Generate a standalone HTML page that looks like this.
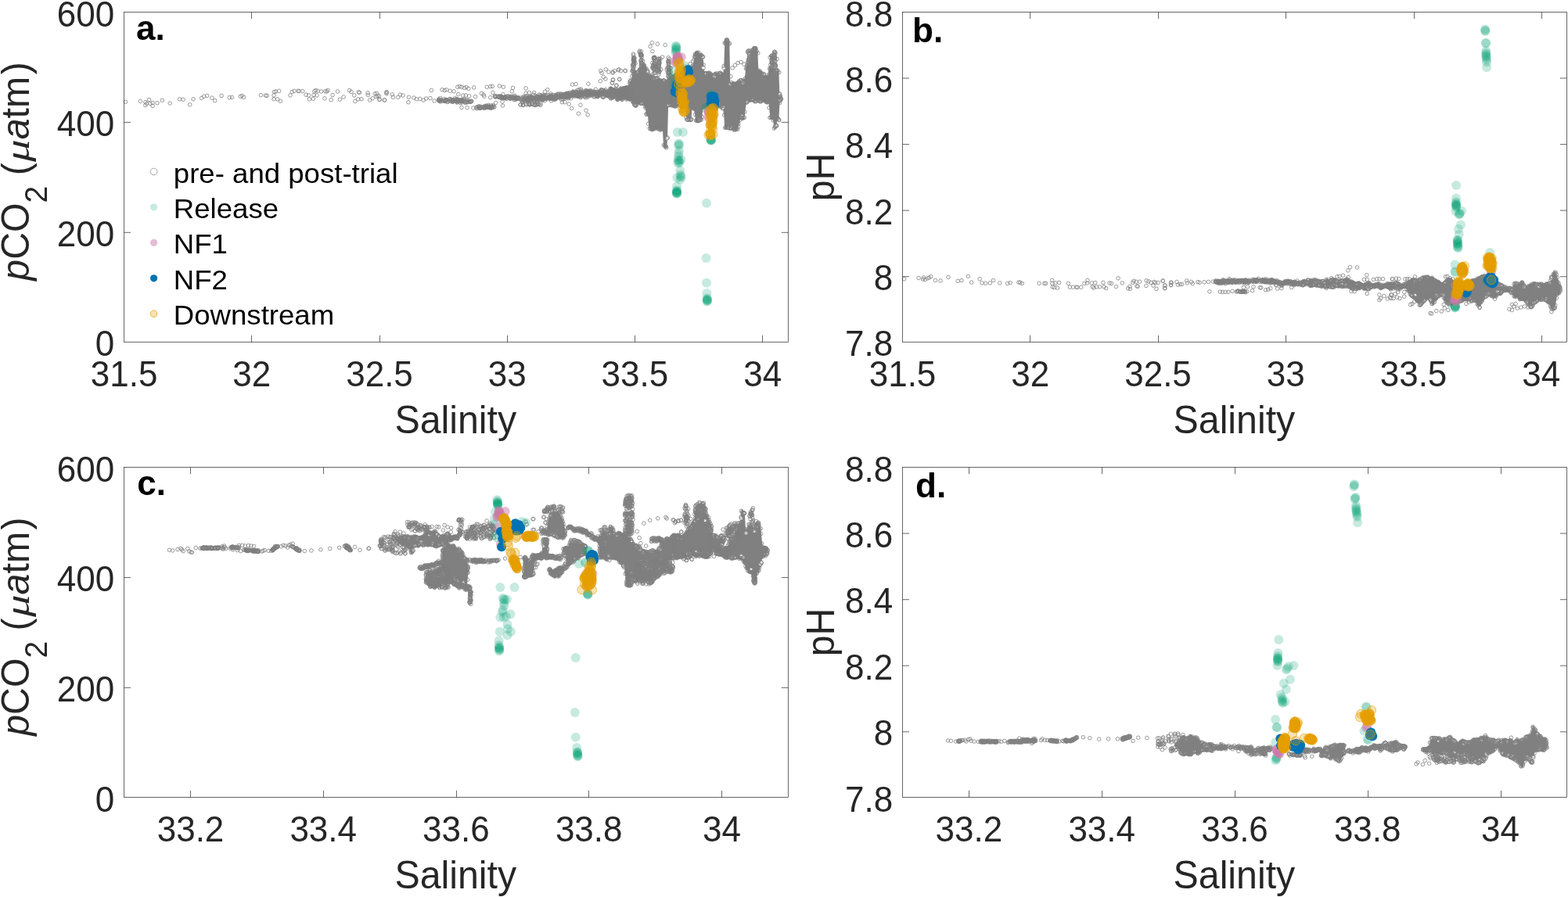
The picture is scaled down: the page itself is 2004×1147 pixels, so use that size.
<!DOCTYPE html>
<html lang="en"><head><meta charset="utf-8"><title>Salinity vs pCO2 and pH</title>
<style>
html,body{margin:0;padding:0;background:#fff}
body{width:2004px;height:1147px;overflow:hidden}
svg{display:block}
text{font-family:"Liberation Sans",Arial,Helvetica,sans-serif;fill:#262626}
.tk{font-size:44px}
.lb{font-size:48.3px}
.lg{font-size:36.6px;fill:#000}
.pn{font-size:44px;font-weight:bold;fill:#000}
.mu{font-family:"Liberation Serif","DejaVu Serif",serif;font-style:italic}
.ax{fill:none;stroke:#262626;stroke-width:.7}
</style></head><body>
<svg width="2004" height="1147" viewBox="0 0 2004 1147">
<rect width="2004" height="1147" fill="#fff"/>
<defs>
<marker id="g" markerUnits="userSpaceOnUse" markerWidth="8" markerHeight="8" refX="4" refY="4" orient="0"><circle cx="4" cy="4" r="2.3" fill="none" stroke="#808080" stroke-width="0.8"/></marker>
<marker id="h" markerUnits="userSpaceOnUse" markerWidth="8" markerHeight="8" refX="4" refY="4" orient="0"><circle cx="4" cy="4" r="2.3" fill="#fff" stroke="#808080" stroke-width="0.8"/></marker>
<marker id="r" markerUnits="userSpaceOnUse" markerWidth="14" markerHeight="14" refX="7" refY="7" orient="0"><circle cx="7" cy="7" r="6" fill="#009E73" fill-opacity="0.22"/></marker>
<marker id="p" markerUnits="userSpaceOnUse" markerWidth="14" markerHeight="14" refX="7" refY="7" orient="0"><circle cx="7" cy="7" r="6" fill="#CC79A7" fill-opacity="0.5"/></marker>
<marker id="b" markerUnits="userSpaceOnUse" markerWidth="14" markerHeight="14" refX="7" refY="7" orient="0"><circle cx="7" cy="7" r="6" fill="#0072B2"/></marker>
<marker id="o" markerUnits="userSpaceOnUse" markerWidth="14" markerHeight="14" refX="7" refY="7" orient="0"><circle cx="7" cy="7" r="5.7" fill="#E69F00" fill-opacity="0.3" stroke="#E69F00" stroke-width="0.6"/></marker>
</defs>
<style>.m{fill:none;stroke:none}</style>
<g id="panel-a">
<clipPath id="clip-a"><rect x="155.1" y="12.0" width="855.7" height="428.8"/></clipPath>
<g clip-path="url(#clip-a)">
<polygon points="780,112.1 781,112 782,111.9 783,111.8 784,112.2 785,112.7 786,113.1 787,113.2 788,113.3 789,113.4 790,113.7 791,114.1 792,114.4 793,113.6 794,112.9 795,112.2 796,111.8 797,111.4 798,111 799,110.7 800,110.4 801,110.1 802,110 803,109.8 804,107.2 805,105.1 806,103.1 807,101 808,96.1 809,92.2 810,90.6 811,90.6 812,90.6 813,91.2 814,90.9 815,89.9 816,88.3 817,87 818,85.7 819,84.4 820,83.4 821,82.3 822,81.2 823,81.2 824,82.1 825,83.1 826,86.1 827,88.4 828,90.7 829,93.8 830,95.5 831,96.1 832,96.5 833,96.5 834,96.5 835,97.6 836,98.6 837,99.7 838,99.1 839,98.4 840,97.8 841,99 842,100.2 843,101.5 844,101.6 845,101.8 846,102 847,101.8 848,101.9 849,101.3 850,101.8 851,102.3 852,102.8 853,100.8 854,95.2 855,94.6 856,94.9 857,95.1 858,95.4 859,96.1 860,96.8 860,136.9 859,136.3 858,135.7 857,135.8 856,136 855,136.1 854,137.1 853,178.9 852,190.2 851,189.5 850,188.8 849,188.1 848,187.1 847,167.4 846,166.5 845,167 844,167.4 843,167.8 842,167 841,166.2 840,165.4 839,165.6 838,165.7 837,165.8 836,166.6 835,167.4 834,168.1 833,167.6 832,167 831,166.5 830,165.8 829,160.3 828,148.3 827,147.9 826,147.5 825,140.1 824,137.5 823,134.9 822,133 821,133.5 820,134.1 819,134.7 818,133.9 817,133.2 816,132.5 815,133.8 814,135.5 813,137.7 812,137.2 811,135.6 810,134 809,133.8 808,132 807,129.4 806,128.9 805,128.5 804,128 803,127.8 802,128.1 801,128.4 800,127.5 799,126.7 798,125.8 797,126.9 796,127.9 795,128.9 794,128.5 793,128.1 792,127.6 791,128.2 790,128.7 789,129.3 788,128.1 787,126.9 786,125.7 785,126.5 784,127.2 783,128 782,127.6 781,127.3 780,126.9" fill="#808080"/>
<polygon points="860.3,97.6 861.3,96.7 862.3,95.7 863.3,94.8 864.3,95.8 865.3,96.8 866.3,97.8 867.3,97.1 868.3,96.3 869.3,95.5 870.3,95.5 871.3,95.4 872.3,95.3 873.3,94.8 874.3,94.2 875.3,93.6 876.3,95.1 877.3,95.9 878.3,95.7 879.3,93.8 880.3,91.9 881.3,90 882.3,87.9 883.3,85.8 884.3,83.9 885.3,83.7 886.3,79.9 887.3,74.9 888.3,70.5 889.3,68.7 890.3,68.1 891.3,68.7 892.3,69.2 893.3,69.7 894.3,68.9 895.3,68.2 896.3,67.5 897.3,68.4 898.3,71.4 899.3,81.5 900.3,90.8 901.3,92.4 902.3,92.5 903.3,92.1 904.3,91.8 905.3,91.5 906.3,91.8 907.3,92.5 908.3,93.2 909.3,93.9 910.3,94.7 911.3,95.5 912.3,95 913.3,93.5 914.3,92.1 915.3,92.7 916.3,93.2 917.3,93.8 918.3,92.4 919.3,91.5 920.3,91.1 921.3,91.9 922.3,92.8 923.3,93.6 924.3,93.7 925.3,82.8 926.3,53.2 927.3,52.9 928.3,52.6 929.3,52.2 930.3,52.8 931.3,53.4 932.3,54 933.3,106.3 934.3,105.6 935.3,105 936.3,105.3 937.3,105.6 938.3,105.8 939.3,105.5 940.3,105.1 941.3,104.7 942.3,104 943.3,103 944.3,101.7 945.3,101.3 946.3,100.9 947.3,100.9 948.3,101.2 949.3,101.5 950.3,101.8 951.3,101 952.3,95.8 953.3,85.7 954.3,85.3 955.3,84.9 956.3,84.6 957.3,83.8 958.3,83.1 959.3,71.7 960.3,62.9 961.3,64 962.3,65.1 963.3,64.3 964.3,63.5 965.3,62.8 966.3,63 967.3,63.3 968.3,66.2 969.3,88.5 970.3,89.4 971.3,89.5 972.3,90.4 973.3,91.3 974.3,92.2 975.3,93.2 976.3,93.8 977.3,94.5 978.3,95.4 979.3,96.3 980.3,97.2 981.3,96.6 982.3,90.3 983.3,85.2 984.3,85.1 985.3,85.6 986.3,86.2 987.3,86.5 988.3,86.8 989.3,87.3 990.3,87.5 991.3,87.7 992.3,87.9 993.3,87.3 994.3,88.1 995.3,89 996.3,118.3 997.3,120.5 998.3,122.6 998.3,128.8 997.3,131 996.3,133.2 995.3,154.8 994.3,154.1 993.3,153.3 992.3,163.5 991.3,164.2 990.3,165 989.3,165.7 988.3,155.3 987.3,153.5 986.3,152.7 985.3,152.4 984.3,152.1 983.3,139.9 982.3,131.2 981.3,132.2 980.3,133 979.3,132.4 978.3,131.8 977.3,131.1 976.3,130.9 975.3,130.6 974.3,130.6 973.3,131.1 972.3,131.5 971.3,131.9 970.3,131.2 969.3,130.5 968.3,129.6 967.3,130.2 966.3,130.7 965.3,131.2 964.3,130.9 963.3,130.6 962.3,130.2 961.3,130.4 960.3,130.5 959.3,130.6 958.3,130.8 957.3,131.1 956.3,131.5 955.3,132.2 954.3,132.9 953.3,133.7 952.3,145.3 951.3,151.7 950.3,153.2 949.3,152.7 948.3,152.3 947.3,151.8 946.3,152.9 945.3,156.5 944.3,160.1 943.3,164.4 942.3,166.4 941.3,167.1 940.3,167.3 939.3,167.5 938.3,167.7 937.3,167 936.3,166.3 935.3,165.5 934.3,165.6 933.3,165.8 932.3,165.8 931.3,165.4 930.3,165 929.3,164.6 928.3,165 927.3,165.3 926.3,165.7 925.3,148.4 924.3,141.1 923.3,139.9 922.3,139.2 921.3,138.5 920.3,137.9 919.3,137.6 918.3,137.6 917.3,138.1 916.3,138 915.3,138 914.3,138 913.3,138.1 912.3,138.2 911.3,138.3 910.3,138.6 909.3,138.8 908.3,139 907.3,139.4 906.3,139.8 905.3,140.2 904.3,139.4 903.3,138.7 902.3,137.9 901.3,137.5 900.3,137.3 899.3,138.3 898.3,140.2 897.3,151 896.3,154.5 895.3,155 894.3,155.5 893.3,156 892.3,156.3 891.3,156.7 890.3,157.1 889.3,156.5 888.3,148.6 887.3,142.1 886.3,140.8 885.3,140 884.3,140.7 883.3,155.7 882.3,156.3 881.3,155.5 880.3,155.2 879.3,154.9 878.3,154.6 877.3,153.9 876.3,136.1 875.3,135.5 874.3,136.7 873.3,137.8 872.3,139 871.3,138.1 870.3,137.2 869.3,136.3 868.3,136.1 867.3,136 866.3,135.9 865.3,136.5 864.3,137.1 863.3,137.7 862.3,137.3 861.3,137 860.3,136.7" fill="#808080"/>
<polyline class="m" points="786.6,116.8 786.7,123.6 788.4,115.7 810.8,134 812.4,92.7 812.7,92.9 814,92.4 820.2,132.1 827.8,91.9 835.6,99.8 838.3,100.3 848.6,103.1 852.5,177.1 854.1,97 854.4,134.3 856.8,96.3 857,133.8 859.6,98.1 861.1,133.2 863.5,98 867.4,132.5 870.4,96.9 870.3,132 872.3,97.4 875.2,133.5 876.2,96.3 877.8,152.8 878.3,98.5 883.6,152.8 888.2,71.8 893.3,153.3 897.5,71.7 898.2,72.8 899,86.7 902.5,94.4 905.2,136.9 910.6,137.1 913,97.5 915.7,135.7 918.4,133.7 919.8,94.3 923.2,136.8 924.3,137.6 925.1,87 931.5,163.2 933.1,107.7 934.4,163.3 946.8,102.8 948.2,148.9 949.4,105.7 954.8,130 961.7,127.7 966.5,129.3 971.1,129.5 972.7,129.7 976.2,95.1 990.8,161.5 992.3,90.5 992.5,161 995.8,153.7 996.6,121.1 997,128" marker-start="url(#h)" marker-mid="url(#h)" marker-end="url(#h)"/>
<polyline class="m" points="160.5,130.3 179.3,129.4 185.8,130.6 187.5,132.4 190.5,127.5 191.9,132.4 195.1,131.5 195.1,135.5 185.8,134.5 201,131.7 207.3,128.2 217.2,132 229.5,126.8 234,127.2 242.7,133.8 247.1,126.8 257.6,125.4 260.7,123.1 264.7,122.4 270.9,125.1 274.7,128.6 283.1,122.4 293.2,124.7 296.4,124.4 307.2,123.3 309.3,122.4 311.6,124.4 333.4,121.7 339.5,122.1 341.2,122.3 350,121.9 350.5,117.5 352.6,117 356.6,116.3 350,126.8 354.7,126.8 358.4,129.3 370.9,121.9 373.2,117.5 376.2,116.3 380.9,116.3 382.3,116.5 386.8,116.5 391,121.2 394.5,121.9 395.4,126.8 400.3,126.3 401,121.4 401.8,116.7 403.6,115.5 405,121.9 406.2,116.3 410.6,117 414.9,125.8 415.8,116.7 417.7,117 419,115.5 423.2,127.7 425.1,121.6 431.5,117 434.3,127.2 439,124 446.6,115.5 449,117.5 452.7,121.9 453.9,129.4 457.7,126.8 458.3,117.7 459.5,118.4 461.9,126.6 470.1,118.8 470.3,121.4 472.6,128 476.2,125.8 479.2,119.8 481,123.7 482.7,122.4 485,127.2 491.4,127.9 494.1,117.5 494.1,119.8 481.4,119.4 484.4,122.9 485.2,127.2 491.4,128.1 494,118.5 501.3,120.8 502.4,124.3 508.8,124.3 511.4,121.1 514.9,122 522.4,124.3 521.9,130.7 528.9,125 532.4,126.7 536.8,126.4 541.1,128.1 544.6,126 549.9,125.5 551.3,115.4 555.1,129 565.1,114.7 568.2,115.5 570.8,114.8 575.2,116.2 580.1,116.8 584.8,111.2 587.4,110.6 590,111.2 593.5,112.4 596.1,111.5 598.8,113.3 605.7,111.9 585.7,120.6 591.8,122 595.3,122 599.6,122.9 607.5,123.7 590,137.4 597,137.7 604.9,138.1 615.4,119.4 618,121.1 618.8,123.2 622.3,111.2 626.7,110.6 629.3,110.3 638.4,110 643.3,111.2 629.9,118.5 626.7,124.6 633.7,131.6 642.1,129.9 642.4,135.1 655.5,112.4 654.3,116.8 672.1,112.9 672.1,119.4 676.5,118.5 682.6,118.5 699.7,114.7 696.6,117.3 731.5,108 735.9,107.5 751.9,107.2 727.1,133 730.6,138.6 742,134.2 739.4,145.2 749,141.2 751.2,146.8 718.4,130.7 721.9,130.7 767.8,90.6 769,93.2 774.3,88.8 771.3,98.4 773.9,101 767.3,103.7 777.8,92 783,93.2 785.6,90.6 790.9,88.8 793.5,90.6 799.3,90.7 783.5,101.9 782.5,106.3 791.8,101.6 787.7,109.4 805.4,103.7 583.7,127.7 569.8,127.4 571.6,130.2 585.5,127.9 582.6,128.9 597.2,130.4 580.5,128.5 595.7,130.7 593.4,127.9 587.8,129.4 589.7,128.8 593.2,126.7 576.2,129.6 589.4,129.4 568.6,129.5 589.3,128.5 596.9,131 583,129.4 593.9,129.8 570.4,128.6 594.3,131.1 581.4,125.8 592.3,128.6 590.1,127.5 582.7,128.9 569.3,129 567.6,126.6 580.7,128.2 598.1,128.4 572.3,130.3 573.2,128.9 578.8,130.2 584.8,127.2 563.8,128.2 601.4,130.1 578.3,130.1 574.9,126.7 576.5,127.5 596.3,127.7 580.6,128.1 583.9,131 587.1,129 600.4,130.5 590.3,127.5 585.8,129.6 585,127.6 570.2,128.1 571.2,127.9 587.3,127.9 602.2,129.4 562.6,125.5 584.3,129.5 562.4,128.5 564.4,128.6 588.2,131.5 599.2,129.3 583.3,126.4 599.8,129.7 562,129.2 560.7,128.7 563,130 569.5,129.3 588.5,129.7 584.1,128.1 566.2,128.8 561.4,128.8 584.3,130.5 577.4,129.1 584.7,127.2 602.1,129.9 575,126.4 594.1,130.9 560.6,127 591,129.1 566.7,128.6 590,128.9 578.3,129.7 578.5,128.6 561.1,127.4 602.7,129.3 576.3,127.8 577.9,127.5 561.1,128.2 588.1,128.4 570,127.6 563.1,127.9 566.3,128.8 578.7,128.8 578,127.7 590.1,131 626.2,136.9 614.1,136.1 617.4,137.5 621.9,137.4 623.4,136.8 629.6,135.8 623.2,137.2 630.4,134.5 620,137.9 611.3,138 623.5,136.6 627.4,135 626.9,136.9 628,138.2 617.4,137 625.9,137.2 618.9,138.4 621.1,135.8 629.1,136.2 615.7,137.5 631.8,136.6 623.4,136.4 620.7,137.2 624.4,137.4 631.1,137 609.3,137.1 624.5,137.3 614.7,137.4 621.6,135.1 611.7,136 619.4,135.6 628.1,137.4 624.4,136.5 623.8,136.9 608.6,137.5 612.2,136.4 624,136.3 629.5,136.9 622.1,136.4 613.2,136.8 629.2,137.2 613.4,138.5 611.3,136.9 609.3,138.9 614,138.4 625.7,136.1 618.7,136.5 626.6,138.2 624.3,134.4 619.5,136.9 641.4,124.2 659.3,124.3 660,126.8 652,123.4 662.6,124.7 656.4,125.8 657.2,127.7 658.7,124.9 640,123.1 656.9,124.4 657.8,124.9 658.7,127.2 636.9,124 652.1,126.1 654.7,125.3 662,125 639.7,125.1 640.9,124.2 637.9,124 645.5,123.7 644.3,124.5 661.9,125.8 643.1,120.7 632.7,123.8 644.5,124.6 638.2,122.8 653.3,125.2 657.1,125.2 645.2,124.7 659.7,125.8 635.2,123 651.3,125.3 650.9,125.3 633.8,123.8 647.8,124.7 633.2,123.9 649.4,122.8 655,125.1 640.7,123.4 643.9,124.8 641.4,124.1 659.1,125.3 654,124.7 653.8,123.2 662.6,125.4 657.9,122.3 642.2,124.2 645.9,125.4 641.5,124.1 659.3,125.8 644,125.2 647.6,126.2 656.5,123.1 637.1,124.1 637.5,123.7 632.5,122.4 651.9,126.1 654.1,124.8 662.9,126.4 641.8,125 660.3,125.4 640.9,125.6 642.4,125.7 654.3,125.6 644.3,125.4 650.6,123.7 648,123.3 646.1,125.8 652.2,125.7 662.7,125.3 672.2,133.6 679.8,132.9 684.2,134.6 668.4,134.5 668.2,133.8 686.8,131.6 677,133.7 690.7,134.5 686.3,133.6 675.6,132.7 683.7,134.2 668.5,134.2 665.3,134 688.4,133.4 676.9,133.7 679.6,133.1 677.7,133.4 685.6,133.5 665.2,133.9 674,133.7 681.9,134.1 690.9,132.7 688.4,133.1 683.8,133.8 676.2,133.5 721.4,120.8 687,123.6 677.4,128.6 721.9,123.7 724.8,122.9 709.2,123.2 723.5,120.7 684.2,122.3 675.6,124.9 707.8,124.7 728.4,121 669.5,128.2 707.4,124 673.5,127.5 677.5,128.3 670.9,125.9 710.6,121.4 692.1,124.1 704.5,128.8 729.2,122.5 668.3,126.3 723.5,122.1 689.3,121 704.7,122.4 709.3,126.7 719.3,126.4 700.9,124.6 676.6,126.2 690.3,124.3 725.4,124.8 690.6,127.5 692.1,126.9 721.4,125.9 720.3,120.4 710.2,124 714.3,120.3 724,122.8 717.6,124.7 670.9,128.8 689.5,125.9 669.6,123.5 729.1,118.6 673.7,124.9 723.6,123.4 686.8,124.5 685.9,123.4 717,120.1 716.7,123.6 675,126.3 695.1,126.6 672.9,122.6 727.7,123 704.7,123.6 722.3,123.4 719.4,121.8 692.4,127.2 672.1,126.9 672.6,127.5 673.8,128.3 695.3,123.1 709.8,124.5 723.7,122.6 723.5,123.4 674.7,127.5 726.6,120.2 725.5,124.1 722.1,122 710.5,122.5 681.5,126.8 707,121.4 697.9,125.5 673.6,126.1 691.3,122.3 695.4,122 717.1,123.3 702,123.4 681.4,125.7 716.2,120.2 710,123.3 681.3,125.7 729.2,122.2 688.7,125.3 697,121.7 719.6,122 722.2,124.6 702.4,124.4 706.9,125.5 728.7,123.3 682.7,128.1 675.4,126 711.3,125.1 713.7,122.4 711.4,122.9 724.9,119.2 685.6,126.5 704.2,123.5 723.7,123.9 722.5,120.3 702.1,125.8 703.8,119.9 682.5,127.7 679.6,124.5 674.5,128.7 686.4,125.3 666.5,128.7 708.2,126.3 714,124 682.4,128.2 727.5,121.4 685,126.2 703.8,122.9 668.5,124.5 677.5,127.1 695.1,125.6 677.1,127.4 682.4,128.5 710.8,125.8 673.7,126.3 684.3,125.4 726.5,119.3 696,124.6 686.5,125.9 711,123 679.7,124.4 704.7,122.3 708.4,127.7 688.4,126.1 718.6,122.5 707.4,121.8 676.6,126.5 720.2,124.4 725.3,124 694.2,126.1 680.2,124.7 683.1,128.6 693.7,121.3 674.6,128.7 687.3,125.1 727.1,122.6 718.7,121.9 692.3,126.5 679.4,126.2 678.5,126.7 722.3,120.7 723.8,122.8 717.5,127.4 685.6,126.9 716.1,121.9 711.1,126 727.3,124.4 667.6,130.3 715.2,125.2 681.7,125.7 728.6,121.2 674,127.2 697.1,125.7 698.2,125.5 686.4,125.6 673.8,129 693.5,128.1 670.8,126.4 695.9,128.8 713.3,123.7 690.1,124.5 726.6,120.3 722.8,122 708,124.5 675.8,124.4 704,126.4 725,120.7 690.4,125.6 730.6,122.1 695.2,124.6 698.3,124.6 702,124.2 704.1,125.3 690.4,122.1 706.2,125.7 730.2,122.7 688.8,124.4 678.7,123.6 670.3,125.3 708,124.4 726.6,121.2 679.2,126.4 686.6,123.4 700.2,121.4 709.7,126.6 710.4,122.9 671.9,127.4 691.6,124.6 725.6,121.9 693.7,125.1 677.2,125.2 724.2,119.3 719.5,123 692.5,125 698.3,122.2 687.1,126.1 729.5,125.8 705.4,126.2 694.1,127.5 681,126.5 721.3,120.7 720.1,122.6 714,124.3 698.1,125.8 677.2,123.2 689.1,126.7 687.9,126.1 712.7,120 686.5,128.6 718.2,123.4 713.1,121 715.2,123.3 699,125.5 665,126.8 727.3,122.7 713.1,124.2 684.6,124.7 693.9,125.7 718.3,120.9 718.6,123.3 722.3,121.3 699.3,124.5 675.5,126.3 703.5,121.9 668.2,131 671.8,124 707.4,123.5 686.3,127.5 697.5,124.8 726.6,120.2 674.3,126.3 699.1,126.9 697.8,125.4 730.4,120.8 716.4,122 698.3,125 690.2,126.2 693.5,123.4 701,124.9 670,128 709.2,125.5 703.5,126 693.2,123.4 689.5,124.3 679,123.8 703.6,124.2 667.5,127.5 710.8,121.9 728.2,118.6 681.7,121.1 697.5,126.2 680.8,125.8 731,120.4 724.3,120.1 666.3,125 711.3,122.6 726,125.8 780.2,118.3 795,116.8 800.6,121.1 770.4,117.6 794.6,120.8 787.5,120.1 750.7,118.3 787.3,116.4 806,120.4 783.1,118.4 799,118.3 764,123.6 754.3,120.8 772.8,118.1 805.1,116.4 784.1,115.1 742.4,122.7 750.7,122.3 737.1,120.4 753.8,117.7 782.9,119.1 735,118.8 768.4,118.1 787.5,121.5 765.6,119.5 784.3,119 742,117.4 743.2,120.1 780.1,121.3 762.8,121.7 755.7,118 734.8,121.8 751.6,118.7 743.2,121 776.1,117.2 785.2,117.4 738,118 802.7,119.6 789.2,120 753.5,120.4 768.5,118.6 752.8,120.4 770.2,123.1 767.3,118.4 742.2,119.9 779.5,121.7 737.7,122 791.6,118.7 789.4,119.6 747.4,121.8 742.6,113.9 789.9,117 734.6,121 752.8,116.1 748.8,116.7 781.8,119.5 758.4,119.8 770.4,121 805.5,119.6 751.6,117.4 781.3,120.8 804.2,114.4 800.3,120.3 799.9,117.4 773.5,120.2 792.9,119.6 741.9,123.6 749.3,117.2 769,115 767.9,119.4 784.1,121.7 791.1,121.6 793,113.1 739,121.6 779.1,117.5 732.4,116.9 740,122.9 748.4,119.9 733.9,119.1 737,119.3 752.9,122.9 739.8,119.2 756.4,121.9 795.7,118.7 768.6,115.1 759,119.6 746.5,118.4 797.2,115.6 781,120.4 762,119.4 735.5,120.9 738.8,122.6 754.7,119.8 749.9,120.8 796.7,119.5 737.7,118.6 777.7,123.2 737.7,123.1 737.8,121.3 799.5,120.7 792.7,122 771,123.3 806.8,117 792.9,117.6 793.4,119.9 779.5,122.2 781,118.4 755.6,121.2 791.4,120.4 765.9,119.6 770,118.5 789.3,121.8 745.6,119.9 741.8,124.9 766.2,122 763.9,119.6 791.2,119 775.5,121.6 771.5,124.5 733.9,118.6 780.8,117.7 773.8,120.5 747,119.5 790,118.6 791.6,115.3 755.3,119.1 774.2,120.9 764.3,121.5 786.9,113.6 762,121 731.9,120.3 806.5,118.7 782.3,120.1 767.1,120.4 780.9,119.8 734.1,122.1 800.3,123.2 793.5,122.7 799,119.7 782,122.4 732.6,120.2 792.1,118.8 797.2,118.1 791.4,120.6 802,119.9 805.2,118.2 780.8,119.2 806.5,118.8 778.8,120.2 774.3,121.8 753.4,116.9 776.1,122.3 765.2,117.2 791.4,121.9 743.8,119.1 732,120.7 761.1,120.8 769.3,119.7 786.9,122.4 765.5,118.5 736.1,120.1 752.2,118.2 757.7,119.5 802.4,119.1 731.4,119.6 747.6,120.6 759.8,118.7 772.6,117.3 800.1,119.5 802.3,116.3 794.3,117.5 773.7,119.5 751.1,121.4 759.2,123.8 784.5,118.6 738.3,122.8 740.3,121.7 764.4,122.4 787.4,117.8 764.5,120.7 783.4,120.3 753.9,118.7 763.5,121.3 738.8,119.2 780.5,117.8 784.5,121.2 794.4,115.1 800.8,119.7 732.1,117.7 751.2,116.8 744,118.8 761.3,114.2 735.2,120.3 776.2,116.9 767.5,120.4 758.3,120.9 799.9,121.7 739.3,117.2 773.1,116.8 766.3,118.7 769.2,119.7 769.3,115.7 749.5,120 780.7,115.3 765.2,119.2 802.4,120.4 779.9,119.7 778.4,120.6 784.8,116.7 779.3,121 758.2,119.4 738.9,121 751.1,120 758.8,117.1 740.4,121 786.3,117.3 779.2,117.2 790.7,119.4 753,118.8 797.8,120.4 759.6,118.2 797.6,121.1 800,120.3 759.5,121 803,116.9 765.3,120.8 733.1,121.9 793.7,121.2 800.2,120.1 782.3,118.9 785.2,121.2 736.8,122 804.3,117.5 780.5,119.1 804.4,117.3 788.4,119.9 798.6,118.8 786.9,119 738.2,118.7 763.5,119.1 761.3,120.6 733.1,120.3 738.1,115.2 803.5,116.9 784.4,117.9 779.5,120.5 795.5,118.8 767.4,119.5 787.4,116.7 749.2,116 752.9,119.3 789.2,116.7 777.7,118.6 800.3,118.3 783.2,123.5 792.3,119.3 800.6,115.5 801.5,117 787.3,116.8 763.6,120.9 781.1,113.9 770.1,124 768.6,118.6 738.9,122 747.7,123 762,118.1 738,122.6 739.5,121.9 786.7,118.7 742.9,115.8 793.9,113.4 797.6,120 799.5,119 742.8,122.2 804.5,115.6 773.8,114.6 792.8,122 751,124.1 778.6,118.8 738.7,120.3 801.6,115.4 776.8,120.9 736.1,117 790.9,119.2 794.1,119.6 798.4,112.6 740.4,123 801.6,116.7 752.8,117.8 731.9,122.6 739.1,119.1 785.9,116.8 784.1,119 797.8,117.3 787.8,117.7 777.4,119.1 746.1,117.1 740.6,120.6 748.8,115.6 739.5,122.3 744.5,119.9 761.1,120.2 752.4,120.2 803.2,121.3 735,120.7 771.7,118.8 758.9,119.7 747,118.2 787.8,118.4 742.2,117.2 806.4,116.1 738.7,122.2 752.5,121.2 755.7,116.7 791.9,119.2 773.4,117.5 799.9,120.1 773.6,120.4 731.7,118.8 742.4,118.8 775,118.5 766.4,116.8 754.3,120.5 786.9,122.6 798.4,116.2 776.3,118.2 734.5,123.3 752.9,118 792.2,120.9 735.3,117.5 804,119.8 780.8,116.7 732,120.9 751.8,120 792.8,119.1 792.2,121.5 747.7,120.2 788.9,119.5 753.4,118.4 748.6,119.5 744.6,123 796.4,117.7 748,119.7 799.3,112.8 768.8,114.7 763.6,120 755.3,117 734.1,120.5 746.7,119.3 767.6,116.2 799.2,120.9 771.9,115.6 803.6,120 802.3,115 748.6,124.9 772.8,119.3 737.7,120.2 785.5,116.8 759.4,118.9 739.5,119.3 776.8,121.4 801.9,117.8 747.2,119.8 790.6,117.2 760.8,118.9 749.7,120 750.4,116.4 778.1,116.8 732.3,118.3 764.2,119.3 801.9,121.7 751.1,119.1 776.9,122.1 762.3,123.4 791.5,117.6 750.7,121.6 755,121.8 797.4,119.2 786.8,119.2 788.3,114.9 742,119.1 776.8,118.9 788.8,117.7 746.8,119.8 803.8,116.6 779.2,121 732.6,119 776.8,122 751.3,117.9 806.8,121.4 772.9,116.3 782.7,119.7 760.1,123.5 740.4,120 765.2,121.1 772.9,120.7 779.1,120.4 794.3,120.7 751.3,119.3 805.2,118 784,118.7 799.5,116.4 781.9,118.1 759.2,119.9 755,115.8 761.4,117.7 763.8,123.2 788.8,118.2 759.9,117.2 804.7,116.4 738.3,119.4 754.4,120.3 791.6,120.1 740.5,114.5 795.6,120.4 805.9,118.6 780.1,117.7 743.6,119.8 747.1,123.7 793.1,116.1 809.7,70.9 809.3,76.6 809.6,88 810,74.3 810.5,85.1 810.4,81.9 809.8,90.8 809.7,76.9 810.4,77.9 809.5,81.3 810,76.8 809.7,73.6 809.9,76.1 810,91.4 809.8,79.6 809.4,69 810.2,76.6 809.9,83.8 808.6,83.1 810.5,77.3 810.5,73.7 809.6,74.7 809.7,82 811,74.6 809,83.1 809.1,88.6 808.4,90.2 810.3,77.9 812,81 808.6,85.5 807.8,91 810.2,75.1 811,78.9 819.3,78.2 819.4,70 819.4,83.6 819.7,80.1 819.9,70.3 819.8,81.3 818.9,71.6 819.3,77.3 819.4,71.6 819.5,80.2 819.5,70.3 819.4,65.8 819.8,76.9 819.7,80.2 819,69.4 819.3,83.8 819.2,70.5 820.2,73.1 819.6,77 819.2,77.6 820,70 821.6,77.8 817.5,65.1 821.5,81.5 818.8,70.5 819.7,80.3 818.3,68.2 817.3,66.7 818.9,70.5 818.7,68.6 836.5,75 835.6,73.6 836.1,76.1 836.3,80.5 835.9,81.1 835.9,74.4 835.8,93.8 836.8,73.2 836.4,73.7 836.8,74.3 836.8,78.8 835.5,84.7 836.9,85.8 836.2,90.1 835.8,88.2 836.6,74 835.8,87.3 836.8,88 835.9,88.8 835.4,74.9 836.7,92 836.3,81.1 835.5,73.6 836.5,84.9 837.5,81.7 833.5,95.6 837.5,83 834.5,83.5 834.1,85.7 835.8,83.3 833.9,80.4 837.1,84.9 838.2,85.9 833.7,86.9 834.6,86 837.1,93.4 841.6,92.8 842.4,76.1 841.4,89.5 842.4,85.5 842.2,81.6 842.3,79.4 842.5,80.8 842,74.9 842.6,92.1 841.9,87.1 842.6,89.4 841.9,78.8 842.2,83.1 842.8,91.1 841.8,95 841.8,83.1 842.7,77.7 842.2,90.6 842.3,79.6 841.5,75.5 840.2,90.3 840.8,88.5 839.9,76 843.1,80.6 843.9,75.2 842.3,84.5 844.9,88.9 842.6,79.7 839.9,83.8 841.4,84.2 853.8,78.1 854.9,92.9 854.7,80.9 854.4,89.4 855.1,89.4 854.1,86.9 854.8,78.4 854.9,79.7 854.9,87.5 854,80.1 855.2,75.6 854.8,82 854.5,78 854.7,92.1 854.6,94.2 854.9,86 854.9,89.4 854.1,85.5 854.5,82.9 854.6,93.2 853.2,92.8 854.2,73.7 855.3,91.2 852.8,87.4 857.1,87.1 852.1,89.2 854.2,93.8 855.8,92.2 857.2,92 856.7,86.6 890.6,67.3 890.1,71.2 890.8,78.2 890.5,77.3 890.1,68.4 890.9,67.6 891.6,69.4 890.1,75.4 891.3,68.6 891.3,69.1 890.6,69.3 891.7,68.2 888.3,69.2 893,67.3 890,71.7 956.8,76.7 957.4,69.7 957.4,83.6 957.2,67.4 957.6,73.5 957,78.8 957.1,80.1 956.9,64.9 957,83.7 957.3,72 957.4,83.2 956.6,80.9 957.5,81.6 957.4,74.6 956.9,75.7 957.1,77.6 957.5,83.8 957,68 958.2,65.1 955.5,66.5 959.5,72.3 959.3,83 955.7,83.9 956.1,65.1 958.6,84.6 956.8,75.7 955.5,79.4 964.2,61.9 964.5,61.6 964.2,63.5 964.4,61.9 965,61.9 963.9,61.9 964.6,64.7 964,63 965.9,61.6 963.8,61.7 961.8,64.3 965.7,62.8 986.7,75 986.5,73.2 986.1,71.8 987.2,80.1 986.5,74.7 986.2,71.9 986,80.3 986.9,78.7 987.1,82.6 986,77.6 986.7,80.9 986.6,85.4 987,79 986.5,80.7 986.7,74.3 986.7,78.5 987.5,73.7 988,73.5 986.1,71.3 987.1,82.7 984.8,82.6 984.1,73.4 986.3,71.4 989,69.1 989.7,73.2 990.5,74.2 989.8,67.1 990.4,69.6 991.1,67.5 990.9,78.7 990.5,73.1 989.8,66.4 989.8,78.3 989.3,76 989.7,83.1 990,74.3 990,66.3 989.9,81.9 989.6,71.1 990.3,73.7 991.4,84.2 990.4,85.3 991.3,83 988.4,70 993,75.4 990.9,83.1 991.1,85 990.6,76.7 928.5,50.8 929.3,51.5 929.3,53.9 928.6,52.7 929.7,53 929.5,51.1 927.3,54.7 929.6,53 928.2,51.8 783.4,92 790.3,89.7 798.9,90.3 783.4,102.3 791.5,101.2 782.3,105.7 788,109.2 805.2,104 831.1,59.3 833.4,54.7 840.3,56.2 850.2,57.5 833.9,65.6 846.6,73 933.8,97.7 934.9,105.7 936.1,86.8 939.5,83.4 943,80.5 947,79.4 951,82.2 954.5,83.9 882.1,81.6 885.6,78.2 887.9,72.5 779.8,113.5 779.7,124 781,113.2 780.6,126 781.6,114.1 782.4,124.5 783.3,114.8 783.2,122.6 783.6,114.9 784.4,123.1 784.5,116.4 784.9,123.2 786.1,114.9 785.9,121.7 786.5,116.4 786.7,124.1 788.2,118.4 788.5,126.9 788.7,116.9 789.3,127.4 790.1,117 789.6,127.1 791,117.9 790.6,123.2 792.1,116 792.2,124 793,115.3 793.4,124.8 793.6,114.6 794.5,127.2 795.1,113.7 795.1,127.4 795.7,113.3 795.7,123.2 796.8,112.8 796.5,124.4 798.3,112.6 797.7,124 799.2,116.5 798.7,124.9 800,112.2 799.6,124.7 800.7,111.9 800.9,127.1 801.7,111.9 802.2,126.2 803,111.3 802.6,124.1 803.7,111.7 804.2,126.7 804.9,106.4 804.6,126.8 805.9,106.7 805.5,126.8 806.6,102.5 807.4,124.8 807.7,97.2 808.4,129.8 809.5,95 809.4,130.4 810.3,91.9 809.8,131.5 811.3,93.7 811.3,134.4 811.5,92.3 812,134.6 813.2,94.9 812.6,135.2 813.6,93.8 813.6,134.3 815,93 814.6,129.9 815.7,91.8 815.9,130.7 817.2,89.6 817.5,128.4 818,88 817.7,131.1 819,87.3 818.5,132.4 820.5,86 820.2,132.3 820.8,83.8 820.9,131.5 821.6,86 822.2,129.9 822.6,83 823.2,132.7 823.5,83.6 824.3,136 824.7,87.5 825.2,138.2 825.9,87.7 825.9,145.7 827.3,90 826.5,146.6 828,91.9 827.7,145.1 828.8,95.3 828.7,158.2 830,96.8 830.4,164 830.8,99 830.7,164.6 832,97.8 832.4,164 833.4,98.2 833,165.8 834.4,98.4 834.1,165.4 834.8,100.2 835.2,165.1 836.2,100.3 836.3,163.5 836.7,101.4 837.4,163.1 837.9,100.2 837.7,164.4 839.1,100.1 839.1,162.5 839.8,99.8 840.4,164.1 840.8,100.5 840.6,162.3 842.2,103.3 841.6,165.1 842.6,102.9 843.3,162.9 844.3,103.1 844,166.2 844.8,103.1 845.4,165.6 845.8,104.2 846.2,163.1 847.2,103.4 847.4,164.7 848.4,103 848.2,185.5 849.1,103.3 849.4,186.1 849.6,105.6 850.3,187.7 850.6,105 851.4,187.2 851.9,106 851.7,188.9 852.7,103.8 853.3,176.1 854.1,97.6 854,134.8 854.9,99.3 855.3,134.3 855.9,96.9 856.2,133 856.9,96.4 856.9,134.4 857.7,97.9 857.9,132.9 858.6,99.6 858.9,133 859.8,99.6 860.5,133.3 780.7,113.2 782,114.7 781.7,116.2 780.9,117.7 781.6,119.2 781.6,120.7 780.7,122.2 781.2,123.7 780.8,125.2 858.1,97.9 859.6,99.4 858.6,100.9 858.9,102.4 859.5,103.9 858,105.4 858.5,106.9 858.3,108.4 859,109.9 859.4,111.4 858.7,112.9 858.3,114.4 859.5,115.9 859.9,117.4 858.1,118.9 859.4,120.4 859.3,121.9 858.6,123.4 858.7,124.9 859.6,126.4 859.3,127.9 858.7,129.4 858.4,130.9 859.5,132.4 859.2,133.9 859.3,135.4 860.3,100 860.7,134.5 861.1,100 861,135.3 862.8,97.2 862.3,135.6 863,96.4 862.9,136.4 864.7,98 864.7,135.2 865.3,98.3 864.9,131.9 866.3,100 866.6,132 866.9,98.9 867.8,133.4 868.7,98.9 868.3,134.8 869.4,96.9 869.4,132.8 870.1,98.5 869.9,134.8 871.7,96.6 871.5,136.8 872.1,96.7 872.4,137.8 873.6,98.2 873.1,134.9 874.6,95.3 874.7,134.9 875.6,95 875,133.6 876.5,98.4 876.7,134.9 877.7,101.3 877.2,150.4 878.2,99.3 878.8,153.1 879.2,95.2 879,153.3 880.6,94.2 880.5,152.4 881.1,91.7 880.9,152.8 882.5,91.5 882.8,153.5 883.4,87.6 883.4,152.1 884.1,87.1 884.4,137.6 884.9,84.9 885.3,136.7 886.4,83.1 886.6,138.2 887.1,76.1 887.6,139.6 888.4,72.4 888.4,146.5 889.1,69.9 889.5,154.1 890.3,70.3 890.1,153.4 891.1,69.9 890.9,154.5 892.1,71.5 892.5,154.8 893.4,70.9 893.3,154.3 894.7,71.2 894.3,152.7 895.8,71.3 895.7,153.4 896.2,70.3 896.1,152.8 897,73 897.1,149.4 898.5,72.7 898.6,136.7 899.1,82.8 899.3,137 900.7,94.1 900.1,135.4 901.1,94.4 901.1,136.1 901.8,93.9 902,134.6 902.9,93.5 902.9,136.2 904.2,94.8 904.2,138 905,93.3 904.9,137.7 906.3,93.1 906.4,138.1 907.5,93.9 907.6,137.6 908.4,95 908.8,136.5 909.1,95.6 909.1,135.5 910.3,97.7 910.5,137.2 911.6,101.8 911.3,136.5 912,96.2 912.5,135.4 913.6,94.9 913.4,134.3 914.1,94.5 914.3,134.5 915.7,93.8 915,136.4 916.5,95.5 916.4,135.7 917.6,96.1 917.3,134.4 917.9,95.6 918.1,135.1 919.1,93.6 918.9,135.8 920.7,93.1 920.4,134.8 921.4,95 921.3,136.7 922,94.3 922,135.6 923.8,95.3 923.4,138.8 924.2,96.7 924.8,135.4 925.2,84.4 925.6,147 926.2,54.9 926.7,163.5 927.4,55.7 927.5,162.6 928.4,54.7 928.7,161.1 929.5,53.5 929.5,163.1 930,55.3 930.2,163.6 931.3,56.3 931.1,162.7 932.5,55.5 932.3,164 933.5,107.9 933.8,164.4 934.7,109.2 934.1,163.2 935.8,107.8 935.5,162 936.3,106.9 936.8,163.6 937.5,106.9 937.4,165 938.3,107.1 938.6,166.3 939.4,108.1 939.3,164.5 940,107.9 940.6,165.7 941.3,107 941.3,164.6 942.1,106.4 942.8,165.1 943.4,105.7 943.7,161.9 944.2,103.9 943.9,158.3 945.5,105.7 945.8,153.6 946.7,102.6 945.9,150.5 947.7,102.6 947.2,149.9 948.8,103.7 948,150.8 949.6,103.3 948.9,151.4 950.7,104.7 950.1,150.5 951.4,104.4 951.3,150.4 952.5,100.1 951.9,142.9 953.4,87.7 953.4,131.8 954.4,86.7 954.4,130.6 955.2,89 955.3,130 956.2,85.8 956.1,128 957.1,87.5 957,126.9 958.5,84.6 958.3,127.7 959.7,73.3 959.1,127.7 960.8,64.2 959.9,127.3 961,66.1 961.1,126.8 962.5,68.3 962.2,125.8 963.6,68.3 963.5,128.1 964,67.5 964.5,129.6 965.5,64.4 965.6,129.8 966.4,67.1 965.9,126.5 967.1,65.2 966.9,128 968.7,67.9 968.2,125.8 968.9,89.7 969.2,128.3 970.4,92.4 970.5,129.5 971.3,90.9 971.8,129.8 972,92.5 971.9,129 973.3,95.1 973.3,128.3 974.3,93.9 973.9,127.8 975.1,95.8 975.6,128.3 976.8,95.1 976.7,125.9 977.8,98.8 977.5,128.2 977.9,99.1 978.8,130 979.7,99.4 979.8,130.7 980.8,99.9 980.3,130.8 981.3,98.3 981.7,130.5 982.6,95.2 982.4,128.7 983.7,88.3 983,137.8 984,86.7 983.9,150.4 985.7,87.2 985.2,150 986.4,88 986.1,149.3 987.4,90.2 987.7,150.1 988.6,89.5 988.1,153.9 989.3,91.8 989.4,164.1 990.1,91 990.6,162.6 991.7,90.8 991.3,160.6 992,89.5 992.6,160.5 993.8,92.2 993.7,151.9 993.9,90 994.2,151.3 995.8,92.6 995.4,152.9 996.4,119.8 996.5,131.6 997.4,123 997.1,128.8 998.3,126.7 998.4,126.5 861,98.7 861.6,100.2 861.8,101.7 861.3,103.2 861.3,104.7 860.7,106.2 860.4,107.7 860.8,109.2 861.6,110.7 861.3,112.2 861,113.7 861,115.2 861.9,116.7 861.2,118.2 861.2,119.7 861.1,121.2 862.2,122.7 861.2,124.2 860.4,125.7 861.6,127.2 860.9,128.7 861.4,130.2 861,131.7 862.1,133.2 861.8,134.7 996.8,123.7 997.7,125.2 998.2,126.7" marker-start="url(#g)" marker-mid="url(#g)" marker-end="url(#g)"/>
<polyline class="m" points="863.9,58.6 864.1,59.8 864.6,61.2 864,62.6 864.2,64 863.7,65.5 863.7,67.5 860.3,89.7 860.9,98.9 861.5,108 875.3,83.9 877.6,87.4 879.9,89.7 865.8,168.9 873,169.1 867.5,183.5 867.9,184.8 867.3,186.1 867.9,192.4 867.5,196.7 867.1,200 870.5,203.9 866.7,204.3 867.5,205.1 868.4,206.4 866.2,208.1 867.9,208.5 869.2,217.9 869.6,223.4 870.5,226.8 865.4,227.2 869.2,229.7 870,225.5 865,238.2 865,243.3 865,244.2 865.1,245 865,245.7 865,246.3 864.9,246.7 865.1,247.2 865,247.7 908.6,179.7 908.6,178.8 908.9,179.3 909.1,178.4 908.2,178 908.7,179 903,259.8 902.6,330 903,361.8 903.4,375 903.7,381.6 903.7,382.6 903.8,383.4 904,384.1 903.7,384.8 903.8,385.5 908.5,120.7 909.1,121.8 908.3,123 901.7,137.9 904,136.7" marker-start="url(#r)" marker-mid="url(#r)" marker-end="url(#r)"/>
<polyline class="m" points="865.5,71.9 866.1,73.6 866.7,75.3 865.8,72.7 866.3,74.5 870.7,73 862.6,78.2 864.9,77.1 864.4,80.5 867.2,75.9 905.6,142.5 905,142.7 909.7,140.6 905.1,149.4 908.9,145.1 909.4,141.3 910.7,149.7 909.5,143.1" marker-start="url(#p)" marker-mid="url(#p)" marker-end="url(#p)"/>
<polyline class="m" points="878.2,93.8 879,90.3 879.1,89.2 877.9,90.6 877.1,93.3 876.6,93 876.7,94 879.4,91.1 879.9,92.2 877.4,93.1 878.2,90.5 877.9,91.4 875.8,93.7 876.8,93.7 864.5,108.9 864.7,110.3 864,115.4 864.8,114.6 865.3,114.4 865.2,118.4 866,112.6 862.6,117.1 863.6,116.2 865.3,109.3 862.8,117.2 864.7,117.1 912,131.9 912,124.9 911.1,127.6 910,130.7 910.5,123.8 908.9,123.4 911.4,136.2 912.9,134 913.4,128.5 912.9,129.9 910.5,137.3 908.9,130.9 912.1,129.3 908.7,132.3 912.5,131.7 911.5,128.4 910.6,124 910.3,126.3 910.8,124.5 912.2,135.1 909.4,125.8 911.8,136 911.5,136.5 909.5,133.7 910.9,135.9 912,132.1 912.9,132.4 911.2,133.2 911,130.9 910.2,124.3 911.7,135.8 912.3,123.4 911.3,136.4 912.3,136.3 911.4,127.8 912.3,131.1 912.8,131.7 911.9,132.5 909.5,127.3 912.6,130.8" marker-start="url(#b)" marker-mid="url(#b)" marker-end="url(#b)"/>
<polyline class="m" points="869.2,94.9 874.9,130.1 869.4,100.2 870.2,100.3 870.7,89.8 872.3,125.6 868.7,97.1 872.9,133 876,140.8 874.4,141.4 872.3,124.5 868.1,92.7 869.2,103.7 873.9,142.3 867.3,81.2 873.8,130.9 870.8,125.9 873.6,131.5 873.6,138.3 871.8,138.3 870.3,109.8 874.4,143.4 872.2,130 872.2,120.4 870.9,105.7 869.8,115 874.1,134.1 867.1,107.8 871.9,118.6 872,130.5 873.5,143.2 868,99.2 869.7,119.7 869.6,119.9 870,92.3 868.2,79.3 872.9,119.8 869.7,86.7 869.3,94.5 868.1,82.6 872.2,123.3 868.4,90.8 880,104.2 876.9,105.5 880.3,101.3 881,105.1 883,102.8 879,105.4 876.6,104.4 876.1,104.7 877.1,103.1 882.2,101.7 882.1,103.1 877.9,102.3 877.1,104.7 876.7,104.1 911.1,151.4 910.1,157.9 907.7,159.4 908.8,158.2 909.3,151.1 912.2,146.8 910.9,141.7 907.4,171.2 911.7,146.1 909,140.5 911.3,155.7 909.9,160.1 908.2,147 907.7,171.4 910.3,161.5 908.5,142.4 908.4,170.9 911.7,138.7 908.3,165.3 910.9,165.1 908.5,172.2 909,138.8 910.6,146.9 911.7,138.1 908.8,149.3 908,159.6 907,151.7 911.9,141.2 910,156.1 909.9,146.5 905.7,172.5 911.2,172.1 908.2,172.9" marker-start="url(#o)" marker-mid="url(#o)" marker-end="url(#o)"/>
</g>
<rect x="158.6" y="15.5" width="848.7" height="421.8" class="ax"/>
<path d="M321.5 437.3v-8.5M321.5 15.5v8.5M485.5 437.3v-8.5M485.5 15.5v8.5M648.5 437.3v-8.5M648.5 15.5v8.5M811.5 437.3v-8.5M811.5 15.5v8.5M974.5 437.3v-8.5M974.5 15.5v8.5M158.6 297.3h8.5M1007.3 297.3h-8.5M158.6 156.4h8.5M1007.3 156.4h-8.5" class="ax"/>
<text transform="translate(158.6,493.6) scale(1,1.052)" class="tk" text-anchor="middle">31.5</text>
<text transform="translate(321.8,493.6) scale(1,1.052)" class="tk" text-anchor="middle">32</text>
<text transform="translate(485.0,493.6) scale(1,1.052)" class="tk" text-anchor="middle">32.5</text>
<text transform="translate(648.2,493.6) scale(1,1.052)" class="tk" text-anchor="middle">33</text>
<text transform="translate(811.4,493.6) scale(1,1.052)" class="tk" text-anchor="middle">33.5</text>
<text transform="translate(974.7,493.6) scale(1,1.052)" class="tk" text-anchor="middle">34</text>
<text transform="translate(146.2,455.4) scale(1,1.052)" class="tk" text-anchor="end">0</text>
<text transform="translate(146.2,314.8) scale(1,1.052)" class="tk" text-anchor="end">200</text>
<text transform="translate(146.2,174.2) scale(1,1.052)" class="tk" text-anchor="end">400</text>
<text transform="translate(146.2,33.5) scale(1,1.052)" class="tk" text-anchor="end">600</text>
<text transform="translate(582.3,554.1) scale(1,1.020)" class="lb" text-anchor="middle">Salinity</text>
<text transform="translate(37.2,358.7) rotate(-90) scale(1,1.03)" class="lb"><tspan font-style="italic">p</tspan>CO<tspan dy="22.4" font-size="39">2</tspan><tspan dy="-22.4"> (</tspan></text>
<text transform="translate(36.6,206.9) rotate(-90) scale(1.3,1.0)" class="lb mu" style="font-size:44px">μ</text>
<text transform="translate(37.2,178.3) rotate(-90) scale(1,1.03)" class="lb"><tspan font-style="italic">a</tspan>tm<tspan dx="2.5">)</tspan></text>
</g>
<g id="panel-b">
<clipPath id="clip-b"><rect x="1150.0" y="12.0" width="855.9" height="428.8"/></clipPath>
<g clip-path="url(#clip-b)">
<polygon points="1629.7,359.8 1630.7,359.7 1631.7,359.7 1632.7,359.6 1633.7,359.5 1634.7,359.3 1635.7,359.2 1636.7,360 1637.7,360.8 1638.7,361.6 1639.7,360.5 1640.7,359.5 1641.7,358.4 1642.7,358.2 1643.7,358 1644.7,357.8 1645.7,357.9 1646.7,358.1 1647.7,358.2 1648.7,358.9 1649.7,359.5 1650.7,360.1 1651.7,359.4 1652.7,358.8 1653.7,358.1 1654.7,358.9 1655.7,359.7 1656.7,360.5 1657.7,360.5 1658.7,360.5 1659.7,360.6 1660.7,360.4 1661.7,360.3 1662.7,360.2 1663.7,359.3 1664.7,358.5 1665.7,357.7 1666.7,357.8 1667.7,357.9 1668.7,358.1 1669.7,357.7 1670.7,357.2 1671.7,356.8 1672.7,356.6 1673.7,356.5 1674.7,356.3 1675.7,356.5 1676.7,356.6 1677.7,356.8 1678.7,356.6 1679.7,356.3 1680.7,356.1 1681.7,356.4 1682.7,356.8 1683.7,357.1 1684.7,357.2 1685.7,357.4 1686.7,357.5 1687.7,357.4 1688.7,357.2 1689.7,357 1690.7,358 1691.7,359 1692.7,360 1693.7,358.6 1694.7,357.1 1695.7,355.7 1696.7,356.7 1697.7,357.8 1698.7,358.8 1699.7,357.9 1700.7,357 1701.7,356.1 1702.7,356 1703.7,355.9 1704.7,355.8 1705.7,355.7 1706.7,355.7 1707.7,355.6 1708.7,356.6 1709.7,357.6 1710.7,358.6 1711.7,357.8 1712.7,356.9 1713.7,356.1 1714.7,356.8 1715.7,357.5 1716.7,358.2 1717.7,357.2 1718.7,356.2 1719.7,355.3 1720.7,355.7 1721.7,356 1722.7,356.4 1723.7,357.1 1724.7,357.9 1725.7,358.6 1726.7,358.7 1727.7,358.7 1728.7,358.7 1729.7,359.3 1730.7,359.9 1731.7,360.4 1732.7,360.3 1733.7,360.2 1734.7,360 1735.7,359.7 1736.7,359.5 1737.7,359.2 1738.7,360.3 1739.7,361.5 1740.7,362.6 1741.7,362.8 1742.7,363 1743.7,363.2 1744.7,362.5 1745.7,361.9 1746.7,361.2 1747.7,360.7 1748.7,360.2 1749.7,359.8 1750.7,360.9 1751.7,362.1 1752.7,363.3 1753.7,363 1754.7,362.7 1755.7,362.5 1756.7,362.4 1757.7,362.3 1758.7,362.1 1759.7,361.6 1760.7,361.1 1761.7,360.6 1762.7,361.5 1763.7,362.5 1764.7,363.5 1765.7,363.3 1766.7,363 1767.7,362.8 1768.7,363 1769.7,363.1 1770.7,363.3 1771.7,362.4 1772.7,361.5 1773.7,360.6 1774.7,361.4 1775.7,362.2 1776.7,363 1777.7,362.6 1778.7,362.2 1779.7,361.9 1779.7,369.7 1778.7,370.1 1777.7,370.5 1776.7,370.9 1775.7,370 1774.7,369.1 1773.7,368.2 1772.7,367.9 1771.7,367.5 1770.7,367.1 1769.7,367.7 1768.7,368.3 1767.7,368.9 1766.7,369.7 1765.7,370.5 1764.7,371.3 1763.7,370.3 1762.7,369.2 1761.7,368.1 1760.7,368.1 1759.7,368 1758.7,367.9 1757.7,368 1756.7,368.1 1755.7,368.2 1754.7,368.4 1753.7,368.6 1752.7,368.8 1751.7,369.7 1750.7,370.5 1749.7,371.3 1748.7,371.1 1747.7,371 1746.7,370.8 1745.7,370.9 1744.7,371 1743.7,371.2 1742.7,370.2 1741.7,369.2 1740.7,368.3 1739.7,369 1738.7,369.7 1737.7,370.4 1736.7,370.8 1735.7,371.2 1734.7,371.6 1733.7,371.3 1732.7,371 1731.7,370.8 1730.7,370.8 1729.7,370.8 1728.7,370.8 1727.7,370.1 1726.7,369.3 1725.7,368.4 1724.7,368.4 1723.7,368.3 1722.7,368.2 1721.7,367.9 1720.7,367.6 1719.7,367.3 1718.7,367.9 1717.7,368.6 1716.7,369.3 1715.7,368.5 1714.7,367.8 1713.7,367 1712.7,367.3 1711.7,367.6 1710.7,367.9 1709.7,367.7 1708.7,367.5 1707.7,367.3 1706.7,367.7 1705.7,368.2 1704.7,368.7 1703.7,368.6 1702.7,368.5 1701.7,368.4 1700.7,368.3 1699.7,368.1 1698.7,367.9 1697.7,368.5 1696.7,369 1695.7,369.5 1694.7,368.8 1693.7,368.1 1692.7,367.5 1691.7,367.6 1690.7,367.8 1689.7,367.9 1688.7,367.8 1687.7,367.8 1686.7,367.7 1685.7,367.5 1684.7,367.3 1683.7,367 1682.7,366.7 1681.7,366.4 1680.7,366.1 1679.7,366.4 1678.7,366.7 1677.7,367 1676.7,367.2 1675.7,367.5 1674.7,367.8 1673.7,366.7 1672.7,365.6 1671.7,364.5 1670.7,364.7 1669.7,364.9 1668.7,365 1667.7,365.8 1666.7,366.6 1665.7,367.4 1664.7,366.6 1663.7,365.8 1662.7,364.9 1661.7,364.7 1660.7,364.6 1659.7,364.4 1658.7,364.3 1657.7,364.1 1656.7,364 1655.7,364.7 1654.7,365.5 1653.7,366.2 1652.7,365 1651.7,363.7 1650.7,362.5 1649.7,362.6 1648.7,362.8 1647.7,362.9 1646.7,363 1645.7,363.1 1644.7,363.2 1643.7,363.5 1642.7,363.8 1641.7,364 1640.7,364.4 1639.7,364.7 1638.7,365 1637.7,365.2 1636.7,365.4 1635.7,365.7 1634.7,364.2 1633.7,362.8 1632.7,361.4 1631.7,362.1 1630.7,362.8 1629.7,363.4" fill="#808080"/>
<polygon points="1774,362.1 1775,362.2 1776,362.3 1777,362.4 1778,362.9 1779,363.4 1780,363.9 1781,362.7 1782,361.5 1783,360.3 1784,360.3 1785,360.3 1786,360.4 1787,361.2 1788,362 1789,362.8 1790,362.9 1791,363 1792,363.1 1793,362.8 1794,362.5 1795,362.2 1796,361.8 1797,361.4 1798,360.5 1799,359.8 1800,359.2 1801,358.5 1802,357.7 1803,357 1804,356.4 1805,356.3 1806,356.1 1807,355.9 1808,356.2 1809,356.8 1810,357.8 1811,357.4 1812,357 1813,356.5 1814,356.7 1815,356 1816,355.1 1817,354.5 1818,353.9 1819,353.3 1820,352.9 1821,352.9 1822,352.9 1823,352.5 1824,352.1 1825,351.7 1826,352.5 1827,353.8 1828,355 1829,354.6 1830,354.1 1831,353.6 1832,355 1833,356.4 1834,357.8 1835,358 1836,358.2 1837,358.4 1838,358.8 1839,359.1 1840,359.5 1841,360.5 1842,361.4 1843,362.1 1844,361.6 1845,361 1846,360.4 1847,359.2 1848,358 1849,357.4 1850,356.7 1851,356 1852,355.3 1853,355.7 1854,356 1855,356.6 1856,357.7 1857,358.9 1858,360.1 1859,360.9 1860,361.8 1861,362.7 1862,364 1863,365.2 1864,366.5 1865,366.8 1866,366.8 1867,365.8 1868,364.6 1869,363.3 1870,362 1871,361.7 1872,361.4 1873,361.1 1874,361.3 1875,361.5 1876,361.7 1877,360.7 1878,359.8 1879,359.1 1880,358.2 1881,357.4 1882,356.6 1883,356.7 1884,356.7 1885,356.8 1886,356.1 1887,355.4 1888,354.7 1889,354.3 1890,353.7 1891,353.1 1892,352.8 1893,352.6 1894,352.3 1895,351.9 1896,351.6 1897,351.3 1898,351.7 1899,352.2 1900,352.7 1901,353.7 1902,354.9 1903,356 1904,355.9 1905,355.7 1906,355.6 1907,356.6 1908,357.6 1909,358.6 1910,358.4 1911,358.1 1912,358 1913,359.2 1914,360.4 1915,361.6 1916,362 1917,362.5 1918,362.8 1919,363.3 1920,363.7 1921,364.1 1922,365.2 1923,366.3 1924,367.4 1925,367.7 1926,367.9 1927,368.1 1928,368.9 1929,369.7 1930,369.9 1931,370.2 1932,370.6 1933,368.6 1934,364.6 1935,361.8 1936,361.2 1937,360.6 1938,360.1 1939,360.7 1940,361.6 1941,362.5 1942,363 1943,361.5 1944,360 1945,358.6 1946,359.6 1947,361.5 1948,363.6 1949,364.4 1950,365.2 1951,366 1952,365.9 1953,364.8 1954,363.7 1955,363.5 1956,363.2 1957,363 1958,361.9 1959,360.9 1960,359.8 1961,360.4 1962,361 1963,361.5 1964,361.6 1965,361.8 1966,362.1 1967,361.9 1968,361.7 1969,361.5 1970,361.9 1971,362.2 1972,362.6 1973,362.6 1974,362.6 1975,362.5 1976,361.9 1977,361.2 1978,360.5 1979,361.1 1980,361.7 1981,360.8 1982,356.8 1983,352.7 1984,350.6 1985,349.1 1986,347.7 1987,346.2 1988,347.4 1989,349.7 1990,352.4 1991,355.9 1992,359.5 1993,363 1994,364 1994,374.8 1993,376.5 1992,376.9 1991,377.3 1990,377.6 1989,383.9 1988,391.7 1987,396.5 1986,396.2 1985,395.9 1984,395.7 1983,395.2 1982,392.7 1981,390.2 1980,388.6 1979,388.2 1978,387.9 1977,386.8 1976,385.8 1975,384.8 1974,384.8 1973,384.7 1972,384.7 1971,384.5 1970,384.3 1969,384.2 1968,384.4 1967,384.6 1966,384.8 1965,385.4 1964,386.1 1963,386.8 1962,387.8 1961,388.7 1960,389.6 1959,391.8 1958,394.1 1957,395.1 1956,394 1955,392.9 1954,391.9 1953,390.3 1952,388.8 1951,387.8 1950,386.9 1949,386.1 1948,385.2 1947,384.7 1946,384.2 1945,383.6 1944,383.7 1943,383.9 1942,384.1 1941,382.9 1940,381.7 1939,380.5 1938,380.5 1937,380.5 1936,380.5 1935,380.1 1934,378.4 1933,376.2 1932,373.8 1931,372.7 1930,371.5 1929,371.5 1928,372.2 1927,372.9 1926,373 1925,373.1 1924,373.2 1923,373.4 1922,373.7 1921,374.1 1920,375.1 1919,376.2 1918,377.2 1917,377.1 1916,376.9 1915,376.6 1914,378.1 1913,379.6 1912,381.2 1911,381.1 1910,380.8 1909,380.6 1908,380.3 1907,380 1906,379.6 1905,379.1 1904,378.6 1903,378.1 1902,378.6 1901,379 1900,379.7 1899,380.6 1898,381.5 1897,382.5 1896,383.7 1895,384.8 1894,386.5 1893,389.4 1892,392.2 1891,394.8 1890,393.2 1889,391.5 1888,390.7 1887,388.8 1886,387 1885,385.1 1884,385.5 1883,386 1882,386.7 1881,386.2 1880,385.7 1879,385.3 1878,384.8 1877,384.5 1876,384.5 1875,384.6 1874,384.6 1873,384.7 1872,384.8 1871,384.9 1870,384.9 1869,385.5 1868,386.1 1867,386.6 1866,386.7 1865,387.1 1864,387.5 1863,387.3 1862,387.1 1861,386.8 1860,387.5 1859,388.1 1858,388.7 1857,388.7 1856,388.7 1855,388.7 1854,389.6 1853,390.4 1852,391.2 1851,390.3 1850,389.4 1849,388.6 1848,387.6 1847,385.8 1846,384 1845,381.9 1844,379.8 1843,377.7 1842,377.9 1841,378.5 1840,379.1 1839,380.1 1838,381.2 1837,382.2 1836,383.4 1835,384.6 1834,385.7 1833,387.7 1832,389.6 1831,390.6 1830,389.1 1829,387.6 1828,386.1 1827,384.2 1826,382.3 1825,381.8 1824,382.6 1823,383.5 1822,384.3 1821,385.7 1820,387 1819,388.7 1818,389.9 1817,391.1 1816,392.2 1815,392.1 1814,391.5 1813,388.6 1812,387.5 1811,386.4 1810,385.4 1809,383.9 1808,382.8 1807,382.2 1806,381.7 1805,381.3 1804,380.8 1803,379.3 1802,377.1 1801,374.8 1800,373.4 1799,371.9 1798,370.5 1797,368.9 1796,368.8 1795,368.8 1794,368.8 1793,368.7 1792,368.7 1791,369.5 1790,370.2 1789,371 1788,370.6 1787,370.2 1786,369.8 1785,369.7 1784,369.6 1783,369.4 1782,368.6 1781,367.7 1780,366.9 1779,366.8 1778,366.8 1777,366.7 1776,367.1 1775,367.4 1774,367.8" fill="#808080"/>
<polyline class="m" points="1630.9,364.3 1631.1,360.3 1635.1,362.5 1645.1,359.4 1645.5,359.6 1646.7,361.4 1650.4,362.6 1653.7,362.7 1655.7,362 1657.9,363.4 1659.4,363.2 1661.7,363.1 1662.9,362.6 1663.7,364.4 1665.7,364.7 1669.8,361 1671.6,358.4 1678.7,364.6 1681.7,361.1 1685.2,361.7 1686.5,364.4 1690.9,360 1692.5,361.2 1694.6,366.6 1700.5,366.9 1701.9,358.2 1702.8,366.4 1706.3,364.6 1708.7,359.8 1708.4,365.4 1714.7,359 1714.7,363.3 1719.8,364 1729.7,369.2 1731.5,369.5 1735.2,363.5 1740.7,365.6 1741.4,366.7 1746.5,367.8 1747.6,369.6 1751.3,366.4 1753.4,366.6 1758.4,364 1765.7,365.3 1772.7,365.8 1775.1,367 1776.1,366.9 1776.8,364.2 1773.7,366.1 1775.6,365.3 1781.7,362.8 1781.8,366.7 1784,362.4 1784.2,368.5 1784.6,361.5 1785.7,362.3 1788.5,368.7 1793.7,365.4 1794.7,363.4 1803.7,377.6 1808.4,359.7 1808.4,377.7 1812.8,357.7 1814.2,358.4 1815.2,357.7 1816.4,356.3 1815.8,388.6 1819.8,384.4 1823.8,355.1 1828.2,383.6 1836.2,378.7 1836.8,377.9 1842.1,376.6 1843.8,376.6 1844.6,377.7 1846.8,361 1852.6,387.6 1856.7,385.3 1860,385 1862.2,384.8 1865.4,368.6 1866.7,385.2 1870.6,363.5 1878.5,382.6 1880.3,384.3 1883.3,384.6 1891.2,392.7 1897.7,355.2 1899.4,378.9 1900.7,376.8 1902.7,375.3 1903.7,357.3 1905.2,358.9 1914.4,362.9 1914.1,373.2 1914.9,364.2 1916.6,364.5 1919.3,373.6 1919.8,365.6 1924.3,368.9 1925.2,369 1926.6,371 1929.6,368.4 1931.9,371.2 1937.5,362.3 1939.2,362.4 1948,367 1951.4,386.5 1955.9,391.4 1956.9,392.9 1960.2,387.3 1962.3,386.5 1963.7,364.2 1964.4,384.9 1966.7,365.9 1971.5,382.7 1974.4,383.3 1975.7,382.2 1980.5,362.1 1982.6,355.9 1986.8,393.2" marker-start="url(#h)" marker-mid="url(#h)" marker-end="url(#h)"/>
<polyline class="m" points="1155.6,356.7 1174.1,355.5 1180.6,354.9 1179.7,357 1182.3,357.5 1185.8,355.8 1187.5,354.9 1189.8,353.5 1195.4,358.4 1202,358.9 1212,354.4 1224.2,359.3 1228.9,358.6 1237.3,353.2 1241.7,361 1252.2,356.7 1255.1,361.9 1259.7,362.1 1265.3,361.9 1269.6,358.4 1277.8,361.9 1287.6,362.4 1291.1,361.6 1301.9,361 1303.7,361.2 1306.3,362.4 1328.1,362.3 1334.8,362.4 1336.5,362.4 1344.7,358.4 1344.7,362.3 1349.1,361.9 1353.5,361.4 1345.3,366.8 1347.4,367.5 1351.4,368 1365.3,362.4 1367.4,367.2 1371.5,367.2 1375.8,367.3 1377,367.3 1381.8,367.2 1385.8,362.4 1389.6,361.9 1390.1,358.4 1395.4,361.9 1399.8,361.6 1396.3,366.8 1398,368 1401.5,366.8 1405.5,366.8 1409.9,361.4 1411.1,366.8 1413.7,368.6 1418.1,361.9 1420.4,362.4 1426.3,366.5 1429.1,355.8 1434.3,361.9 1441.7,368.9 1443.9,366.3 1444.3,369.3 1447.8,361.4 1449,359.3 1452.1,360.2 1456.5,360.2 1453,365.8 1454.2,366.3 1464.9,365.4 1465.2,358.9 1467.9,359.8 1471,361.4 1474.9,360.5 1476.6,361.6 1480.1,361.4 1474,365.1 1478,369.4 1486.2,359.1 1488.8,365.1 1488.8,368.4 1496.7,364.5 1497.2,361.4 1486.3,359.2 1489,364.9 1488.7,368.7 1496.5,361.2 1496.5,364.5 1504,360.4 1505.4,364.2 1508.4,363.4 1510.7,363.4 1516.7,358.9 1517.4,361.9 1522.7,360.4 1524.2,362.7 1530.9,360.7 1533.1,361.2 1539.1,360.7 1544.4,360.4 1550.4,360.1 1545.9,372.8 1559.3,373.1 1562.3,373.3 1566.1,373.4 1569.8,373.3 1575.1,372.4 1580.3,373.1 1584.8,372.7 1587.8,372.4 1590.8,372.4 1593.8,372.8 1589.3,367.6 1594.5,366.7 1600.5,371.6 1602,366.7 1610.2,367.6 1611.7,367.9 1617.7,370.6 1620.7,370.1 1623.7,368.7 1632.7,369.1 1637.9,368.7 1650.7,367.6 1725.5,341.7 1722.8,345.9 1734.5,342 1746.8,351.7 1701.6,355.6 1709,353.7 1712,353.2 1716.5,352.2 1723.3,354.4 1743.5,357.4 1747.2,357.4 1755.4,357.4 1759.9,356.7 1762.9,356.7 1767.4,356.7 1779.4,356.7 1727,372.4 1731.2,372.7 1747.2,375.4 1762.9,376.9 1764.4,381.4 1762.9,383.6 1768.9,378.4 1773.4,382.1 1777.9,376.9 1777.9,381.4 1556.3,360.3 1563.1,357.7 1568.4,360.8 1591,359.5 1583.7,358.7 1564.8,360.5 1558.5,360.9 1560.4,362.5 1590.7,362 1580,360.4 1556.3,359.9 1560.1,361.4 1563.5,358.8 1579,357.9 1557.2,360.7 1555.2,361.2 1575,361.4 1587.1,358.4 1557.9,362.1 1588.3,359.1 1591.7,358 1560.1,360.6 1568.1,360.3 1570.2,361 1562.7,360.3 1583.3,361.3 1590,360.1 1581.5,360 1570.8,361.6 1556.3,360.9 1574.1,360.9 1559.1,361.1 1571.7,359.4 1579.2,359.4 1570,359.1 1593.9,360.7 1592.4,358.4 1577.3,358.4 1586.7,358.5 1575.9,359.6 1556.3,361.4 1586.1,359.2 1577.6,360.6 1556.8,359.1 1575.1,359.1 1583.8,360.8 1575.5,359.8 1562.5,361.8 1562.5,360.5 1580.1,360.9 1562.2,360.1 1573.7,360 1585.4,360.4 1581.6,359.2 1566.4,359.5 1574.3,361.1 1566.4,359.6 1566.8,361.6 1564.7,361.3 1564.8,360.3 1579,361.3 1595.8,361.1 1579,359.7 1591.4,361.1 1596.5,359.1 1562.2,358.9 1584.1,358.6 1596.5,360 1577.8,359.6 1593.2,359.2 1562.6,360.4 1575,361 1571.8,358.2 1585.5,360.3 1591.5,359.8 1596.2,358.3 1570,360.5 1559.3,359.5 1573,358.4 1557.3,360.1 1588.9,358.3 1595.2,359.6 1575.8,358 1562.7,359.9 1560.1,360.2 1574.4,360.8 1586.3,359.4 1558.9,359.7 1571.1,356.6 1590.4,359.1 1565.2,358.7 1596.4,360 1568.9,359 1591.4,359.8 1557.5,359.7 1581.5,359.3 1570.7,360.4 1581.1,360.6 1553.8,359.2 1562.9,361.4 1582.9,358.8 1595.9,361.4 1590.4,360.6 1561.5,360.9 1596,359.7 1559.4,360.5 1588,361.1 1570,359.3 1585.3,358.7 1576.7,359.2 1554.5,360.6 1586.8,359.8 1566.2,362.9 1553.6,360.6 1581.7,360.2 1571.1,360.1 1554.1,360.3 1568.1,359.9 1592.6,359.9 1556.9,361.7 1553.8,360.2 1592.7,358.6 1553.8,359.2 1588.4,359.3 1594.1,360.4 1567.9,359.1 1564,359.9 1591.4,358.4 1592.2,360.6 1592.8,359.3 1612.3,358.6 1627.5,359 1626.1,360.8 1618,358.7 1625.6,360.5 1613.4,357.8 1625.3,359.6 1614.1,359.4 1624.5,359.6 1629.2,359.1 1611.9,358.2 1619.1,361 1617,358.9 1625.8,360.4 1627.1,360.1 1612.8,359.3 1607.7,358.4 1616.3,359.3 1628,361.2 1626.5,358.2 1603.3,357.5 1616.1,360.6 1601.2,359 1628.9,360.4 1610.9,358.7 1615.2,359.1 1624.8,357.6 1629.3,360.3 1614.8,357.7 1606.2,360.5 1617.8,356.8 1618.4,358.8 1608.3,356.3 1615.6,360.3 1626.9,360.6 1603.9,360 1621.2,359.9 1617.5,358.7 1600.4,360 1616.7,358.6 1629.7,360.2 1623.1,360.2 1602.1,360 1600.8,357.3 1602.4,358.4 1625.3,360.1 1626,360.7 1624.9,359 1606.7,359.2 1622.7,358.3 1626.9,359.7 1606.3,358 1607.1,358.7 1605.7,358.9 1610.3,360.2 1614.9,358.9 1613.1,360.7 1607,357.8 1606.1,359.3 1622,360.2 1605.1,360.3 1620.3,360.9 1622.6,359.6 1620.9,360.5 1623.7,361.8 1616.6,360.7 1601,359.1 1625,358.9 1620.6,359.7 1623.7,361.8 1621.5,359 1613.6,359.3 1616.4,359.7 1626.5,358.7 1624,360.6 1601.5,359.1 1614.1,358.5 1626.2,360.1 1627.2,359.2 1616.9,359.2 1625.6,357.8 1615.9,359.9 1605.7,358.1 1619.2,359.8 1617.1,358.1 1620.7,358.3 1600.2,359.6 1604,358.4 1617.3,360 1616.2,359 1584.8,373.2 1588.6,373.1 1582.1,372.6 1582.6,371.9 1586.7,373.4 1591.3,372.8 1589.9,372.5 1584.5,372.7 1581.4,372.2 1591.7,373.7 1587.8,372.3 1588.1,372.7 1589.4,372.6 1588,373.4 1589.6,373.1 1779.7,356.8 1784.3,356.2 1787.8,356.5 1795.8,356.8 1798.7,356.8 1801.5,356.8 1808.4,353.9 1777.4,370 1780.9,368.9 1786.6,370 1778.6,376.9 1783.2,375.7 1786.6,373.5 1776.3,380.3 1780.9,381.5 1785.5,380.3 1788.9,381.5 1794.7,379.2 1794.7,373.5 1802.7,389.5 1805,388.4 1807.3,386.1 1827.9,400.4 1829.7,401 1835.6,397.6 1842.3,398.1 1846.3,394.1 1850.9,396.4 1845.2,389.5 1847.5,353.9 1849.7,353.4 1853.2,355.7 1856.6,356.8 1873.9,388.4 1877.3,386.1 1880.7,384.9 1910.6,382.1 1923.2,366.6 1925.5,367.7 1928.9,395.3 1932.4,396.4 1934.7,391.8 1939.3,394.1 1943.9,393 1948.5,391.8 1953,393 1932.4,389.5 1937,388.4 1981.7,391.8 1984,395.3 1982.9,398.7 1629.4,361.6 1629.5,361.2 1630.8,364.2 1630.8,361.5 1631.7,361 1631.8,358.8 1633.2,361.4 1632.6,359.4 1633.9,361.6 1633.8,361.2 1634.8,360.8 1635,363 1635.6,360.6 1635.9,363.6 1637,361.6 1636.6,361.1 1638.1,365.6 1638.2,362.1 1638.3,364.6 1639.1,363.2 1639.2,362.6 1639.5,362.9 1641.1,361.1 1640.8,363 1641.8,360.1 1641.4,361.7 1642.6,359.9 1643.2,362.5 1643.8,359.7 1643.2,360.8 1645.1,360.6 1644.4,362 1645.9,363 1645.5,361.4 1646.3,359.3 1647.1,361.8 1647.3,360.2 1648,361.8 1648.5,360.1 1648.4,360.1 1649.6,362.9 1649.4,359.6 1650.4,363.6 1650.7,360.9 1651.6,362.3 1652.2,362.6 1652.4,361.1 1653.1,363.3 1654.1,360.2 1654,364.7 1654.2,360.7 1654.4,363.6 1655.4,361.3 1655.3,363.1 1656.5,361.7 1656.9,361 1657.3,362.5 1657.8,359 1658.9,363.8 1658.4,361.8 1659.6,362.9 1659.3,362.6 1661.1,362.1 1660.9,361.1 1662.1,364 1661.9,361.9 1662.9,362.7 1663.2,362.2 1663.6,361 1664,364.2 1665,360.2 1665.1,364.6 1666.1,359.6 1665.8,363.8 1666.9,361.4 1666.6,363.6 1667.2,359.5 1667.4,361.9 1668.3,359.5 1669.1,363.7 1670.1,361 1669.5,362 1671.2,360.8 1670.8,360.5 1671.5,358 1671.5,362.2 1672.8,358.2 1672.6,363.9 1673.2,360.3 1674.2,365.3 1675.2,359.7 1675.2,364.4 1675.5,359.5 1675.6,365 1676.4,358.9 1676.2,365.5 1677.6,360.9 1677.8,363.4 1678.8,357.9 1678.8,364.2 1680.1,359.8 1679.9,364.3 1680.8,359 1680.2,363.9 1681.3,357.6 1681.7,364.2 1682.4,360.4 1682.6,365.2 1683.8,359.2 1684.1,365 1684.3,359.6 1684.9,364.4 1685.5,359.3 1685.6,365 1686.3,360.5 1686.7,365.5 1687.8,361.6 1688,363.6 1688.3,360.3 1689.1,366.6 1689.9,359.7 1690,364.8 1691.1,359.2 1690.3,365.6 1692,362.2 1692,365.2 1692.3,362.6 1693,364.8 1694,360.6 1693.4,367 1695.2,358.4 1694.6,365.7 1695.7,357.2 1695.3,368.3 1696.9,360 1696.5,366.4 1697.9,361 1697.7,364.9 1698.8,362.1 1698.2,366.2 1699.8,359.4 1699.5,366.6 1700.3,359 1700.8,363.8 1701.5,358.3 1701.5,365.4 1702.3,357.5 1702.6,367.4 1703.2,357.3 1703.8,367.1 1704.3,357.6 1705,367 1705.3,359.8 1705.5,365 1706.4,358.3 1707.1,364.8 1707.8,359.4 1707.3,365.8 1708.7,359.5 1708.3,365.1 1709.3,360 1710,365.6 1710.7,360.1 1711.2,366.2 1711.3,359 1712,365.4 1712.9,359.5 1712.4,364.4 1714.1,358.9 1713.3,365.2 1715.1,358.7 1715.1,366.3 1716.1,358.6 1715.2,366.5 1716.7,359.6 1717.1,363.3 1718,360.2 1718,366 1718.5,359.2 1719.1,366.2 1719.5,358.2 1719.6,364.6 1721,356.9 1720.2,364.3 1722.1,357.4 1721.9,366.2 1722.5,361.6 1723.2,364.6 1723.6,358.5 1724,366.7 1725.2,360.7 1724.6,366.5 1725.4,359.7 1726,367.2 1727.2,361.7 1727,367.6 1727.6,360.2 1727.2,368.2 1728.3,361 1728.7,369.4 1729.6,361.6 1729.8,367.6 1730.2,362 1730.5,366.7 1731.6,363.3 1731.5,367.3 1732.9,363.6 1732.4,369 1733.9,363.8 1734.1,369.2 1734.9,363.8 1734.6,367.8 1735.4,362.1 1736,368.6 1737.2,362.8 1736.6,367.5 1737.9,363.1 1737.9,368.5 1738.5,363.4 1738.9,367.2 1739.5,363.6 1739.2,366.3 1740.6,364.3 1740.7,365.3 1742,365.3 1741.3,367.2 1742.3,364.8 1743,368.2 1743.9,365.3 1743.2,369 1744.8,364.5 1744.3,368.9 1745.2,363.4 1745.8,369.1 1746.6,363 1746.3,367.3 1747.5,363.1 1747.7,368.9 1749,362 1748.8,369.8 1749.9,361.9 1749.7,369.5 1750.5,362.4 1751.1,367.6 1751.6,364.9 1752.1,367.5 1753.1,364.4 1752.9,366.1 1753.3,364.7 1753.3,366.8 1754.6,365.5 1754.9,365.1 1756,365 1756,366.7 1756.7,364.7 1756.2,366.8 1757.7,364 1757.3,366.5 1759,365.8 1758.8,364.7 1759.9,364 1759.9,364.8 1760.8,365.4 1760.6,364.2 1761.5,362.7 1761.5,366.8 1762.5,363.4 1762.8,365.7 1764,364.1 1763.9,367.4 1764.8,367.6 1764.5,368.4 1765.6,366.2 1766,367.8 1766.3,365.6 1766.7,367.5 1767.8,364.3 1768.1,365.7 1769.2,366.8 1768.9,365.6 1769.9,365.5 1769.4,365.5 1770.9,364.6 1771,364.4 1771.8,365.5 1771.2,366 1772.5,362.9 1772.4,366.5 1773.3,364.4 1773.8,366.9 1774.7,365.2 1774.9,367.6 1775.7,363.7 1776,367.8 1776.7,366.6 1776.7,368.9 1777.4,364.7 1778.1,368.3 1778.4,364.6 1779,365.2 1779.9,363.2 1779.8,366.7 1631.2,360.9 1778.1,363 1779.6,364.5 1778,366 1779.5,367.5 1773.8,363.3 1774,365.9 1775.5,363.5 1774.6,363.2 1776.3,366.4 1776.5,364 1776.8,363.6 1777.2,363.9 1778.1,365.5 1777.9,362.9 1779.4,364.6 1779,365.6 1780.3,365.2 1780.4,363.9 1781.2,366.8 1780.9,365.8 1781.8,364 1782.2,366.8 1783.1,361.6 1782.7,366.5 1784.3,362.2 1783.9,367.1 1785.3,363.2 1784.6,365.6 1786.1,362.2 1786.1,367.6 1787.1,363 1786.8,367.5 1788.1,363.4 1788.4,368.3 1788.8,364.3 1789.1,369.7 1790,366.5 1789.7,367.4 1791.3,367.4 1791.4,367.5 1791.6,365.2 1791.7,365.7 1793.5,364.1 1792.6,366.6 1794,366.1 1793.8,366.5 1795.2,364.9 1794.7,366.3 1796.5,363 1795.8,365.7 1796.9,363.9 1797.1,366.2 1797.6,361.9 1797.9,369.2 1799.3,362.3 1799.3,370.6 1799.9,361.8 1800.4,371.7 1801.4,361.4 1801.2,373.1 1802,360.6 1802.1,375.6 1803,360 1803.2,377 1804.4,359.2 1804.2,377.9 1804.7,358.3 1804.5,378.4 1806.4,357.6 1805.7,378.4 1807,358.8 1806.7,380.3 1808.2,357.8 1807.6,380.3 1809.4,358.7 1809.3,381.4 1810.4,362 1810.3,382.8 1810.6,360.4 1811,384.6 1811.6,358.9 1812,385 1813.5,359.1 1812.8,385.3 1814.5,358.1 1814.2,390.1 1815,357.3 1815,390.1 1815.8,358.8 1816.1,389.1 1817.1,358.5 1817.1,387.7 1817.9,355.3 1817.6,386.5 1818.9,355.1 1818.7,385.8 1820.4,354.4 1820.2,384.7 1821.3,356.2 1821.1,383.1 1822.5,354.1 1821.7,382.9 1822.7,355.3 1822.5,379.4 1824.4,354.9 1823.5,381.4 1825,354.1 1824.6,377.7 1825.6,355.4 1825.8,380.1 1826.6,356 1827.2,382.1 1828,357.2 1828.2,383.1 1828.8,356 1828.8,385.1 1830.2,355.3 1829.9,388 1830.8,356.4 1830.5,388.5 1832,357.8 1831.8,387 1833.4,357.9 1833.4,386.3 1834.3,359 1833.9,382.9 1835,359.4 1835.1,382 1835.9,359.7 1835.9,380.6 1837.4,363.5 1837,379.6 1837.6,360.7 1838,378.3 1838.5,360.4 1838.8,378.7 1839.6,362.7 1840.3,377.8 1841.1,363.1 1841,376.5 1841.8,363.1 1842.3,375.2 1843.2,363.5 1842.8,376.4 1844.4,363.6 1844,376.6 1845.3,364.4 1845.1,380.5 1845.9,362 1846.5,381.7 1847.1,361.6 1847.5,384.6 1848.5,360 1848.3,383.6 1849,358.6 1849.3,386.8 1849.6,359.3 1849.8,387 1851.3,358.4 1851.2,388.5 1852.1,357.5 1852.4,390.1 1852.6,357.7 1853.5,388.5 1854.3,358.6 1854.5,387.3 1854.8,359 1855.1,385.8 1856,361.1 1855.6,386.4 1857.5,362 1856.6,387.2 1858.4,362.1 1858.2,385.6 1858.6,363 1858.7,386.8 1860.5,363.9 1859.8,385.7 1861.1,365.8 1861.2,383.6 1862.4,366.5 1862.4,384.4 1863.2,366.3 1863.1,385.9 1863.7,369.4 1864,385 1865.3,369.1 1864.6,385.8 1866,367.9 1866.1,384 1867,368.3 1866.6,383.1 1868.2,367.6 1868.1,384.7 1869,364.7 1869.1,384 1869.5,363.8 1869.7,383.3 1871.4,363 1870.5,382.7 1871.8,363.7 1872.3,381.9 1873.3,362.6 1872.5,382.4 1873.7,364.6 1874.2,382 1874.7,363.4 1875.4,382.9 1875.7,364.1 1875.6,380.5 1876.7,362.7 1877.3,383.3 1878.3,362.4 1878,381.3 1879,360.8 1879.1,381.9 1879.8,360.2 1880.1,381.5 1881.1,359.3 1880.7,384.8 1881.7,358.7 1881.7,384.3 1883,359.8 1883.4,383.8 1884.2,358.9 1883.7,382 1885.1,358 1885.2,382.9 1885.9,360.4 1886,384.4 1886.6,358.6 1887.2,385 1888.4,356.1 1888,388.8 1888.9,357.4 1889.1,390.1 1890.2,356.4 1890.3,389.1 1890.7,355.6 1891.1,393.7 1892.3,355.7 1891.6,386.8 1893.2,354.3 1892.7,386.5 1894.2,353.5 1893.7,385.3 1894.6,354 1894.5,383.4 1896,353.9 1895.6,381.3 1897.4,352.5 1897,380.4 1898,353.1 1897.8,375.5 1898.8,354.4 1899.3,379.2 1899.8,354.3 1900.3,375.5 1900.9,355.3 1901.1,377.9 1902.2,356.6 1902.5,375.4 1902.5,357.3 1902.9,376.6 1903.7,357 1904.2,376 1904.8,357.2 1905.3,377.3 1905.8,360.3 1906.4,378.4 1907.3,361 1906.7,378.6 1908,359.8 1908.2,376.3 1908.7,361.8 1909,379.4 1910.1,360.3 1909.9,378.3 1911,359.6 1910.8,376.6 1911.8,361.2 1912.1,378.9 1912.7,361.6 1913,377.1 1914,362.4 1913.8,375.8 1915.3,363.7 1915.2,373.7 1916,363.2 1916.4,375.5 1917.4,364 1917.4,375.6 1918.2,365.1 1918.4,374.6 1919,364.9 1918.6,373.7 1920.1,365.2 1919.8,372.2 1921.4,368.3 1920.7,371.9 1921.8,367.4 1922.3,371.4 1923.4,370.6 1923.2,371.1 1923.5,370.6 1924,371.5 1925,370 1925.1,370.4 1926.2,371 1926.4,369.6 1927.3,370 1927.3,370.8 1927.9,371.3 1928.2,368.5 1928.5,371 1928.5,369.4 1930.1,373 1929.7,368.4 1931.4,374.2 1931,369.4 1931.6,374.5 1931.7,370.1 1932.9,369.9 1933,374 1934.1,368.2 1933.9,374.5 1935,363.5 1935,378.5 1936.2,362.3 1936,379.4 1937,365.6 1936.9,378.4 1937.9,362.7 1938.4,378.8 1938.6,363.8 1939.4,378.7 1940,365 1939.7,378.1 1941.1,364 1941.4,379 1942.2,364.6 1942.4,382.8 1942.8,363.6 1942.7,381.5 1944.3,361.6 1944.1,382.4 1945.5,360.9 1945.1,379.9 1945.9,361.9 1945.9,382.4 1947.2,364.2 1947.4,381.3 1948.4,365.4 1947.9,382.1 1948.9,367.6 1948.9,382.9 1949.8,367.7 1949.7,384.6 1950.7,369.4 1951.3,385.7 1952.4,370.3 1952.4,387 1952.8,366.9 1952.7,388.2 1953.8,365.6 1953.7,389.7 1955,367.3 1954.8,388.1 1955.6,365.6 1956,392.4 1956.7,364.5 1957.3,392.2 1957.7,363.2 1958.2,391.8 1959.1,364.1 1959,390.4 1959.9,363.2 1959.8,388.1 1961.5,362.7 1961.2,386.7 1961.7,363.2 1962.3,386.4 1962.9,364 1963.1,385.6 1964.1,363.5 1964.3,383.9 1965,363.2 1964.8,384 1965.8,364.9 1966,381.4 1967.4,363.6 1967.5,383.5 1968.1,363.3 1968.4,381.8 1968.5,364.5 1969.3,383 1970.3,363.1 1970.2,383.2 1970.6,363.5 1971.5,382.2 1972.2,364.7 1972.4,381.3 1973,364.8 1972.6,380.6 1973.9,365.7 1973.8,382.9 1975.4,364 1975,383.5 1976.1,363.7 1976.5,384.1 1976.6,362.9 1976.9,384.3 1978.2,363.1 1978.2,385.8 1978.7,364.2 1979.4,386.5 1979.5,363 1979.9,386.8 1981.4,364.5 1980.8,385.9 1981.8,358.3 1982,389.1 1982.5,353.9 1982.5,393.8 1983.7,354.6 1983.9,392.4 1985.4,350.3 1984.7,393.5 1986.5,350.8 1985.7,394.9 1987.2,348.1 1987,394.1 1988.3,348.8 1987.8,390.5 1989.2,350.9 1989.3,381 1990.2,354.8 1990.4,376.2 1991,360.5 1990.7,375.1 1992.3,362.5 1991.5,373.6 1993,366.5 1992.8,374.6 1994.1,368.1 1994.2,371.6 1775.5,363.2 1775.5,364.7 1774.1,366.2 1992.5,365.1 1993.3,366.6 1993.2,368.1 1993.4,369.6 1994,371.1 1992.8,372.6" marker-start="url(#g)" marker-mid="url(#g)" marker-end="url(#g)"/>
<polyline class="m" points="1898.1,37.4 1898.2,39.1 1898.4,39.9 1899,54.8 1899.1,55.6 1899.3,65 1899.3,67.5 1899.4,69.2 1899.4,70.9 1899.5,72.6 1899.7,74.3 1899.8,76.8 1900.1,79.4 1900.1,86.2 1861.2,236.9 1861,253.6 1861,258.3 1861,260 1861,261.2 1861,262.1 1861,262.9 1861.2,263.8 1861.1,265 1860.6,270.1 1868.2,269.7 1865.7,272.7 1864.8,274.4 1865.3,273.5 1867,287.5 1864,293 1864.8,299.8 1862.7,307 1862.7,308.3 1863,310 1863.1,311.3 1862.9,306.9 1862.9,311.5 1862.9,313.2 1863.3,314.9 1863.1,316.1 1863.5,317.2 1859.5,338.4 1859.5,347.3 1859.8,348 1859.5,390.7 1860.1,391.8 1859.5,393.5 1859.8,392.4 1859.6,391.2 1860,393 1904.3,323 1900.2,359.7" marker-start="url(#r)" marker-mid="url(#r)" marker-end="url(#r)"/>
<polyline class="m" points="1905.4,348.2 1906,347.1 1860.1,380.3 1861.2,384.9 1859.5,382.6 1860.7,379.2 1861.8,381.5 1858.9,384.4" marker-start="url(#p)" marker-mid="url(#p)" marker-end="url(#p)"/>
<polyline class="m" points="1904.7,361.3 1905.8,355.1 1906.9,357.5 1907.4,362.4 1909,358.9 1905.8,356.4 1904.1,355.1 1901.7,358.1 1907.5,360.8 1908.8,361.2 1907.2,357.5 1907,361 1909.2,358 1905.4,357.2 1908.3,359.7 1907.6,361.7 1904.6,356 1904.7,356.4 1907.6,357.3 1906.5,357.4 1906.7,361 1906.3,355.7 1904,359.4 1903.9,354.8 1906.2,354.7 1871.1,371.2 1873.2,373 1874.5,373.6 1873.3,373.5 1874.6,373.4 1874.3,372.3 1872.6,372.2 1873.8,374.6 1871.2,371.6 1872.8,373.8 1870.5,372.5 1872.9,372.1" marker-start="url(#b)" marker-mid="url(#b)" marker-end="url(#b)"/>
<polyline class="m" points="1868.5,345.1 1868.5,347.4 1869.3,345.8 1867.7,345 1869,350.3 1868.7,347.9 1870.3,345.2 1869,341.5 1868.9,342.4 1870.8,347.4 1869.3,342.2 1869.6,349.2 1868.6,344.2 1868.6,342.3 1868.3,349.1 1866.9,345.6 1870.6,345.4 1870.3,347.9 1868.1,341.6 1868.7,342.5 1869.5,344.9 1871.8,340.3 1868.6,343.7 1868.9,341 1868.8,345.9 1864.8,361.5 1863,371.2 1863.2,363.2 1864.1,364.7 1862.5,373.8 1862,376.9 1864.1,374.2 1862.1,374.1 1863.9,373.3 1864,367.3 1864,367.4 1867.7,367.2 1860.8,364.8 1864.5,365.4 1862.5,370 1863,369 1865.3,366.5 1863.5,376.3 1863.7,361.5 1861.5,375.6 1863.3,366.4 1862.8,362.7 1866.7,362.1 1862.8,368.7 1863.9,361.1 1864,359.3 1864.5,368.9 1863.9,363.8 1864.1,369.8 1863.2,368.2 1865.8,364.6 1866.8,368.1 1863.1,367.4 1864.6,365.1 1864.4,360.8 1864.5,364.8 1860.1,375.7 1862.8,371.1 1865.7,368.9 1865.3,365.9 1877,366.5 1877.3,363.5 1875.7,366.2 1875.6,364.8 1876.4,365.5 1876.1,362.4 1875,364.3 1875.3,365.4 1875.9,362.3 1878.2,364.4 1875.9,362.9 1876.1,364.2 1875.3,364.1 1878.3,366 1907.4,336.7 1905.3,342.7 1905.6,331.8 1902,334.3 1902.8,339.7 1901.3,329.1 1905.6,335.5 1904,342.4 1904.1,329 1900.6,339.8 1907.3,342.6 1905.8,334.4 1905.1,340.8 1901.8,333.1 1902.4,331.1 1904.4,338 1904,339.3 1905.7,340.2 1905.3,332.5 1905.3,335.4 1906.5,330.1 1905.3,343.1 1903.3,328.9 1903,332.1 1903.5,329.9 1901.7,337.4 1901.5,331 1903.8,329 1905.7,333.6 1905.6,333.2 1903.5,333.7 1905.4,340.8 1905.2,337.3 1902.2,339.7 1904.6,339.9 1903.9,340.1 1905.4,343.1 1904.2,341.7 1902.6,339.9 1906.9,336.7 1906,358" marker-start="url(#o)" marker-mid="url(#o)" marker-end="url(#o)"/>
</g>
<rect x="1153.5" y="15.5" width="848.9" height="421.8" class="ax"/>
<path d="M1316.5 437.3v-8.5M1316.5 15.5v8.5M1480.5 437.3v-8.5M1480.5 15.5v8.5M1643.5 437.3v-8.5M1643.5 15.5v8.5M1807.5 437.3v-8.5M1807.5 15.5v8.5M1970.5 437.3v-8.5M1970.5 15.5v8.5M1153.5 353.7h8.5M2002.4 353.7h-8.5M1153.5 269.1h8.5M2002.4 269.1h-8.5M1153.5 184.6h8.5M2002.4 184.6h-8.5M1153.5 100.0h8.5M2002.4 100.0h-8.5" class="ax"/>
<text transform="translate(1153.5,493.6) scale(1,1.052)" class="tk" text-anchor="middle">31.5</text>
<text transform="translate(1316.8,493.6) scale(1,1.052)" class="tk" text-anchor="middle">32</text>
<text transform="translate(1480.0,493.6) scale(1,1.052)" class="tk" text-anchor="middle">32.5</text>
<text transform="translate(1643.2,493.6) scale(1,1.052)" class="tk" text-anchor="middle">33</text>
<text transform="translate(1806.5,493.6) scale(1,1.052)" class="tk" text-anchor="middle">33.5</text>
<text transform="translate(1969.7,493.6) scale(1,1.052)" class="tk" text-anchor="middle">34</text>
<text transform="translate(1141.1,455.4) scale(1,1.052)" class="tk" text-anchor="end">7.8</text>
<text transform="translate(1141.1,371.0) scale(1,1.052)" class="tk" text-anchor="end">8</text>
<text transform="translate(1141.1,286.6) scale(1,1.052)" class="tk" text-anchor="end">8.2</text>
<text transform="translate(1141.1,202.3) scale(1,1.052)" class="tk" text-anchor="end">8.4</text>
<text transform="translate(1141.1,117.9) scale(1,1.052)" class="tk" text-anchor="end">8.6</text>
<text transform="translate(1141.1,33.5) scale(1,1.052)" class="tk" text-anchor="end">8.8</text>
<text transform="translate(1577.4,554.1) scale(1,1.020)" class="lb" text-anchor="middle">Salinity</text>
<text transform="translate(1066.0,226.4) rotate(-90) scale(1,1.030)" class="lb" text-anchor="middle">pH</text>
</g>
<g id="panel-c">
<clipPath id="clip-c"><rect x="155.1" y="594.1" width="855.7" height="428.8"/></clipPath>
<g clip-path="url(#clip-c)">
<polygon points="507.9,689.9 508.9,689.7 509.9,689.5 510.9,689.3 511.9,687.7 512.9,686.1 513.9,684.5 514.9,684.6 515.9,684.6 516.9,684.7 517.9,684.5 518.9,684.4 519.9,684.2 520.9,684.2 521.9,684.3 522.9,684.7 523.9,685 524.9,685.3 525.9,685.7 526.9,685.4 527.9,685.1 528.9,684.9 529.9,684.5 530.9,684.2 531.9,683.8 532.9,684.6 533.9,685.4 534.9,685.7 535.9,685.5 536.9,685.4 537.9,685.2 538.9,685.1 539.9,684.8 540.9,684.6 541.9,683.7 542.9,682.8 543.9,681.8 544.9,680.6 545.9,679.2 546.9,677.9 547.9,678.5 548.9,679.1 549.9,679.7 550.9,679.6 551.9,679.8 552.9,680.1 553.9,679.2 554.9,678.3 555.9,677.4 556.9,678.7 557.9,680.1 558.9,681.5 559.9,682.8 560.9,684.1 561.9,685.4 562.9,684.6 563.9,683.8 564.9,683.1 565.9,683.4 566.9,683.7 567.9,683.8 568.9,683.1 569.9,682.3 570.9,681.6 571.9,681.5 572.9,681.4 573.9,681.7 574.9,682.9 575.9,684 576.9,685.2 577.9,684.7 578.9,684.1 579.9,683.9 580.9,684.5 581.9,685.1 582.9,685.8 583.9,686.3 583.9,687.4 582.9,688 581.9,689.2 580.9,690.4 579.9,691.6 578.9,691.6 577.9,691.9 576.9,692.1 575.9,692 574.9,691.9 573.9,691.7 572.9,693 571.9,694.7 570.9,696.4 569.9,696.2 568.9,696.1 567.9,695.9 566.9,697 565.9,697.9 564.9,698.8 563.9,698.5 562.9,698.2 561.9,697.9 560.9,698.6 559.9,699.2 558.9,699.8 557.9,699.9 556.9,700 555.9,700 554.9,699.7 553.9,699.4 552.9,699.1 551.9,698.7 550.9,698.2 549.9,697.8 548.9,698.4 547.9,699 546.9,699.5 545.9,698.5 544.9,697.4 543.9,696.5 542.9,697.3 541.9,698.2 540.9,699.1 539.9,698.4 538.9,697.7 537.9,697.2 536.9,698.2 535.9,699.2 534.9,700.3 533.9,699.6 532.9,699 531.9,698.5 530.9,699.1 529.9,699.8 528.9,702.1 527.9,705.6 526.9,707.8 525.9,708.8 524.9,707.6 523.9,705.1 522.9,702.5 521.9,701.1 520.9,700.4 519.9,700 518.9,698.8 517.9,697.7 516.9,696.6 515.9,697 514.9,697.3 513.9,697.6 512.9,696.4 511.9,695.3 510.9,694.1 509.9,692.8 508.9,691.6 507.9,690.4" fill="#808080"/>
<polygon points="565.3,702.6 566.3,700.7 567.3,698.7 568.3,698.7 569.3,697.7 570.3,696.7 571.3,695.6 572.3,695.6 573.3,695.5 574.3,695.7 575.3,696.2 576.3,696.8 577.3,697.3 578.3,696.4 579.3,695.7 580.3,695.6 581.3,697.3 582.3,699 583.3,700.7 584.3,700.6 585.3,700.5 586.3,700.1 587.3,701.2 588.3,702.4 589.3,703.5 590.3,704.4 591.3,705.3 592.3,707.5 593.3,710.1 594.3,712.7 595.3,715.3 596.3,717.6 597.3,720.7 598.3,723.7 598.3,733.9 597.3,744.6 596.3,755.4 595.3,756.5 594.3,755.3 593.3,754.1 592.3,752.9 591.3,752.8 590.3,752.6 589.3,752.5 588.3,751.9 587.3,751.2 586.3,750.6 585.3,750.5 584.3,750.3 583.3,750.1 582.3,749.5 581.3,748.8 580.3,748.2 579.3,747.9 578.3,746.5 577.3,744.8 576.3,743.7 575.3,742.7 574.3,741.6 573.3,739.2 572.3,737.5 571.3,735.9 570.3,734.7 569.3,733.5 568.3,732.4 567.3,730.8 566.3,725.7 565.3,720.6" fill="#808080"/>
<polygon points="536.6,723.9 537.6,724.4 538.6,724.9 539.6,725.4 540.6,724.9 541.6,724.5 542.6,724.1 543.6,723 544.6,722 545.6,721.3 546.6,721.4 547.6,721.6 548.6,721.8 549.6,721.2 550.6,720.7 551.6,720.4 552.6,720.4 553.6,720.4 554.6,720.4 555.6,719.7 556.6,718.9 557.6,718.1 558.6,718.1 559.6,718.1 560.6,718.1 561.6,718.8 562.6,719.4 563.6,720 564.6,719.2 564.6,722.4 563.6,723.2 562.6,722.6 561.6,721.9 560.6,721.3 559.6,722.2 558.6,723.1 557.6,724 556.6,724.5 555.6,725 554.6,725.6 553.6,724.9 552.6,724.2 551.6,723.4 550.6,724.5 549.6,725.6 548.6,726.8 547.6,726.7 546.6,726.6 545.6,726.4 544.6,726.4 543.6,726.2 542.6,725.9 541.6,727.1 540.6,728.3 539.6,729.4 538.6,728.7 537.6,728 536.6,727.3" fill="#808080"/>
<polygon points="669.7,711.6 670.7,711.7 671.7,711.8 672.7,711.9 673.7,712.8 674.7,713.8 675.7,714.8 676.7,714.8 677.7,714.6 678.7,714.4 679.7,713.7 680.7,713.1 681.7,712.4 682.7,711.1 683.7,710.2 684.7,709.5 685.7,709.2 686.7,708.9 687.7,708.5 688.7,708 689.7,707.6 690.7,707.1 691.7,706.9 692.7,705.2 693.7,688.2 694.7,688.1 695.7,688 696.7,687.8 697.7,688.1 698.7,688.3 699.7,688.5 699.7,710.8 698.7,710.9 697.7,710.9 696.7,711 695.7,710.8 694.7,710.5 693.7,710.3 692.7,712.2 691.7,713.2 690.7,714 689.7,714.6 688.7,715.2 687.7,715.8 686.7,715.7 685.7,715.6 684.7,715.5 683.7,715.9 682.7,722.6 681.7,735.4 680.7,736.3 679.7,737.1 678.7,738 677.7,738.1 676.7,738.2 675.7,737.6 674.7,738.3 673.7,738.9 672.7,739.6 671.7,739.5 670.7,739.4 669.7,739.4" fill="#808080"/>
<polygon points="692.6,678.9 693.6,678 694.6,677.2 695.6,676.3 696.6,676.9 697.6,677.5 698.6,677 699.6,671.4 700.6,665.9 701.6,660.3 702.6,657 703.6,656.7 704.6,656.4 705.6,655.5 706.6,654.6 707.6,653.6 708.6,654.2 709.6,655.5 710.6,656.8 711.6,655.9 712.6,655 713.6,654.1 714.6,655 715.6,656.9 716.6,658.9 717.6,661 718.6,663 719.6,665.1 720.6,668.1 721.6,673 722.6,677.9 722.6,685.8 721.6,687.2 720.6,688.6 719.6,689.6 718.6,688.9 717.6,688.2 716.6,687.5 715.6,688 714.6,688.5 713.6,689 712.6,688.6 711.6,688.2 710.6,687.9 709.6,687.3 708.6,686.8 707.6,686.4 706.6,685.6 705.6,684.9 704.6,684.2 703.6,684.8 702.6,685.3 701.6,685.8 700.6,685.2 699.6,684.6 698.6,684.1 697.6,683.8 696.6,683.5 695.6,683.2 694.6,683 693.6,682.7 692.6,682.5" fill="#808080"/>
<polygon points="680,708.3 681,708.3 682,708.4 683,708.4 684,708.5 685,708.5 686,708.6 687,709 688,709.5 689,709.9 690,710 691,710.1 692,710.3 693,710.5 694,692.5 695,692.8 696,692.5 697,692.2 698,691.9 699,693.5 700,709.5 701,709.1 702,708.9 703,708.7 704,708.4 705,709 706,709.7 707,710.3 708,710.3 709,710.3 710,710.3 711,711 712,711.7 713,712.4 714,712.3 715,712.3 716,712.2 717,711.9 717,713.6 716,713.8 715,713.4 714,713 713,712.7 712,713.7 711,714.7 710,715.7 709,714.6 708,713.4 707,712.3 706,713.2 705,714.2 704,715.1 703,714.8 702,714.6 701,714.3 700,714.6 699,715 698,715.3 697,714.5 696,713.7 695,712.9 694,713.5 693,714.2 692,714.8 691,714.3 690,713.8 689,713.3 688,713.5 687,713.7 686,713.9 685,714.1 684,714.2 683,714.4 682,714.2 681,714 680,713.8" fill="#808080"/>
<polygon points="726.5,672.5 727.5,672.1 728.5,671.8 729.5,671.5 730.5,672.9 731.5,674.4 732.5,675.9 733.5,675.7 734.5,675.5 735.5,675.3 736.5,675.8 737.5,676.3 738.5,676.8 739.5,676.3 740.5,675.9 741.5,675.4 742.5,674.9 743.5,674.6 744.5,674.4 745.5,675.1 746.5,675.9 747.5,676.6 748.5,676.9 749.5,677.2 750.5,677.5 751.5,679.3 752.5,681 753.5,682.7 754.5,682.7 755.5,682.9 756.5,683.1 757.5,683.5 758.5,683.9 759.5,684.3 760.5,684.9 761.5,685.5 762.5,686.1 763.5,687.3 764.5,688.5 765.5,689.7 766.5,689.9 767.5,690.1 768.5,690.3 769.5,690.8 770.5,691.2 771.5,691.6 772.5,692.8 773.5,694 774.5,695.2 774.5,700 773.5,699.6 772.5,699.2 771.5,698.8 770.5,698.1 769.5,697.4 768.5,696.8 767.5,695.8 766.5,694.7 765.5,693.7 764.5,692.6 763.5,691.5 762.5,690.4 761.5,690.9 760.5,691.5 759.5,692.1 758.5,690.3 757.5,688.5 756.5,686.6 755.5,686.3 754.5,686 753.5,685.7 752.5,685.7 751.5,685.7 750.5,685.7 749.5,684.1 748.5,682.6 747.5,681 746.5,681.7 745.5,682.4 744.5,683.1 743.5,682.3 742.5,681.8 741.5,681.4 740.5,680.1 739.5,678.9 738.5,677.6 737.5,678.6 736.5,679.6 735.5,680.5 734.5,679.7 733.5,678.8 732.5,678 731.5,677.1 730.5,676.1 729.5,675 728.5,675.9 727.5,676.7 726.5,677.6" fill="#808080"/>
<polygon points="720.2,700.4 721.2,699.7 722.2,699.1 723.2,698.5 724.2,698.6 725.2,698.8 726.2,698.5 727.2,696 728.2,693.5 729.2,690.9 730.2,689.3 731.2,689.2 732.2,689.8 733.2,689.5 734.2,689.1 735.2,688.9 736.2,689.2 737.2,689.5 738.2,689.9 739.2,690.7 740.2,691.4 741.2,692 742.2,693 743.2,693.9 744.2,694.8 745.2,695.2 746.2,695.6 747.2,696 748.2,697.2 748.2,709.3 747.2,709.6 746.2,709.9 745.2,710.2 744.2,710.6 743.2,711.6 742.2,712.5 741.2,713.4 740.2,714.5 739.2,715.3 738.2,715.8 737.2,716.5 736.2,717.1 735.2,717.7 734.2,718.8 733.2,719.8 732.2,720.8 731.2,720.8 730.2,720.5 729.2,719.6 728.2,719.4 727.2,719.2 726.2,719 725.2,717.8 724.2,716.4 723.2,714.9 722.2,713.2 721.2,711.4 720.2,709.7" fill="#808080"/>
<polygon points="701.8,726.4 702.8,727.4 703.8,728.3 704.8,729.2 705.8,729.2 706.8,729 707.8,728.8 708.8,728.5 709.8,728.3 710.8,728.1 711.8,726.7 712.8,725.4 713.8,724.1 714.8,724.1 715.8,724 716.8,723.9 717.8,724 718.8,724 719.8,724 720.8,722.3 721.8,720.6 722.8,718.9 723.8,719.2 724.8,719.6 725.8,719.9 726.8,718.9 727.8,717.8 728.8,716.6 729.8,715.3 729.8,718.9 728.8,719.5 727.8,721.4 726.8,723.4 725.8,725.4 724.8,726.2 723.8,727.1 722.8,728 721.8,729.1 720.8,730.2 719.8,731.2 718.8,732.8 717.8,734.4 716.8,736 715.8,737.1 714.8,738.1 713.8,739.1 712.8,738.4 711.8,737.8 710.8,737.1 709.8,737.4 708.8,737.8 707.8,738.1 706.8,737.5 705.8,736 704.8,733.8 703.8,733.1 702.8,732.4 701.8,731.7" fill="#808080"/>
<polygon points="766.1,686.4 767.1,685.3 768.1,684.3 769.1,683.2 770.1,682 771.1,680.7 772.1,679.6 773.1,680.6 774.1,681.5 775.1,682.4 776.1,681.5 777.1,680.5 778.1,679.7 779.1,679.3 780.1,679 781.1,678.7 782.1,679.2 783.1,679.7 784.1,680.3 785.1,681 786.1,681.7 787.1,682.4 788.1,681.5 789.1,680.7 790.1,679.8 791.1,679.9 792.1,680 793.1,680 794.1,680.8 795.1,681.5 796.1,682.4 797.1,682.3 798.1,682.2 799.1,682.7 800.1,684.3 801.1,685.5 802.1,686.4 803.1,686.9 804.1,687.3 805.1,687.8 806.1,687.9 807.1,689.2 808.1,690.7 809.1,692.2 810.1,693.6 811.1,695.1 812.1,696.1 813.1,696.2 814.1,696.3 815.1,696.9 816.1,697.4 817.1,698 818.1,699.6 819.1,701 820.1,702.5 821.1,702.5 822.1,702.5 823.1,702.4 824.1,703.2 825.1,704.1 826.1,704.9 827.1,704.8 828.1,704.8 829.1,704.8 830.1,704 831.1,703.1 832.1,702.2 833.1,702.3 834.1,702.4 835.1,702.5 836.1,702.6 837.1,702.8 838.1,702.9 839.1,703 840.1,703.1 841.1,702.7 842.1,700.6 843.1,698.5 844.1,696.4 845.1,695.2 846.1,694 847.1,693.4 848.1,691.8 849.1,690.2 850.1,688.6 851.1,688 852.1,687.4 853.1,687 854.1,687.5 855.1,688 856.1,688.5 857.1,687.1 858.1,685.7 859.1,684.5 860.1,684.5 861.1,684.6 862.1,684.6 863.1,684.7 864.1,684.8 865.1,684.9 866.1,684.6 867.1,684.2 868.1,683.9 869.1,684.7 870.1,685.5 871.1,686.3 872.1,685.5 873.1,684.7 874.1,683.9 875.1,683.3 876.1,681.8 877.1,680.3 878.1,679.3 879.1,678.3 880.1,677.3 881.1,676.4 882.1,675.2 883.1,673.9 884.1,671.6 885.1,669.2 886.1,666.8 887.1,666.1 888.1,665.5 889.1,664.9 890.1,663.6 891.1,662.3 892.1,661.1 893.1,660.3 894.1,659.9 895.1,659.4 896.1,658.5 897.1,657.5 898.1,656.5 899.1,656.6 900.1,656.8 901.1,656.9 902.1,657 903.1,657.2 904.1,657.8 905.1,660.4 906.1,663 907.1,665.6 908.1,668.2 909.1,670.8 909.1,709.3 908.1,709.3 907.1,709.4 906.1,711.1 905.1,712.9 904.1,714.6 903.1,714.4 902.1,714.1 901.1,713.8 900.1,712.7 899.1,711.7 898.1,710.6 897.1,710.8 896.1,710.9 895.1,711.1 894.1,711.1 893.1,711.1 892.1,711.1 891.1,711.7 890.1,712.4 889.1,713 888.1,711.7 887.1,710.4 886.1,709.4 885.1,710.3 884.1,711.3 883.1,712.3 882.1,713.1 881.1,713.9 880.1,714.7 879.1,714.6 878.1,714.5 877.1,714.4 876.1,713.8 875.1,713.1 874.1,712.4 873.1,713.2 872.1,714 871.1,714.8 870.1,714.4 869.1,714.1 868.1,713.7 867.1,714.4 866.1,715.1 865.1,715.7 864.1,715.5 863.1,715.4 862.1,715.4 861.1,715.5 860.1,715.5 859.1,715.6 858.1,715.8 857.1,715.9 856.1,716 855.1,716.3 854.1,716.6 853.1,717 852.1,718.3 851.1,719.6 850.1,720.9 849.1,720.8 848.1,720.8 847.1,720.7 846.1,720.5 845.1,720.3 844.1,720 843.1,719.6 842.1,719.2 841.1,718.9 840.1,719.6 839.1,720.4 838.1,721.2 837.1,720.7 836.1,720.2 835.1,719.7 834.1,719.2 833.1,718.7 832.1,718.3 831.1,718.6 830.1,719 829.1,719.4 828.1,719.9 827.1,720.3 826.1,720.8 825.1,720.6 824.1,720.4 823.1,720.3 822.1,720.8 821.1,721.4 820.1,721.9 819.1,722.6 818.1,723.3 817.1,725.1 816.1,726.8 815.1,728.4 814.1,730.1 813.1,732 812.1,733.8 811.1,736.4 810.1,739.2 809.1,742 808.1,744.8 807.1,747.9 806.1,750.5 805.1,750.8 804.1,750.7 803.1,750.5 802.1,750.4 801.1,749.8 800.1,745.1 799.1,735 798.1,726.9 797.1,725.6 796.1,724.3 795.1,723.1 794.1,722.2 793.1,721.6 792.1,720.2 791.1,718.7 790.1,717.3 789.1,716.5 788.1,716.2 787.1,716 786.1,715.7 785.1,715.5 784.1,715.3 783.1,714.9 782.1,714.9 781.1,715 780.1,714.6 779.1,714.2 778.1,713.8 777.1,715 776.1,716.2 775.1,717.5 774.1,716.5 773.1,715.4 772.1,714.4 771.1,714.3 770.1,714 769.1,713.7 768.1,713.9 767.1,714 766.1,714.1" fill="#808080"/>
<polygon points="832.6,690.5 833.6,689.9 834.6,689.2 835.6,688.6 836.6,688.9 837.6,689.2 838.6,689.5 839.6,687.9 840.6,686.3 841.6,685.2 842.6,686.1 843.6,687.1 844.6,688.1 845.6,688.2 845.6,693.5 844.6,693.9 843.6,693.5 842.6,693 841.6,692.6 840.6,692.3 839.6,691.8 838.6,691.2 837.6,690.9 836.6,690.6 835.6,690.3 834.6,690.5 833.6,690.7 832.6,690.9" fill="#808080"/>
<polygon points="860,683.1 861,683.2 862,683.3 863,683.4 864,683.2 865,683 866,682.9 867,682.9 868,683 869,683.1 870,684.4 871,685.8 872,686.2 873,685.1 874,684.1 875,683 876,681.3 877,679.6 878,678.1 879,676.4 880,674.8 881,673.1 882,672.4 883,671.5 884,669.6 885,668 886,666.4 887,664.8 888,661.6 889,659.2 890,657.4 891,656.5 892,655.6 893,654.7 894,655 895,656.6 896,658.5 897,658.7 898,658.9 899,659.1 900,660.6 901,663.6 902,666.5 903,668.2 904,669.8 905,671.4 906,673.7 907,674.6 908,675.5 909,676.2 910,679.7 911,683.6 912,683.9 913,682.9 914,681.8 915,683 916,684.2 917,685.3 918,685 919,684.8 920,684.6 921,683.8 922,683.1 923,682.6 924,684.4 925,686.2 925,695.8 924,696.9 923,698 922,698.5 921,698.9 920,699.3 919,699.5 918,699.6 917,699.8 916,700.6 915,701.4 914,702.2 913,703.1 912,704 911,705 910,706.7 909,708.3 908,709.9 907,711.1 906,712.3 905,712.9 904,712.7 903,712.4 902,712.2 901,712.5 900,712.8 899,713.1 898,712.5 897,711.8 896,711.1 895,712 894,712.5 893,712.6 892,711.9 891,711.3 890,710.7 889,710.4 888,710.4 887,710.5 886,709.9 885,709.3 884,708.7 883,709.2 882,710 881,711 880,710.3 879,709.7 878,709.1 877,710 876,711 875,711.9 874,711.1 873,710.2 872,709.3 871,710.6 870,711.8 869,713.1 868,713.1 867,713.2 866,713.2 865,712.7 864,712.2 863,711.7 862,711.7 861,711.6 860,711.6" fill="#808080"/>
<polygon points="914.8,702 915.8,701.9 916.8,701.7 917.8,701.6 918.8,701.4 919.8,701.3 920.8,701.2 921.8,701.9 922.8,702.5 923.8,703 924.8,702.2 925.8,701.4 926.8,700.6 927.8,700.8 928.8,700.3 929.8,698.4 930.8,695.7 931.8,693.1 932.8,690.5 933.8,688.3 934.8,687.3 935.8,687.2 936.8,686.7 937.8,686.3 938.8,685.8 939.8,684.7 940.8,682.6 941.8,680.4 942.8,679 943.8,677.6 944.8,676.2 945.8,672.5 946.8,658.4 947.8,650.7 948.8,651.8 949.8,652.9 950.8,654 951.8,654 952.8,674.2 953.8,678.5 954.8,675.3 955.8,672.1 956.8,668.9 957.8,668.8 958.8,669.3 959.8,669.8 960.8,670.9 961.8,673 962.8,675 963.8,676.5 964.8,671.1 965.8,669.3 966.8,668.8 967.8,668.2 968.8,667.7 969.8,668.9 970.8,671.8 971.8,674.6 972.8,680 973.8,692.1 974.8,697.6 975.8,697.6 976.8,697.7 977.8,697.8 978.8,698.9 979.8,699.4 980.8,699.9 980.8,708.8 979.8,710.4 978.8,712.1 977.8,711.6 976.8,712.1 975.8,712.6 974.8,713.1 973.8,715.4 972.8,721.5 971.8,725.4 970.8,728.5 969.8,731.6 968.8,732.3 967.8,733.8 966.8,735.3 965.8,736.8 964.8,736.3 963.8,734.9 962.8,734.1 961.8,733.6 960.8,733.1 959.8,732.8 958.8,733.1 957.8,733.4 956.8,733.4 955.8,731.5 954.8,729.6 953.8,727.7 952.8,726.1 951.8,721.6 950.8,721.2 949.8,719.2 948.8,717.3 947.8,715.4 946.8,714.9 945.8,714.8 944.8,715.3 943.8,714.9 942.8,714.6 941.8,714.2 940.8,714.5 939.8,714.7 938.8,714.8 937.8,715.3 936.8,715.7 935.8,716.2 934.8,715.4 933.8,714.4 932.8,713.2 931.8,713.6 930.8,714.1 929.8,714.5 928.8,714.4 927.8,714.3 926.8,714.2 925.8,713.3 924.8,712.4 923.8,711.6 922.8,711.4 921.8,711.4 920.8,711.4 919.8,710.9 918.8,710.4 917.8,709.9 916.8,709.9 915.8,709.9 914.8,709.9" fill="#808080"/>
<polygon points="544.6,738.9 545.6,739.8 546.6,740.6 547.6,741.4 548.6,740.8 549.6,740.2 550.6,739.6 551.6,739.4 552.6,739.2 553.6,739 554.6,738.8 555.6,738.6 556.6,738.4 557.6,739.2 558.6,740.1 559.6,741 560.6,740.3 561.6,739.6 562.6,739 563.6,739 564.6,739.1 565.6,739.2 566.6,739.2 567.6,739.3 568.6,739.3 569.6,739.3 570.6,739.3 571.6,739.3 572.6,739.4 573.6,739.4 574.6,739.5 575.6,739.6 576.6,739.7 577.6,739.8 578.6,739 579.6,738.2 580.6,737.4 581.6,737.7 582.6,737.9 583.6,738.1 584.6,738.1 585.6,738.1 586.6,738 587.6,737.7 588.6,737.4 589.6,737.2 590.6,738.4 591.6,741 592.6,743.6 593.6,745.1 594.6,746.7 595.6,747.8 596.6,747.8 597.6,747.8 598.6,747.9 599.6,748.7 600.6,749.5 600.6,753.9 599.6,754.5 598.6,755.1 597.6,753.9 596.6,752.6 595.6,751.4 594.6,751.6 593.6,751.9 592.6,752.2 591.6,751.9 590.6,751.5 589.6,751 588.6,751.9 587.6,752.9 586.6,753.8 585.6,752.8 584.6,751.8 583.6,750.8 582.6,750.4 581.6,750 580.6,749.6 579.6,748.4 578.6,747.2 577.6,746 576.6,746 575.6,746 574.6,746 573.6,745.4 572.6,745 571.6,744.6 570.6,745.5 569.6,746.4 568.6,747.3 567.6,746.8 566.6,746.4 565.6,745.9 564.6,746.7 563.6,747.5 562.6,748.3 561.6,747.9 560.6,747.6 559.6,747.2 558.6,748.4 557.6,749.6 556.6,750.8 555.6,751 554.6,751.3 553.6,751.6 552.6,750.7 551.6,749.8 550.6,748.2 549.6,748.5 548.6,748.7 547.6,749 546.6,748 545.6,747 544.6,746" fill="#808080"/>
<polygon points="703.4,730.1 704.4,730 705.4,730 706.4,729.9 707.4,728.9 708.4,728 709.4,727 710.4,727.2 711.4,727.4 712.4,727.6 713.4,728.8 714.4,730 715.4,731.2 716.4,730.6 716.4,733.8 715.4,734.9 714.4,735.3 713.4,735.4 712.4,734.9 711.4,736.2 710.4,737.5 709.4,738.7 708.4,738.6 707.4,738.4 706.4,737.6 705.4,736.2 704.4,734.9 703.4,733.6" fill="#808080"/>
<polygon points="801,729.9 802,730.1 803,730.3 804,730.5 805,730.3 806,730.1 807,729.9 808,729.7 809,729.5 810,729.2 811,729.7 812,730.2 813,730.6 814,730.6 815,730.7 816,730.7 817,730 818,729.3 819,728.6 820,729.2 821,729.9 822,730.5 823,730.7 824,730.9 825,731.1 826,729.8 827,728.5 828,727.2 829,727.9 830,728.6 831,729.3 832,729.7 833,730.1 834,730.5 835,730.4 836,730.4 837,730.3 838,729.7 839,729.1 840,728.4 841,728.6 842,728.8 843,729.1 843,730.5 842,732.6 841,734.6 840,736.7 839,736.7 838,736.7 837,737.8 836,741.1 835,744.5 834,747.2 833,747.4 832,747.6 831,747.7 830,748.1 829,746.8 828,744.9 827,742.9 826,741.5 825,741.8 824,742.4 823,743 822,743.6 821,742 820,740 819,737.9 818,737.4 817,740.7 816,744.1 815,747.8 814,747.5 813,746.1 812,745.7 811,745.4 810,745.1 809,744 808,746.6 807,749.3 806,750.6 805,750.1 804,748.2 803,748.4 802,748.7 801,748.9" fill="#808080"/>
<polyline class="m" points="509.8,691.3 511.3,692.2 516.2,686.8 522.5,688 528.2,704.1 530.6,697.9 533.4,688.5 536.1,695.7 538.2,693.4 540.4,696.5 546.2,681 548.5,683.4 552.8,695.1 558.7,683.3 560.2,684.8 561.1,685.4 561.2,697.1 566.2,694.5 571.4,683.9 580.7,687.8 581.9,747.5 583.7,746.9 586.9,704.3 591.4,750.8 594,714.6 541.2,726.7 541.7,725.1 543.9,725.4 543.1,724.2 546,724.9 550.8,723.9 555.1,722.9 557.1,720.1 560.5,717.3 563.2,722.1 669.7,737.1 670.3,713.8 670.2,738.2 671.8,713.6 671.7,737.9 677.5,715.9 681.9,734.2 687.1,712 689.9,711.2 694.7,692.4 696.6,691.4 693.5,680.2 704.4,659.3 705.3,683.4 708.6,684.1 711.7,686.5 683.6,710.2 690.8,712.9 692.5,712.8 694.1,709.7 695.2,698 696.8,694 698.5,711.7 701.6,712.7 702.6,711.2 704.2,711.7 709.4,713.6 714.1,713.7 716.3,715.3 730,674 737.6,676.1 748.6,680.5 749.9,682.1 753.8,684.3 757.3,686.9 762.8,687.8 765.5,691.2 767.3,693.2 769.7,696 770.8,696.3 773,694.5 773.1,696.3 720.5,707.8 721.8,710.6 728.2,717.8 730.2,691.3 731.6,719.4 732.8,692.5 734,690.5 735.1,690.6 735,714.8 736,691.8 740.7,692.7 741.1,693.9 743.9,709 747.5,697.8 747.9,703.2 705.2,731.9 708.2,735.6 708.7,735.7 721,724.9 722.3,721.2 722.7,725 766.2,689.9 776.1,682.8 777.1,681.8 778.3,683 778.1,710.9 783.2,681.6 788.9,684.5 796.6,723.8 806.7,691.5 807.1,745.9 812.5,731.6 813.3,699.2 814.1,699.3 815.4,725.6 815.6,724.2 818.1,702.6 819.1,718.3 822.1,706.3 827.1,717.4 831.2,704.9 834,705.4 843.3,702.4 844.4,717.3 850.2,718.8 859.8,685.8 861.1,687.5 861.7,713.9 866.2,687 869.4,711.2 871.4,688.3 878.4,708.1 880.2,712.8 882.3,711.7 883.8,709.3 887.7,667.4 891.2,708.9 892.3,662.9 893.6,707.8 895.8,708 897.6,659.4 899.7,711.6 908.7,706.8 833.3,688.9 835,690.7 840.8,688.4 845.9,690.5 860.3,709.4 870.1,710.6 881.7,675.7 882.2,707.6 883.3,673.8 889.5,706.1 892.3,657 892.7,710 894.2,656.3 893.7,711.4 896.9,660.4 901.4,665.7 905.8,707.7 907.3,677.5 907.6,676.8 908.5,679.3 910.6,702.9 911.8,685.3 917.4,687.3 921.7,686 922.8,696.4 925.1,687.5 915.2,707.8 917.3,708.4 920.6,702.4 933.4,712.8 934.5,689.1 936.8,689.4 936.4,712.6 939.1,712.3 940,712.9 947.2,662.7 947.2,711.1 949.6,713 951.4,656.4 953.6,681.5 957.9,670.8 959.9,728.5 964.2,679 966.1,671.9 967.1,673.2 967.3,733.2 969.9,670.7 971.8,721.2 973.2,719.7 977.9,708.7 978.6,708.6 979.7,708.5 551.7,745.6 552.5,749.3 554.5,741.7 556,747.8 565.5,740.8 566.4,742.1 571,742.9 575.9,741.2 576.1,744.1 580.1,747.2 581.7,740.6 583.6,748.5 584.4,742 586.4,751.1 588.6,750.4 592.5,745.2 599.7,750.3 600.9,750.7 600.2,752.3 703.4,733.6 704.2,732.4 711.9,729.6 711,733.7 713.3,732.6 714.3,732.3 716.2,732.8 803.4,746 805.2,732.4 807.3,732.2 808.8,741.3 810,741.5 813.6,732.4 814.8,746.2 817.7,734.6 828.2,743.2 831.9,745.5 832.8,732.8 836.1,739.8 840.7,730.4" marker-start="url(#h)" marker-mid="url(#h)" marker-end="url(#h)"/>
<polyline class="m" points="216.5,703.3 220.7,704 227,702.5 231,701.2 232.4,702.9 234.2,704.6 239.8,701.5 241.9,705 244,705.9 245.4,706.4 250.3,700.5 255.9,701.2 283.8,698.7 286.6,698 283.8,701.5 288.7,701.5 285.2,700.1 282.4,700.4 287.3,699.8 285.5,702.2 305.5,697.3 309.7,697.3 313.2,698 317.4,697.6 320.9,698 324.4,698.4 297.8,702.9 303.4,703.6 307.6,704.6 334.8,705 336.2,704.3 338.3,703.6 343.2,704.3 346.7,704.3 359.3,698.7 362.1,697.3 364.9,698 369.1,697.3 374,695.2 372.6,698.7 367.7,700.1 371.2,696.2 389.3,704.6 398,704 409.9,702.9 421.7,701.5 433.6,700.4 453.6,699.4 459.9,703.2 471.1,701.2 277.4,700.2 263.9,700.8 259.7,700.4 277.9,701 258.9,701 260,700.3 267.4,700.1 278.7,700.6 274.6,701.1 270.6,700.5 263.7,700.8 271.3,700.7 279.7,700.5 271.4,700.9 262.9,700.3 262.4,701.3 264,700.9 260.5,701.6 262.3,701 266.2,700.9 271.1,701.1 277.7,700.9 263.8,700.6 263.5,700.9 260.7,700.2 278.6,701.6 271.3,701.3 257.8,700.9 269.2,699.7 271.1,701.4 271.7,700.5 264.6,701.2 267.6,700.9 269.8,701.6 265.3,701.1 275.6,700.7 278,701.1 277.9,700 260.1,699.8 279.7,700.2 264.3,701.5 263.8,700 273.6,701.2 258.8,700.7 270.2,701.4 266.4,700.8 278.9,700.8 274.6,700.5 264.3,699.9 263.5,700.7 259.9,701.1 260.5,700.1 279.7,700.1 273.8,701.3 267.4,700.8 277.4,701.2 274.5,701 277.7,700.9 275.1,700.1 260.3,701 295.5,700.2 302.4,700.1 303.1,700.9 298.1,700.6 297.5,700.7 305.2,700.8 297.6,698.9 296.7,699.2 303.4,700.3 301.2,699.9 304.2,700.2 297.4,699.4 295.4,699.6 293.8,701.1 296.4,700.3 297.7,700.4 303.4,700.6 299.1,700 295.8,700 303.3,700.6 301.2,699.3 305.2,699.4 303.2,700.5 297.9,700.5 298.5,699.9 315.7,703.7 326.1,705.5 327.1,704.4 326.3,704.6 326,703.8 322.7,704.9 322.7,704.1 328.7,705 323.9,704.3 318.7,703.2 315.5,704.3 322.1,704.1 320.6,703.6 328.4,704.2 329.2,704 314.8,703.9 316.2,704.6 324,704.1 325.1,704.3 323.2,704.5 314.2,703.8 325.4,704.1 317.1,704.1 330,704.9 324.6,705 314.2,702.8 323.3,704.7 318,704.2 329.5,705.6 315.9,703.9 324.2,704 326.2,704.1 324.8,704.8 324.9,704.6 317.3,702.9 330.3,704 317.9,704 311.9,703.2 317.5,704.4 327.5,704.4 330.3,705.6 329.5,704.7 315.1,703.4 323.6,703.8 312,703.1 314.3,703.2 325.3,704.2 316.6,704.1 314.1,703 329.3,704.5 349.9,702 349.3,702 350.2,701 348.6,703.4 351.9,699.4 350.7,701.1 354.7,699.5 353.2,698.7 348.5,703.2 351.4,698.7 351.7,700 348.7,701.8 348.6,703.3 355.3,698.5 350.6,701.5 352,701.3 348.1,703 348.8,703.8 348.7,703.3 349,702.9 353.3,698.4 353.1,699.8 354.1,698.6 350.5,701.1 353.9,699.4 378.5,702 379.4,702.8 379.6,702.7 382.8,703.1 378.7,702.7 382.6,703.8 380.1,702 378,702.1 382.3,704.2 381.9,703.7 377.8,701.4 374.8,699.6 381,703.3 379.1,700.8 373.8,698.9 374.9,699.4 374.4,699.1 383,704.5 380.9,703.9 375.9,700.4 378.9,701.1 382.4,703.8 444.2,698 446.1,700.2 447.7,703.1 447.7,702.9 440.5,698 444.5,701.4 442.4,700.6 444.7,700.2 442.4,697.2 445.5,701.2 440.7,698.6 443.8,701.1 448.3,703.7 446.3,702 444,698.7 445.7,699.3 443.7,699.4 443.3,700.4 443.1,700.3 447.3,702 442.6,699.1 446.7,703.7 447.3,703 446.7,701.9 446.1,700.8 442.3,697.9 446.7,703.1 443.1,698.3 447.9,703.4 443.8,699.8 471.7,701.3 486.1,698.6 487.8,689.4 491.8,687.7 490.7,697.5 495.2,690 498.7,686.6 503.3,687.7 505,679.7 511.3,680.3 515.9,682 497.5,693.5 499.8,695.7 502.7,699.2 493,701.5 496.4,702.6 504.4,706.7 501,704.9 512.5,706.7 517.6,707.8 509,699.2 506.7,694.6 552.1,673.4 558.4,673.4 560.7,673.9 568.1,671.6 572.1,673.9 576.7,675.1 566.4,678 572.1,682 576.2,680.3 622.1,665.9 645.6,714.1 665.1,712.4 670.8,712.4 697.2,653.3 695,661.3 698.4,663.6 681.2,663.6 681.2,677.4 672,667.1 673.1,670.5 691.5,675.1 697.2,668.2 698.4,677.4 683.5,718.7 685.8,722.1 682.3,725.6 493,700.2 508.6,684.9 501.7,703.2 495.5,696.4 490.7,693.7 487.9,701.6 501.7,700.4 518.1,707.7 488.6,691.3 506.8,686.6 513.6,687.4 494,702.6 499.4,701.7 508.1,688.7 496.3,702.5 499.2,686.5 485.6,697.7 497.7,702.2 509.4,685.7 512,689.1 503.3,683.3 498.6,692.7 508.8,688.8 501.5,696.2 517.8,703.4 512,688 516.6,700.2 500.5,692.2 511.6,696.4 516.5,691.3 491.8,704 511.7,708.1 506,690.9 510.3,704.7 505.1,691.6 488,695.8 498,702.6 486.5,692.1 492.6,703.9 516.1,692.1 504.7,688.9 501.1,687.9 517.1,703 515.1,699.9 512.1,687.5 504,684.7 487.8,698.8 515.9,705.2 496.3,686.2 517.1,695.6 501.9,705.5 507.7,694.4 502.7,704 492.9,687.1 508.5,689.5 486.6,693.6 514.7,695.7 498.4,695.7 508.7,689.9 487.8,694.8 497.7,689.8 499.9,699.9 506.2,696.9 518,702.9 487.1,696.3 503,687.9 503,689.2 506.4,707.6 500.7,702.8 489.6,693.6 488.4,692.2 508.4,683.1 502.5,693.5 508.4,706.5 494.4,699.5 485.2,697.8 511,693.8 507.7,698.3 490.5,686.6 486.7,691.3 486.3,690.2 487.1,701.4 514.6,699.6 503.7,682.2 487.5,691.1 491.2,694.7 501.5,698.6 502.9,686.8 488.7,696.1 516.3,704.1 530.6,678.8 530.3,671 548.5,674.1 544.6,680.3 532.3,676.3 545.7,673.2 532.7,675.1 542.3,673.9 526.4,668.8 526.9,668.4 531.7,668.4 529.5,670.2 540,677.1 533.6,670.2 526.3,668.7 544.5,678 530.4,678.7 521.9,674.3 546.1,675 543.4,673.8 522.8,673.5 529.4,668 523.8,673.3 534.9,675.4 533.5,670.9 535,678.2 524,669.7 521,670.9 522.6,667.7 534.4,674.3 541.9,673.6 520.3,667.6 522.8,671.6 529.6,672.7 542.1,674.6 530.7,668.7 535.2,673.6 548,680.5 525.9,677.6 545.9,674.3 530.9,670.2 523.6,673.8 533.9,677.4 522.7,673.7 545,678 543.5,679.7 538.5,672 529,670.5 538,673.9 523.9,671 543.2,671 548.7,674.6 545.5,679.5 523.7,671.7 540,675.8 533,676.1 546.6,675.4 541.1,674.2 544.6,676.9 536.9,678.9 538.1,676.8 527.6,670.9 536.9,676 537,671.6 527.2,676.3 589.4,664.4 589.9,666.8 591.2,680.2 589.9,669.6 588.8,679.2 588,681 586.1,665.6 586.4,664.4 588.5,670.6 588.2,683.1 587.9,664.9 586,677.2 587.4,679.1 586.8,664.1 586.4,683.7 588,675 590.1,680.1 590.3,671.5 588.5,666.2 590.9,664.4 586.2,665.4 589.6,675.6 588.4,679.3 587.6,677.7 583.8,688.5 584,687.4 586.4,685.4 584.5,687 588.7,682.9 587.7,684.6 588.4,682.5 586.9,684.6 583.8,687.8 587.4,682.2 585,688.5 587.8,682.3 571.5,725.7 569.6,725.3 563,741.1 561.2,747.6 549.4,729.6 548.1,733.9 559.7,729.6 564.8,726 562.5,745.6 569,742.9 569.8,745.3 548.1,733 556.4,746 562.2,735.1 549.5,735 563.9,731.8 561,728.9 566.6,739.4 562.2,728.7 552.7,732.3 549.9,750.4 557.9,743 560.6,733.7 554.7,731.8 561,727.2 555.7,751 551.4,748.1 558.9,746.8 571.3,733.3 569.4,746.8 572.1,750.9 573.1,750.9 547.5,737.1 573.3,731.3 569.3,740.9 558.7,734.5 572,748.5 557.3,742.9 547.4,736.5 555.7,750.8 568.4,726.4 570.6,739.5 545.8,732.6 571.2,747 556.3,732.6 559.7,740.2 553,741.3 568.4,733.6 572,738.8 566.8,739.2 564.8,735.6 548.7,737.8 557.4,739.8 557,743.9 571.1,732.5 565,728.9 570.3,726.2 554.7,737.1 558.1,734.6 555.9,730.1 544.8,738.7 554.3,746.7 570.1,727.1 546.6,734.9 561.4,731.1 572.4,743.8 558.9,747.9 563.2,741.5 562.9,729.1 549.1,738.4 560.1,732.8 563.2,733.4 551.8,735.3 555.5,751.3 550.9,732.6 551.2,746.5 570.5,724.2 548.3,747.1 557.6,732.3 571.2,735.1 550.2,731.7 566.7,740.8 561.1,734.1 557.5,732.1 546.1,731.4 557.2,744.2 557.5,744.7 550,738.8 572.1,734.4 554.1,734.8 557.5,727.9 561.4,750.6 555.5,743.9 568.3,727.2 558.8,730.4 546.7,740.7 570.9,736 551.8,736.6 561.8,751.7 550.6,746.3 562.2,747.9 569.7,741.4 562.5,729.4 561.3,736.7 573,744.4 566.4,725.9 568.8,742.5 561.8,741.1 544.4,734.6 568.8,724.9 571.6,734.9 572.8,732.6 565.4,727.4 560.1,730.3 569.8,743.6 560.2,742.4 564.6,734.6 560.5,728.6 547.6,745.5 572.2,733.7 567.5,725.1 554.3,746.8 554.6,750.2 561.5,749 571.1,745.4 557.9,731.8 566.4,734.4 569.1,738 566.3,736.6 544.5,745 564.3,750.5 572.5,730.2 546.8,734.1 562.3,739.4 560.4,740.9 571.6,725.3 573.3,740 555.7,730.5 563.4,727.2 569.9,737.5 572.8,731.5 561.2,745.2 546.8,731.2 561,745.3 562.8,726.7 549,736.9 572.7,746.3 572.5,728.4 572.6,736.9 569.3,738.4 570.5,725.6 571.6,729.5 569.8,731.6 555.6,731.2 572.1,732.3 553.4,746.6 547.9,736.2 546.1,734.2 563.7,744.4 561.5,746.6 570.3,740.3 566.2,741.7 565,727.9 555.6,741.3 564.9,741.5 555.1,728.4 550.1,731.6 562.8,734.9 570.8,750.3 558.5,743.1 558.2,749 565.5,742.4 550.8,743.9 569.7,744.9 564.9,749 561.1,728.8 571.1,725.3 549.7,749.7 572.5,726.4 570.3,750.3 560.3,743 555.6,733.8 549.3,741.1 551.5,749.2 569.9,751.7 571.4,733.8 569,751.9 564.6,728.3 564,726.4 561.7,747.3 564.9,737.5 551.7,748.8 544.7,731.3 565,750.7 548.7,732.7 550.8,750 573.1,729.2 549.2,743.1 551.5,748.8 564.6,751 550.2,733.9 555.5,736.4 556.5,736.4 561,738 552.7,748.1 563,735.4 553.6,736.9 566.5,740.7 569,728.8 559.7,727.4 564.1,727.1 558.5,742.9 554,742.3 549.6,730 547.1,738.7 564.8,731.2 549.6,729.4 547.5,737.4 557.6,734.2 571.5,732.1 554.6,735.6 549.4,741.6 568.3,734.7 564.9,730.7 567.2,750.1 553.4,748 566.6,739.5 559.2,730.1 565.5,727.5 561.7,738.1 571.2,736.8 552.3,748.6 544.5,735.2 565.2,730.6 567.6,741.9 562.7,730.7 559.1,740.5 572,728.4 568.1,751.8 571,739.8 553,729.9 547.7,738.8 551.5,734.6 571.3,743 559.6,748.5 565.2,730.9 562.5,747.9 570,726.6 567.5,728.5 557.1,732.3 558.1,741.3 554.2,736 556.6,730.1 559.1,749.2 613.1,678.4 596.9,682.8 625.1,676.8 618.6,674.6 626.9,671.3 615,675.7 609.1,673 626,675.8 614.8,672.8 626.6,670.2 605.1,674.1 609.2,670.3 620.4,676.3 604,678.3 626.1,669.1 620.8,678.5 623.5,673.1 598.2,679 630.7,672.7 603.7,673.7 605.6,676.5 617.1,676.5 598.4,680.3 611,670.5 625.2,671.8 603.9,673.6 601.1,679 629.8,673.8 631.8,677.8 628.6,673.3 596.7,679.6 629.8,673.1 629.3,678.5 600.8,680.6 620.2,674 625.2,676.6 605.3,673.9 631.2,681.8 595,683.2 619.1,671.3 624,672 630.4,679.3 607.8,675.2 630.6,673.5 627.7,673 601.7,678.2 606.9,672.3 604.4,673.4 616.4,678.7 616.9,675.7 622.9,677.7 618,671.5 600.4,673.9 611.2,677.1 628.6,681.7 603.2,679.5 630.3,676.4 629.7,675.8 617.4,678.9 614.8,679.8 618.5,676.2 602.9,676.2 620.1,674.5 630.8,676.3 602.9,674.4 608.9,679.7 601,680 611.3,677.1 602.3,675.3 625.9,675.9 619.2,680.5 606.1,676.2 629.7,671.4 615.9,673.1 595.5,680.4 598.5,679.3 602,678.8 624.2,673.3 613.8,672.9 617.3,674.2 613.1,677 631.8,675.8 597.2,685.5 622.7,686.2 628.6,684.1 627,686.1 607.2,688 607.2,688.5 623.3,684.6 608.4,686.1 600.2,689 605,682.1 604.4,686.8 602.9,687.8 631.9,682.1 607.6,681.2 621.8,683.5 603.6,681.6 596.6,688.4 600.3,682.7 617.8,687.3 597.4,687.7 601.9,682.2 626.8,687.1 601.2,683.1 625.3,684.4 621.1,685.6 608.6,688.9 607.4,683.3 596.9,686 625.6,684 597.3,688.4 607.6,682.2 615.9,688.2 606.6,687.4 614.4,686.3 594.3,685.7 609.8,681.8 596.9,688.8 607.8,688.3 615.3,688.4 614,684.7 617.7,680.3 614.3,681.6 599.2,686.2 601.9,685.3 596.5,685.4 615.6,682.4 599.1,682.9 619.1,686.1 626.8,688.7 596.6,687.1 622.7,683.8 621.9,683.9 605.2,684.8 631.3,687.8 622.2,682.2 610.6,684.6 607.1,682 605.3,689.1 606.7,682 604.9,685.6 598.4,684.6 607.9,685.1 626.2,681.9 610.2,680.5 626.7,685.1 626.2,689.2 613.8,681.4 596.8,685.7 595.5,687 627.3,687.5 618.3,718 629.1,717.1 597.2,717.3 615,718.3 612,716.3 604.3,718.2 614.5,717 627.6,718.1 627.4,716.8 612.4,717.9 613.1,715.9 630.3,716.4 634.7,717.6 625.2,717 595.6,715.8 614.2,717.3 596.9,715.9 600,715.7 633.1,716.3 630.9,717 624.5,716.7 597.3,717.4 620.5,718 594.5,716.1 610.1,716.2 628.5,716.3 602.1,717.5 634.9,716.2 626.1,718.8 600.5,715.9 596.9,715.6 637.2,716.1 634.2,717.4 631.9,716.2 617.7,718.8 635.8,716.6 619.7,718 606.4,717.3 608.8,716.2 635.2,716.6 626.6,716.8 609.1,717.8 604.9,716.5 608.4,719.6 605.9,717 615.2,717.9 608.7,717.9 616.1,716.2 603.8,717 607,716 615.4,717 603.9,716 616.9,717 611.1,716.3 617.9,716.6 606.8,715.2 611.3,717.5 620,717.4 607.9,716.5 609.5,717.1 609.7,717.5 617,716.6 604.3,717.3 621.4,716.1 623.7,719 617.8,717.8 605.1,717.2 608.3,716.3 606.5,716.6 612.3,717.5 610.5,718.7 614.7,715.4 607.4,718.2 613.5,718.2 609.7,717 681.7,663.6 696.6,653.9 700.7,650.4 704.7,648.1 716.7,647.5 694.9,661.3 697.2,668.2 692.6,675.1 682.3,677.4 688,679.7 691.5,677.4 814.3,679.5 817.2,687.7 818.9,694.6 822.9,669.1 830.7,665.3 840.7,662.8 851,661.3 852.2,663 860.2,664.8 863.6,667.1 867.1,666.5 870.5,665.3 862.5,668.8 870.5,680.3 825.8,698 884.3,715.3 877.4,716.4 875.1,714.1 768.9,677.4 778.7,716.4 773,702.1 682.3,717.6 686.9,721 684.6,725.6 681.1,730.2 702.1,651.1 696.1,653.5 699.6,651.1 699.2,654 719.7,654.8 705.9,648.9 707.8,647 700.5,649.3 719.2,650.1 708.7,649.6 714.4,648 698.2,650.9 708.4,647.9 698,654.7 700,652.7 716.1,648.3 699.7,648.8 716.6,653.6 702.2,653.7 706.5,648.1 705.5,653.5 706.9,649.6 718.5,654.1 698.4,651.3 708.7,653.6 711.3,652.6 718,651.4 709.6,653.6 695.5,654.6 698.5,653.9 719.6,648.9 695.3,652.8 708.2,647.8 715,650.9 703.7,650.6 701.8,653.3 700.1,648.2 713.2,652.6 704,648.6 718.5,653.8 695.9,654.1 705.1,651.9 799.4,642.2 801.5,664.7 798.6,646.1 805.1,642.7 802.2,671.5 805,642 799.5,666.3 807.2,655 806,667.8 801.4,674.2 808.3,643 799.1,643 800.7,640.4 800.7,682.9 798.9,679 807.9,655.4 807.2,676.7 803.8,639.6 802,657.6 809,664.3 807.4,641 804,633.7 799.1,682.2 801.2,645.9 806.9,634.8 808.3,657.5 805.6,673.5 801.4,663.3 802.7,680.6 804.4,674.6 800.4,666.2 799.8,644 798.9,682.5 801.3,676.8 803.4,676.7 808.5,651.2 800.9,682.3 804.1,647 803.7,636.4 800.2,641.5 803.8,648.8 798.7,665.4 802.8,666.2 799.3,645.1 799.8,664.6 802.6,671.7 800.8,637 806.7,641.2 805.7,642.4 807.4,668.1 806,664.4 807.6,679 807.6,669.2 799.8,679.4 801.5,657 807.3,640.5 807.6,660.9 801.1,634.4 806.4,676.7 801.7,684.1 807.4,670.9 803.9,678 803,659.8 804.1,664.6 808.2,660.1 805.4,646.8 801.4,658.2 805.8,679.5 805.9,669.4 806.5,674.1 802.1,673.8 801.2,662.5 799.9,644.2 798.8,656.1 802.1,647.3 808.1,646.5 798.8,677.5 804.8,683.4 802.4,656.5 802.8,637.2 808.3,661.1 806.9,658.3 808.2,643.6 801.8,647.9 800.8,639 808.1,656.6 806.3,683.2 804.4,681.7 804.5,683 808,681.2 803.7,680.9 800.9,678.4 798.8,681.4 800,657.8 800.6,641.8 803.8,649.5 803.6,672.2 804,678.6 804.4,635.7 799.7,670.2 804.5,639.7 806.3,657 804.3,657.5 803.9,640 807.3,647.4 804.3,668.2 800.1,638.1 798.9,657.8 808.1,675.1 799.1,644.2 802.6,633.4 806.5,655.1 805.2,640.3 802.2,669.1 801.1,658.6 804.8,680.1 806.3,673.4 798.9,674.8 798.5,658.9 799.1,659.3 802.1,669.6 807.6,637.6 799.9,682.1 803.1,680.7 806.1,645.7 804.7,682.8 805.5,637.2 807.2,633.7 804.7,680.4 804.6,678.4 805.9,643.2 803.6,639.2 806.4,656 803.1,647.3 804,670.7 808.3,671.8 804.9,645.8 800.7,644 807.4,672.1 799.7,638.4 805.9,639.7 800,656.5 805.8,662 807.4,668.6 799.1,640.6 805.1,649.1 801.3,638.1 805.7,666.6 801.9,650.8 805.2,638.2 807.5,678.6 804.9,633.5 803.4,656.7 807.2,639.2 803.5,673.9 808.2,658.2 800.5,673.7 800.8,669.5 800.3,650.5 801.4,647.7 802.7,672.9 802.8,681.5 804.3,667.6 807.8,636.8 806.2,648 799.4,656.5 807.7,679 875.1,657.3 875,660.9 879.5,650.5 878.8,661.2 878,653.2 875.2,659.1 876.4,646.7 877.2,664.3 876.7,662.8 877.4,669.8 878.8,669.8 876.5,665.9 875.8,651 876.7,666.5 877.3,662.8 876.6,664.9 879.1,662.6 879.7,672.2 878.5,656.6 876.4,645.4 877.3,661.7 876.7,661.4 876.1,647.4 875.1,668.9 875.1,649.5 877.7,659.7 880,659.1 877.4,660.6 877.4,665.9 875.5,658.8 876.2,667.4 879.4,665.2 892.3,647.5 889.8,656.3 890.3,645.6 889,655.5 890.4,655.2 890.6,656.1 896.6,648.5 888.7,647.7 891.5,650 892.7,657.4 897.1,646.1 892.1,657.3 892.1,647.1 896.1,647.4 897,654.9 897.5,656.8 899.5,654.9 893.5,649.6 899.5,647 895.9,646.7 899.8,649.8 890.8,649.3 898.4,651.6 899.4,643.2 900.3,652.7 897.8,643.5 896.4,647.5 898.6,644.6 895.6,655.9 893.4,649.1 898,655.1 897.7,654 900.4,649.6 902.1,656.1 900,654.7 899.7,649.7 901.3,654.4 890.3,656.2 831.7,722.8 834.5,719.3 814.9,723.9 838.4,720 818.5,732 833.1,737.1 856,727.1 814.8,720.8 821.8,727.4 844.4,730.4 841,735.3 826.7,730.2 837.7,735.5 834.4,728.4 836.3,722.9 832.9,732.3 821.3,738.6 851.2,726.2 821.7,728.4 850.1,732.3 812.6,732.4 828.9,739 824.4,731.5 817.3,739.2 841.2,724.5 825.5,720.8 851.6,729 831.4,737 848.1,725.8 835.1,724.1 844.7,731 833.1,727 825.2,734.1 844.7,722 840.2,721.9 817.3,733 831.1,724.1 831.2,732.6 822.9,743.7 853.8,730.5 834.9,736.9 820.7,726.8 829.9,738.8 823.1,734.9 833,722.8 860,724.8 838.3,735 841.4,726.7 851.8,724.1 853.8,722.3 832.1,727.7 819.9,743 839.7,732.9 836.1,720.8 832.1,719 815.9,722 822.8,739.9 854.3,720.8 852.9,724 845.8,727.6 852.2,730.8 839.5,722.4 813.4,725.3 818.4,730.2 859.7,724.6 842.3,734 815.5,728.7 823.8,742.1 838.2,733.8 812.4,731.7 822.4,725.6 838.4,721.1 838.1,735.8 842.1,734.9 837,725.1 841.2,730.7 836.4,739.9 822.2,726.7 817.6,738.2 817.4,743 831.1,723.8 828.1,727.1 851.8,720.3 843.5,733.7 815.3,726.9 829,740.7 857.3,727.3 835.3,719.5 823.6,733.2 828.8,727 815.9,732.8 819.4,741.4 820,738.1 845.6,726.8 828.2,722.1 818.4,723.7 831.5,744.3 823.3,724.6 834.9,722.9 833.8,721.6 822.4,730.2 833.5,721.8 850.3,719.9 825.5,729 838.6,727.6 836.5,725.6 840.5,729.4 858.2,730.8 848.5,726.6 837.2,720.6 851,724.6 854.7,723.6 823.7,735.9 825.5,733.8 847.4,721.7 840.3,723.5 825.9,731.3 838.7,726.7 821.9,746.4 859.8,724 841.3,728.1 844.1,724.6 830.3,736.5 849.7,728.5 825.4,725.1 844,732.3 854.3,721.6 815.2,739.4 856.3,728.4 836.5,731.9 830.9,736.5 839.8,737.6 856,730.2 819.1,738.4 854.4,729 835.7,725.8 857.6,731.7 820,727.6 820.6,746.1 821.7,724.3 856.4,725.7 838.4,738.4 817.1,725.2 815.7,741.6 838.2,721.2 820.2,734.3 850.5,724.4 849.3,722 845,731.9 829.8,720.7 854.4,730.6 842.8,728.1 830.9,729.8 815.1,732.7 835.5,730.3 856.7,726.2 814.8,733.1 828.9,737.5 830.4,722.8 827.6,727 816.1,728.6 831,731.3 845.5,718.9 836.1,736.5 847.2,719 828,735.1 839.1,721.8 812.4,722.4 826.2,746.9 843.1,721.4 837.8,737.5 854.1,724.1 831.2,730.4 844,719.6 824,735.1 822.4,731.9 856.6,720.1 821.7,745 858.5,729.1 845.5,721.6 831.1,731.8 833.7,731.6 814.8,731 828.1,720 841.7,736.1 827.9,737.9 846.2,729.2 813.6,727.3 822.6,730.1 824.4,732.6 830.7,722.6 830.4,740.2 838.4,720.9 835.3,726.2 833.8,720.8 821.7,737.8 850.4,722.9 842,722.8 824.6,729.5 817.8,731.2 829.7,731.5 835.8,739.2 841.4,731.1 824.9,725.3 818.9,725 813,725.6 818.8,720.5 837.8,725.5 817.9,737.3 825.3,741.6 816.7,723.4 829.6,722.8 857.6,725.4 825.4,731.4 834.2,731.1 827.4,730.2 845,723 840,719.1 826.2,735.3 852.8,720 848.3,725.7 828.4,721.6 832.8,723.6 814.6,724 818.8,733.7 828.3,739 846.5,720.7 848.9,732 849.8,722.3 815.3,738.1 832.6,743.2 821.2,737 824.7,723.7 833.1,720.2 848.3,728.7 823.8,731.4 814.5,721.7 857,730.3 844.6,719.4 829.1,724.6 835.2,729 818,731.5 860,724.7 856.5,721.2 856.3,719.5 848.5,730 813.3,734.6 817.5,726.3 821.4,740.5 829.5,720.2 833.7,721.5 818.6,735.1 830.7,731.3 820.6,743.4 823.8,734.6 859.9,727.5 815,739 836.4,735.9 829.6,732.9 829.8,728 837.6,727.3 824.5,739.2 850.7,721.8 848,730.8 830.4,744.3 828.2,736.6 818,726.6 819,739 818,728.9 834.6,733.7 851.8,727.8 828.3,738.4 829.1,733.8 855.8,728.3 815.5,735.7 839.5,720.5 835.5,729.6 818.4,733.2 818.2,730.2 836,739.6 823.3,737.3 840.6,720 811.8,721 844.7,719.7 812.9,729.8 813.4,733.7 818.6,734.9 814.6,737.3 848.8,729.1 826.1,741.2 817.5,728.8 825.4,725.8 819.3,731 821,735.4 824,729.7 819.2,727.1 844.1,734.5 845.4,725.8 847.5,728.4 848.8,724.3 841.3,737.3 841.2,735.7 821.8,719.8 839.7,728.1 816.4,723.1 820.4,731.3 847.9,724.7 819.4,720.1 839.2,722.8 812.4,726.7 833.1,732.7 818.6,719.4 834.4,738.2 824.6,733.7 823.8,737.9 837.5,723 851.5,719.4 819.7,723.9 838.5,737.2 824.5,733.7 827.4,737 826.4,718.7 855.9,731.6 839.4,734 818.1,727.7 816.3,737.7 855,720.6 819.9,741.3 818.8,721.3 839.5,729.4 847.8,719.9 859.6,726.2 813.5,725.7 827.6,730.3 838.6,724.8 842.5,727.4 847.3,730.4 840.8,723.5 847.9,726.4 848.7,733.3 858.4,728 824.9,731.5 844.3,723.7 840.7,732.8 816.6,737 832.9,733.4 833.6,731.3 851.5,723.4 847.9,725.5 827.4,722.2 820.3,723.5 819.6,720.8 833.8,727.9 818.7,719.3 846.3,728.8 827.2,736.7 839.2,731.6 835.4,736 829.3,720.1 859.7,719.2 822,733.1 822.1,721.7 835.7,738.4 836.8,721.8 830.9,719.1 776.8,679.7 768.8,678.5 772.4,681.7 782.8,675 780.4,674.3 777.9,679.1 780,676.4 773.2,676.8 773.7,674.1 783.7,677.3 781.6,675.9 778,677.1 783.9,679 781.9,677.3 770.6,679.9 776.2,678.4 781.5,676.2 779.8,676 772.1,674 772.1,674.9 781.5,679.7 781.5,678.3 775.5,678.7 767.1,677.9 772.4,681.9 769.1,680.3 780.3,673.5 877.1,647.4 877.1,650.8 877.1,654.8 877.1,661.1 877.7,673.1 882.3,663.4 880,666.8 870.9,680 866.9,665.7 870.3,665.1 863.4,666.8 861.1,665.1 873.7,714.8 877.1,716.5 884,715 906.8,711.4 912.5,711.4 924,677.1 927.4,681.7 930.8,689.7 933.1,693.1 891.7,652.5 890,651.9 888.7,654.2 891.7,656.7 900.1,656.2 887.7,657.4 893.1,648.4 890.9,649.7 901.3,653.7 894.1,649.9 894,648.2 895.1,658.3 889.1,646.4 897.9,658.8 892,654.8 895.4,647.1 891.5,649.8 893,657.2 902.2,651 894.4,648.2 893.8,657.9 898.4,648.4 891.9,644.2 888.4,651.3 897.3,648.7 894.1,642.4 895.9,651.7 893.4,655.2 893.4,653.1 901.3,650.3 894.4,643.1 891.7,651.3 889.5,658.5 894.4,648.1 890.7,656.8 898.9,647 899.4,648.9 894.7,645.9 899.1,649.4 891.9,655.9 888.3,652.8 898.1,644.6 891.3,657.7 896.6,654.6 893.6,651.6 919,705.2 924.8,703.1 939.9,701.4 933.8,701.7 939,701.5 934.5,703.4 918.4,703.5 918.8,700 919.9,701.3 924.9,703 916.7,703.8 938.2,700.5 933.8,701.6 939.3,701.5 917.6,702.3 937.8,703.7 934.5,702 936.6,702.1 924.7,701 917.5,702 930.9,700.7 919.4,702.3 926.6,704.2 917.7,702 916.9,699.9 925.9,702.8 933.9,701.9 933.7,701.9 938,700.3 935.7,701.6 916.1,699.7 919.4,704.5 928.4,702.4 927.6,700.5 925.8,704 921.7,701.9 931,700.8 914.8,703.1 938,702.5 924.3,700.9 924.7,704 922.8,700.4 916,701.8 919.6,699.2 928.2,702 933.1,702.5 927.2,701 932.3,702.4 917.2,702.3 939.5,702 933.3,702.2 931.4,700.9 922.4,702.3 919.6,699.9 916,701.2 916.6,700.9 926.8,701.7 918.8,704.1 928.3,701.8 927.4,701.9 937.3,675.3 941.3,687.9 935.7,678.7 937.5,680.8 929.2,680 938.1,674.4 936.8,686.1 944.6,668.9 939.4,684.3 945.3,679.4 937,688.1 929.4,688.1 943.6,679.9 939.2,671.7 935.6,678.8 946,683.8 931.4,673.3 931.2,676.5 946.1,684.4 947.6,670.1 941,677 947.4,668 937.6,684 944.3,687.8 941.1,674.6 937,673.5 940.7,673.6 932.8,671.3 930.2,684.9 937.4,673.7 930.5,683.1 932.7,672 942.6,671.1 937.4,672.6 934.4,680.2 929.9,682.1 942.5,688.2 944.9,672.1 943.9,678.9 941.8,684.6 934.6,670.2 941.6,682.2 944.9,678.8 943.2,673 942,677.3 947.6,677.2 934.3,678.5 943.1,682.1 934,680.1 937.5,673.4 929,681.3 934.1,676 938.6,687.6 947,668 931.4,684.6 946.8,672.4 932.8,680.6 945.7,673.1 932.1,678.2 931.3,677.9 942.7,672.8 932.9,678.2 929.8,675.2 940.3,672.5 932.9,685.7 928.5,675 932.4,685.5 929,684 931,685.2 945.6,679.5 939.3,686.5 933,679.6 944.6,673.9 943.6,684.5 944,679.1 931.7,684.9 943.2,682.2 937.6,679.3 946.8,678.6 930.4,677.6 940.1,688 939.3,668.9 946.9,673 945.4,679.3 942.4,669 941,687.6 942.2,681.7 943.2,684.7 932.4,679.6 938.7,677.2 943.1,684.4 939.8,687.2 945.8,677.4 932.9,677.1 946.9,678.6 933.3,677.1 938.6,676.5 930.1,679.2 946.5,672.1 934.5,676.4 941.9,684 932.3,673.9 938.1,669.8 946.3,683 932.7,676.4 946.5,675.3 936.2,682.4 960.9,658.6 961.6,651.9 959.3,654.6 960.2,656.5 962.5,666.6 962.6,665.1 960.3,657.5 958.9,656.9 960.7,655.3 962.2,649.7 958.9,663.6 961.7,652.3 961.7,662.1 958,659.6 960.4,667.3 959.6,656.5 961.7,667.7 961.6,658.7 959.7,658.7 958.7,660.5 969.9,673 968.3,668.5 966.9,670.6 967.9,672.6 969.6,668.3 967.1,673.2 968.2,673.3 966.4,666.5 964.5,740 964.9,741.4 963.1,734.2 962.4,737.1 963.6,735.6 964.8,739.3 963,733.2 963,741.7 963.9,744.8 962.7,742.8 963.7,740.2 964.1,729.8 963.8,740.9 964.9,746.1 964.4,743.5 964.9,737.9 964.8,745 964.8,735.2 964.9,734.4 964,745.5 963.8,734.9 965.1,731.8 964.4,737.2 963.9,739.5 963.7,736.5 963.6,735.2 963,734.2 965.2,744.5 964.8,738.8 965.4,734.4 964.4,740.9 963.6,741.4 963.5,736.4 964.7,741.7 965.5,743.7 963.9,739.6 962.2,731.4 964.3,730.8 965.3,739.8 963.3,737.8 601.7,772.4 600.9,760.3 601.1,759.7 600.4,765.4 600.2,755.9 600.7,764.1 600.9,770.4 600,769.7 601.3,764.6 600.4,767.6 600.2,770.8 601.4,766.1 600.9,768.9 602.1,767.5 600.9,760.7 601.2,759.3 600.5,756.6 601.1,758.5 601,756 600.7,770.6 602.1,757.1 600.5,762.1 601.8,768.2 601.4,757.2 602,757.1 602.1,761.2 601,760 601,764 601.4,757.8 600.4,769.8 853.8,731.1 857.2,731.7 859.5,730.6 507.4,691.9 507.6,688.4 508.6,693.1 509.3,690 509.6,691.4 509.9,690.8 511.3,691.2 510.5,692.7 512.2,690.1 512.3,693.4 513,687.5 513.3,694.8 513.6,685.7 513.4,693.5 515,685.8 515.2,693.8 515.8,688.3 515.4,694.1 517.4,686.3 516.6,694.5 517.4,686.7 518.2,695.8 518.4,686.9 518.9,697.5 519.5,685.7 519.9,698 520.9,687.5 521.3,698.2 521.6,685.9 522.3,699.1 522.5,686.8 522.9,699.7 523.8,688.3 523.7,702.3 525.1,687 525.2,706.3 526.1,688.9 526.1,706.7 526.8,688.2 526.8,705.5 527.4,686.4 527.6,704 528.6,686.3 528.7,698.6 530.3,685.9 530.3,696.6 530.5,686.6 530.5,696.8 531.8,686.4 531.7,693.9 533.2,687 532.6,697.4 533.6,687.5 534.4,696.3 534.9,688.4 534.5,698.1 536,687.9 535.6,696.8 536.4,687.9 536.7,695.8 537.7,687.8 538.1,695 538.9,686.8 538.4,695.4 540.3,688.1 539.5,696.1 541.2,686 540.9,697.8 542,685.1 542.1,696.4 542.9,685 542.8,696.1 543.5,683.3 543.8,694.9 545.1,682.1 544.6,695.6 545.8,680.9 545.4,696.7 547.2,683.2 546.9,695.9 547.8,681.5 547.4,696.8 548.5,680.4 549.3,696.1 549.8,681.2 549.5,695.7 551.2,681.5 551.1,697 551.8,682.7 552.3,696.3 552.6,683.4 552.7,696.1 553.7,680.9 553.8,696.4 554.6,680.4 555.1,698 555.5,678.9 555.6,697 556.6,679.8 556.7,697.9 558.2,683 557.4,698.7 558.6,683.4 558.8,698.6 560.3,684.6 559.4,697 561.2,686.6 560.7,696.8 561.4,689.7 561.9,696.8 562.7,688 562.6,696.6 563.9,686.6 564.2,696 565.2,686.5 565,696 566,685.3 565.7,696.7 567.2,684.8 567,695.7 568.2,688.8 568.1,693.6 568.4,687.1 569.2,692.8 569.6,686 570,694.4 571,682.7 571.2,694.6 571.4,682.9 572.3,692.7 573,683.1 572.9,691.9 573.9,684.3 573.9,690.2 574.6,686 575.1,688.7 576,687.2 575.9,690.4 576.5,687.3 576.5,690.9 577.9,688.6 577.7,687.5 579.3,686.4 578.5,688.8 580,687.3 580.3,688.4 580.9,686 580.7,687.8 582,688.1 582.2,686.3 583.1,687.7 582.4,686.8 584.3,688.9 583.6,685.8 565.4,703.9 565.7,716.2 566.3,703.8 566.2,721.7 567.6,701.2 566.8,728.2 568.7,702.1 568.6,728 569.6,699.4 569.4,731.7 570.2,701.1 570.1,733.5 571.1,697.3 571,734.6 572.5,697.5 572.4,733.7 572.9,697.5 573.6,736.9 573.8,699 574.7,739.9 574.8,697.6 575.3,741.3 576.7,700.7 576.1,741.9 576.9,699.6 577,742.5 578.5,697.9 578.1,743.9 579.3,698.4 579.6,745.2 580,698.3 579.9,745 580.9,702.7 581.1,746.7 582.5,702.2 582.6,746.1 583.4,702 583.1,747.3 584.1,703.5 584.7,748.3 585.3,703.2 585.7,749 586.6,701.6 586.8,747.9 587.4,703.2 587.4,749.8 588,704.1 588.6,750.3 589.7,705.7 589.7,750.6 590.2,706.2 589.9,749.1 591,707.3 591.4,750.4 592.1,710.1 592.4,750.3 593.7,713.3 593.6,751.5 594.5,714.6 594,753.5 595,717 595.6,754.2 596.2,719.9 596,752.9 597.1,723.6 597.5,741.1 598.4,724.9 598.1,732 566.3,703.7 566.5,705.2 567.2,706.7 565.8,708.2 565.7,709.7 565.8,711.2 565.9,712.7 565.8,714.2 567.1,715.7 566.6,717.2 566.1,718.7 597.1,724.8 598.2,726.3 597.7,727.8 597,729.3 596.6,730.8 597.2,732.3 536.4,726.3 536.2,726.1 537.5,727.1 537.9,724.7 538.8,726.8 538.6,727 539.5,727.4 539.2,726.3 540.7,726.6 540.9,726.6 541.9,725.6 541.8,723.7 542.7,725.5 542.8,724.4 543.7,725.1 543.1,722.8 544.8,725.3 544.1,724.2 545.5,723.1 545.9,724.3 546.7,722.6 546.2,724.7 547.1,725 547.1,723.2 548.4,723.3 548.3,724.3 549.3,722.9 549.9,724.3 550.4,723.7 550.7,722.1 551.2,722.2 551.8,721.9 552.6,721.9 552.7,722.7 553.5,722.4 554,723.4 554.8,722.9 554.3,723.5 555.6,722 555.3,721.6 556.9,721 556.2,722.4 557.9,719.4 557.5,721.6 558.7,719.5 558.7,721.5 559.9,721 559.5,719.1 561.1,720.9 560.8,720.1 561.3,720.4 561.9,719.2 562.7,720.5 562.2,719.4 563.8,723.5 563.5,720.5 564.7,721.3 565.1,718.6 536.8,725 564.2,720.3 669.9,714.2 669.9,737.9 671,713.7 670.7,737.5 671.4,715.7 671.4,736 672.3,715 672.5,738 673.2,715.3 673.5,735.6 675.1,717 674.6,736.1 675.9,717.6 675.5,736.1 676.4,717.4 676.7,735.5 677.5,715.9 678.1,735.9 678.8,718.5 678.7,735.3 679.3,716.4 679.6,735.2 680.6,717.3 680.3,735 681.7,715.5 681.7,733.2 682.6,715.9 683.1,721.4 683.5,712.2 683.5,713.7 684.4,711.7 684.7,713.6 686.1,712.1 685.5,714.3 686.5,710.4 686.5,713.9 687.3,709.8 688.2,712.9 688.4,710.9 688.5,712.9 690.1,713.1 690,712.4 691.2,709.2 690.9,711.2 691.8,708.2 692.1,709.3 692.6,706.7 693.2,709 693.8,690.8 693.3,708.3 694.8,689.4 694.7,708 695.7,690.3 696.2,707.9 696.9,689.7 696.3,705.5 698,689.9 697.6,708.7 698.3,689.9 698.5,709.5 699.7,690.3 700.1,709.6 671.4,712.7 671.4,714.2 670.5,715.7 671.4,717.2 671.5,718.7 670.8,720.2 671.2,721.7 671.1,723.2 670.4,724.7 669.8,726.2 670.5,727.7 669.9,729.2 669.9,730.7 670.1,732.2 671.4,733.7 670.8,735.2 669.9,736.7 670.9,738.2 698.2,689.6 699.2,691.1 698.7,692.6 698.7,694.1 698.7,695.6 698.4,697.1 698.3,698.6 698.1,700.1 699.6,701.6 699.4,703.1 698.6,704.6 698.8,706.1 698.2,707.6 697.9,709.1 692.2,682.5 692.6,679 693.9,681.7 693.4,681 695,678.8 694.5,680.5 695.5,677.5 695.9,678.9 696.7,678.8 696.4,682.2 697.7,680.6 697.3,682.6 698.7,680.5 698.3,681.1 699.3,673.2 699.8,683.1 700.6,669 701.1,684.1 701.6,663.7 701.8,682.9 703,658.7 702.5,682.5 703.9,659.6 703.3,682.9 704.7,658.4 704.7,683.1 705.9,657.8 705.2,681.6 706.2,657.4 706.9,680.9 708,656.7 707.6,684.5 708.6,656 708.3,685.1 709.8,656.9 710.1,685.7 710.5,658.3 710.7,685 711.5,657.6 712.1,686.1 713.1,660.3 712.5,686.5 714,655.3 713.3,687.7 714.6,656.4 714.2,687.3 716.1,658.7 715.4,686.1 716.4,660.4 716.2,686.4 718.1,662.7 717.7,685.3 718.2,665 718.2,687.8 719.2,667 720,688 720.1,670 720.4,686.3 721.7,674.2 721.2,684.9 722.2,679.3 722.4,684 693.5,680 722.5,679 722,680.5 721.7,682 721,683.5 679.6,711.7 679.6,712.5 681.4,711.6 680.7,712.5 681.9,710 682,711.7 683.2,710.7 682.9,712.9 683.9,711.5 683.6,711.2 685.2,710.4 684.6,712.9 685.8,710.9 685.7,712.7 686.9,710.4 686.5,711.2 688.5,712.7 687.8,712.1 689.4,711.9 689.2,709.9 689.8,711.9 690.1,709.4 691.1,714.2 691.2,712.9 691.5,713.8 692.3,713.5 692.7,713.8 693.2,711 693.9,695.8 694.4,711.6 695.1,694.2 694.8,710.4 696.5,694 695.6,711.4 697.4,695.1 696.8,712.4 697.9,693 698,713.7 699.3,694.9 698.6,713.8 700.4,710.8 699.7,713.3 701,711.3 700.6,713.2 702.1,710.3 702.4,712.5 703.2,711.8 703.5,712.8 704.4,710.8 703.9,712.8 705.3,713.3 704.8,711.3 706.2,711 705.8,711.8 706.8,711.9 706.7,710.6 707.9,713.5 708.1,711.8 709.1,713.5 709.4,713.4 710.1,714.6 710,714 710.8,712.5 710.6,712.4 711.9,713.8 711.6,711.2 713.4,714.2 713.2,711.6 714,713.9 713.6,711.6 714.6,714.9 715,711 716,713.8 715.6,710.7 717.5,713.2 716.9,712 680.8,709.4 681,710.9 681.9,712.4 726.6,674.7 726,675.1 727,673.4 727.8,674.1 728.6,673.3 728.1,673.7 729.8,674.5 729.8,673.5 730.1,674.7 730.7,674.9 731.1,676 731.7,675.8 732.9,677.9 732.8,676.9 733.8,679 733.4,675.9 734.6,677.6 734.1,676.6 735.4,676.4 735.3,678.8 736.4,677.9 736,678.3 737.6,678.4 737.2,676.2 738.2,678.2 738.7,675.8 739.4,678.8 739.5,677.6 741,677.1 740.5,675.5 741.7,677.7 741.2,679.7 742.4,676.1 742,677.8 743.2,677.3 743.1,679.6 744.9,677.9 744.8,681.3 745,677.1 745.8,680.4 746.1,677.7 746.2,679 747.9,678.6 747.6,679.9 748.8,678.6 748.3,681.2 749.2,678.8 750,682.8 750.9,680.8 750.4,684.6 751.1,682.2 751.4,682.9 752.9,683.2 752.5,684.1 753.1,684.1 753.4,683.3 754.5,683.8 754.2,684.3 755.8,687.8 755.4,681.7 756.4,687.6 756.1,682.8 757.7,685.4 757.6,686.7 758.8,686.6 758.3,688.2 759.9,687.8 759,689.8 760.6,688 760.6,690.3 761.6,689.3 761.3,688.9 762.4,688.5 762.3,688.5 763.1,689 763.7,686 764.2,691.4 764.9,690.9 765.9,692.3 765.8,690.7 766.7,694.2 766.2,692.7 767.3,693.9 767.6,692.5 768.4,691.5 768.4,694.2 769.4,692.5 769.4,695.6 770.8,695.5 770.8,694.5 771.8,694.5 771.4,697.6 772.5,697.1 772.4,697.7 773.1,695.9 773.2,697.7 774.2,696.5 774.2,698.8 727.6,673.6 726.6,675.1 773.7,696.3 773.6,697.8 719.8,701.8 720,707.6 721.6,702 720.8,709.8 722.6,700.9 721.9,709.6 723.3,700.6 723.2,710.6 724.5,700.8 723.7,714.7 725,700.7 725.5,715.5 726.5,700.5 726.6,717.9 727.2,697.7 727.2,716.8 728.3,695 727.7,717.5 728.7,693 729,716 729.9,690.5 730.3,717.9 730.8,692.5 731,718.1 732.2,693.1 732.2,716.1 733.3,691 733.6,717.8 733.9,690.9 733.8,713.9 734.7,693.8 734.8,715.3 736.4,693.7 735.8,713 737.6,691.9 737.5,713.7 738.6,691.9 737.9,713 739.6,692.8 739.4,713.8 739.8,694 739.8,711.3 741.3,693.9 741.3,710.1 741.7,695.8 741.8,710.7 743.2,695.7 743.6,709.8 743.9,696.7 744.1,709.1 745,696.4 745.4,708.2 746.2,700.7 746.2,707.5 747.5,697.8 746.7,708.5 748.6,698.5 748.4,708.1 721.7,701.5 721.4,703 721.3,704.5 720.8,706 722,707.5 747.2,698.3 748.1,699.8 746.8,701.3 746.2,702.8 747.4,704.3 747.1,705.8 747,707.3 702,729.2 701.9,728.2 703,728.7 702.9,728.6 703.6,730.5 704.1,731.7 704.7,732.4 704.4,731.1 705.8,730.7 706.3,733.8 706.4,731.8 706.6,735 707.6,731.6 707.9,735.4 709.3,730.5 709.2,736.2 710.1,730.2 710,734.5 711.1,729.5 710.9,730.7 711.9,731.1 711.6,734.9 713.2,726.9 713.2,737.1 713.6,726.7 713.4,735.1 714.9,726 714.9,736.3 716,726.3 716.1,733.2 717,726.7 716.7,733.3 717.4,725.2 718,732.1 719.2,726.7 718.8,731.2 720,726.7 719.4,727.2 720.3,723.9 721,727.4 721.5,725.8 722.1,727.3 722.6,720.6 723.1,725.9 723.5,722.3 723.8,725.9 725.2,721.4 725.2,724.8 726.1,721.1 725.9,722.7 726.3,721.1 726.6,721.4 727.6,720.9 728.2,720.3 729,719.8 729.2,717.5 730.3,717.3 729.6,717.5 702.7,727.5 703.7,729 703.8,730.5 729.6,716.4 766.1,688.5 766.1,712.2 767.5,687.7 767,712.7 767.7,685.7 767.8,711 768.6,684.5 768.7,712.6 770.2,684.5 769.7,712.9 771.2,682.3 771.2,712.3 772.3,681.8 772.4,710.6 772.9,682.8 773,713.5 773.8,685.6 774.6,713.9 775.4,684.5 775.4,715.5 775.8,684.2 776.3,714.6 776.8,683.4 776.8,711 778,682.4 778.4,712 779.2,682 779.2,711.4 779.7,681.9 780.3,713.1 781.3,680.1 780.8,712 781.9,680.6 782.3,712.6 783.3,681.9 783.1,713.4 784.4,681.8 784.3,712.6 784.6,683.8 784.9,711 785.6,683 786,713.8 787.4,684.3 787.1,713.7 788.4,685.6 788.2,712.9 789.1,682.7 789.6,714.5 790.2,681.5 790.5,715.5 790.6,684.3 791.1,716.6 791.8,681.5 791.9,719 792.9,684.2 793.4,719.1 794.4,684.2 793.6,719.3 795.2,683.5 795.6,720.5 796.4,686 796.2,722.2 796.6,683.9 796.6,723.3 798.5,683.9 797.7,725.6 799.2,685.2 799.2,733.7 799.8,685.6 800.5,743.9 801,687.1 800.8,747.9 801.8,688.8 802.1,748.6 803.1,689.7 803.2,748.7 804.3,688.5 804.4,746.8 805.2,689.7 804.7,747.4 806.2,689.4 806.4,745.9 807.3,691.7 807.3,744.8 807.7,693.2 808.5,743.3 809.2,695.9 809.1,739 809.8,695.6 810.3,737.4 811.6,697.9 811.4,733.6 812.3,698 812.1,731.8 813.6,697.4 813.3,730.4 813.9,698 814.2,725.4 815.3,700.4 815.1,727.1 816.1,698.9 816.2,725.5 817.3,699.3 817.5,723.7 818.2,700.7 818.4,721.4 819.4,703 818.7,720.4 819.8,703.9 819.8,719.1 821.4,704.9 820.6,719.3 821.7,705.1 821.8,718.9 822.8,704.6 823.4,718.6 824.4,705.9 823.7,718.5 825.5,705.2 824.7,716.8 826.5,706.1 825.8,717.9 826.8,708.6 826.8,719.2 827.6,705.9 827.6,718.1 829.4,707.5 828.6,717.5 830,705.6 830.3,716.3 830.7,706.7 830.7,715.5 832.4,705.8 831.8,713.7 833.5,703.8 832.8,717.4 834.6,703.6 834,715.8 834.6,706.5 834.6,718 836.4,706.1 836.1,715.8 837.1,706.2 837.5,717.8 837.8,705.6 838.3,717.8 839.5,705.7 838.7,716.6 840.3,704.8 839.9,716 840.9,704.9 841.4,715.5 841.6,702.2 842.4,716.8 842.6,700.6 842.7,718.3 844.3,700.1 844.3,718.4 845,696.6 845.6,718.3 845.6,696 846.6,718.6 846.7,695.9 846.7,717.9 848.1,695 848.3,718.4 848.8,692.5 849.4,718.3 850.3,690.7 850.4,719.1 850.8,689.6 851.6,716.8 852.2,688.7 851.9,716.9 852.6,688.3 853,713.9 854.3,689.8 854,713.5 855.3,690.5 854.9,714.8 856.2,689.6 855.7,714.6 857.1,688.3 857,713.9 857.7,689.3 858,714.1 858.8,686.2 859.4,712.9 859.6,686.8 860.6,713.6 860.7,686 860.6,713 862.4,686.1 862.3,712 862.6,686.8 863.3,712.9 864.5,686.6 863.6,712.5 865.4,689.3 865.2,713.7 865.7,689.7 866.3,712.6 867.2,686 866.8,712.8 868.2,685.6 867.7,711.5 869.3,686.2 868.7,711.9 870.4,689 870,712.6 871.2,689.5 871.1,710.2 871.7,689.4 872.2,712 872.8,686.7 873.5,711.4 874.2,685.5 873.9,710.1 874.6,684.5 875.3,711 876.3,683.3 876,711 877.1,681.4 877.3,712.1 878.2,681.1 878.5,712.9 879.5,681.6 878.6,713 880.4,681 880.1,712.2 881,678.5 881.3,710.6 882.3,676.3 882.2,710.5 883.3,675.7 882.8,710.4 884.3,672.9 884,708.7 885.5,671 885.3,707.1 885.7,669.4 886.2,704.4 886.9,667.5 887.4,708.9 888.3,667.7 888.5,709.6 888.8,666.2 889.1,711.7 890,668.7 889.7,710.4 890.7,664.3 891.5,710.1 892,664.3 892,706.9 893.5,662 892.7,707.4 893.6,662 894.1,707.9 895.3,661.3 895.6,707.7 895.6,660.4 896,709.6 897.4,658.6 897.2,707.7 898.2,660.1 898.4,708.2 899.5,659.4 898.7,709.3 899.8,659 900.5,710 901,659.6 901.4,712.1 902.2,659.8 901.6,712.1 903.3,659.5 902.9,710.7 903.6,659.5 904.1,712.4 905.6,661.9 905,710.8 905.7,664.6 906.5,708.6 906.9,667.4 907.4,704.9 907.9,669.4 908.5,707.4 909.3,672.6 909.2,704.3 768,687.5 767.4,689 766.9,690.5 767.4,692 766.1,693.5 767,695 767.9,696.5 766.1,698 767.2,699.5 767,701 766.2,702.5 766.5,704 766.6,705.5 767.4,707 766.3,708.5 766.9,710 767.7,711.5 766.4,713 907.3,671.9 909.1,673.4 908,674.9 909,676.4 907.9,677.9 908.5,679.4 908.2,680.9 908.1,682.4 907.9,683.9 908.3,685.4 908.7,686.9 908.2,688.4 907.4,689.9 907.3,691.4 908.8,692.9 908.2,694.4 908,695.9 907.7,697.4 907.7,698.9 908.3,700.4 908.4,701.9 908.3,703.4 907.3,704.9 908.9,706.4 907.5,707.9 832.4,692.4 832.6,689.2 833.3,691.8 833.2,688.6 835.1,691 834.6,687.8 835.7,690.2 835.8,688.4 836.2,692.1 836.6,689.4 837.6,691.2 837.3,688.1 839.1,692.3 838.8,688.5 839.8,691.3 840.1,688.9 840.7,690.5 840.4,690.9 841.6,687.8 841.5,689.9 842.5,687.8 842.9,690 843.4,689.3 844,691.9 844.3,689.4 844.7,691.7 846.1,689.5 846.1,690.3 844.4,689.3 844.4,690.8 845.3,692.3 860.4,685.1 859.6,709 860.7,684.7 860.7,710 861.8,684.6 862.2,708.1 863.1,684.8 862.8,709.4 863.8,685.4 864.1,709 865.1,684.5 864.8,710.4 865.8,686.9 865.6,709.5 866.7,684.2 867.2,711.6 867.7,684.7 868.2,709.6 869.1,686.9 868.5,710.5 869.9,686.7 870.2,710.4 870.8,689.5 871.1,709.4 872.2,687.9 872.1,707.3 873.4,688.7 872.6,705.9 873.7,685.3 874,707.2 874.8,686 874.7,710.3 875.6,686.7 876.1,709.3 876.8,682.9 876.8,708.3 878.1,680.3 878.2,705.1 878.9,678 878.9,708 879.8,676.4 879.6,705.1 880.7,674.7 880.8,709.7 881.6,675.8 881.9,707.9 882.9,674 882.6,705.9 884.5,672 884,706.6 885.1,669.7 885.2,706.9 886.5,669.5 886.1,707.7 887.4,666.2 887.5,709 888.3,662.8 887.7,708.3 889.2,662.3 889.3,709.2 890.4,658.8 889.7,709.4 890.6,660.5 891.2,709.6 891.5,658.1 891.7,709.9 893.1,655.9 893,709.5 894.2,656.5 894.4,710 895.1,659.7 894.9,709.9 896.1,660.6 896.5,708.1 896.7,662.3 896.5,710 898.2,660.7 898.2,711.3 898.8,660.6 898.8,711.1 899.5,663.2 900.3,711.6 900.6,665.3 901.2,710.8 902.5,670.1 901.9,710.7 902.9,672.5 902.5,710.2 903.7,671.5 904.3,710.8 905.3,675 904.5,711.1 906.2,676.8 905.8,708.4 906.6,677.1 906.6,708.6 908.5,678.3 908.4,707.5 909.1,678 908.6,704.8 910.2,683.6 910,703.8 910.8,685.1 911.4,703.3 912,687 912.3,701.1 912.6,684.5 913.3,701.8 914.5,684.7 914,700.4 914.9,686 914.6,699.8 916.3,686.3 915.8,698.9 916.7,687.9 916.9,697.1 918.4,689.9 918.1,697.7 919.5,688.4 918.9,697 919.8,688.3 919.6,698 921.3,685.3 921.2,694.4 921.9,684.7 922.4,695.5 923.3,685.1 923.1,695.7 923.7,687.9 924.5,693 925.4,687.5 925.3,691.4 861.3,684.2 860.3,685.7 860.5,687.2 860.2,688.7 861.2,690.2 860.7,691.7 861.8,693.2 861.3,694.7 861.7,696.2 860.7,697.7 861,699.2 860.9,700.7 861.7,702.2 861.8,703.7 860.4,705.2 861.5,706.7 861.2,708.2 860.5,709.7 924.5,687.3 924.8,688.8 924.3,690.3 924.3,691.8 923.3,693.3 915,704.3 915.1,706.3 916.2,703.3 915.4,708.1 916.5,704.2 916.9,708.3 917.5,703.5 917.6,707.5 918.9,703.1 918.5,709.2 919.5,703.5 919.5,709 920.9,704.3 920.7,708.8 921.6,704.2 922.2,709.3 923,703.8 922.7,709.2 923.9,706.1 924.2,709.2 925.2,706.5 925.2,711.3 926,703 925.6,711.5 927.2,702.3 926.8,712.1 927.7,702.7 927.3,713 928.4,703.4 929.2,713.3 929.4,700.8 929.8,712.8 930.5,697.4 930.4,712.2 931.4,695.3 932.1,712.5 932.6,692.7 932.5,709.7 933.6,689.6 934.2,713.1 935.1,690.5 934.7,714.2 935.5,689.3 935.5,712.7 936.4,689.2 936.7,714.1 937.8,688.3 938.2,713.4 939.2,689.6 939.1,712 940.1,688.7 940.3,712.5 940.8,685.7 940.6,712.9 941.9,683.3 942.3,711.3 942.9,681.2 943.2,712.5 943.7,679.2 943.4,712.4 944.4,677.6 944.6,714.1 945.8,673.7 946.2,713.2 947.2,660.7 946.7,713.5 947.6,653.3 947.9,714.2 948.5,655.2 948.9,714.1 950,656 949.7,716.7 950.7,655.7 951.3,718.8 951.6,656.3 951.9,719.4 952.8,676.4 952.9,724 953.6,679.6 954.1,726.3 955,678.1 955.2,725.9 956.3,676.5 955.7,729.8 956.9,670.6 957.2,729.9 958.3,672.7 958.3,731.2 959.3,673.3 958.9,731.5 959.9,671 960,731.7 961,673.2 961.3,731.4 961.8,676.5 961.9,732 962.8,677.2 963.2,730.2 963.6,679.7 963.9,733.6 964.6,672.4 964.6,734.8 965.5,671.1 965.5,734.4 966.9,671 966.7,731.2 968.1,670.6 967.5,730.7 968.6,669.7 969,730.2 969.4,670.3 969.9,729.2 970.8,676.6 970.5,725.9 972.1,675.8 971.9,722.2 972.5,682.6 973.1,719.3 973.4,694.8 973.6,712.2 975,700.6 975.2,711.7 975.5,700.2 975.7,708.8 977.1,700.9 976.7,709.5 977.9,701 977.7,708.2 979.2,701.1 978.5,710.8 979.5,702.3 980.1,708.4 981.2,703.3 980.8,704.2 915.9,703.1 915.1,704.6 916.1,706.1 915.8,707.6 979,701 979,702.5 979.1,704 980.4,705.5 980.8,707 544.2,740.3 544.5,743.9 545.1,742.2 545.1,741.5 546.7,742.5 546.5,745 548.1,742.7 547.7,746.8 548.7,742.6 548.6,746.1 550,742.2 549.2,745.9 550.9,741.7 550.7,746.1 551.8,740.9 551.5,745.9 552.8,740.6 552.3,748.7 553.7,741.6 553.6,748.7 554.9,740.7 554.9,749.6 555.3,740.6 555.9,749.9 556.6,741.4 556.1,749.1 558.1,741.6 557.3,747.9 558.2,742.5 558.8,744.2 559.9,742.8 559.4,743.5 560.5,741.5 560.2,745.7 561.7,741 561.5,745.6 562.9,740.1 562.8,744.7 563.4,740.7 563.6,744.4 565.1,741.1 564.6,744.9 565.6,741.5 565.2,743 566.4,741.6 566.2,744.6 567.7,740.9 567.8,745.3 568.4,742.2 568.6,744.5 569.7,741.8 569.8,744.4 570.4,742 570.7,742.7 572.1,742.5 571.1,742 572.3,741.6 572.3,743.7 573.1,740.8 573.7,743.1 574.4,741.7 574.5,744.5 575.8,741.2 575.8,744.6 576.4,741.9 577,744.2 577.8,743.6 577.8,743.4 578.4,741.6 578.4,743.9 580.1,740.8 579.8,746.7 581.1,742.6 580.9,747.4 581.6,741 581.4,746.3 582.8,741.6 582.1,746.7 583.8,740.2 583.9,747.7 584.6,739.4 584.1,749.5 585.1,740.7 586.1,749.7 586.5,739.2 586.9,752 587.1,739.2 587.7,750.5 588.4,738.8 588.2,748.2 589.8,738.5 589.9,747 590.4,739.8 590.9,749.9 591.6,743.6 591.6,748.6 592.2,744.9 592.6,749.6 593.6,746.8 593.3,750.4 594.5,749.5 594.6,748.3 595.9,752.9 595.6,748.5 597.1,749.2 596.1,750.2 597.8,751.2 597.2,752.1 598.8,750 599,753.2 599.5,749.8 599.4,753.3 600.4,751.7 600.9,752.7 545.8,740 545.1,741.5 544.7,743 546.6,744.5 598.6,750.6 599.4,752.1 703.5,731.4 703.6,731 704.2,732.5 704.6,733.7 705.9,731.7 705.4,731.6 706.9,732.1 706.2,735.4 707.5,731.7 707.3,735.4 708.6,731 708.9,737.2 709.1,729.4 709.1,735.9 710.7,728.7 710.8,735.5 711.6,729.1 711,733 712.8,730.6 712.9,732.6 713.4,730.4 713.2,731.8 714.3,733.1 714.7,733.9 715.1,733.3 715.8,733.3 716.6,732.4 716.9,731.7 703.7,731.2 714.5,731.7 800.6,731.7 801.1,746.2 801.6,731.4 802.4,745.5 802.7,732.3 803.1,745.6 804.3,733.8 803.9,745.3 805.3,732.1 805,748.9 805.8,731.7 805.6,748.6 806.6,732.2 806.7,748.2 807.8,732.4 808.1,744.3 808.7,731.2 808.5,742.4 810.1,730.4 810.4,741.8 811.4,732.4 811.4,742.6 812.1,733.9 811.8,742.6 813,732 812.6,742.3 814.1,732.6 813.5,741.3 815,732 814.8,744 815.6,732.6 815.8,742.3 817.4,732 817.4,738.4 818.2,733.2 818.4,735.1 818.8,730.3 818.9,736.7 820.1,731.4 820,737.6 820.6,731.7 820.9,739.9 821.7,734.2 822.4,740.5 823.4,732.6 822.8,740.1 824.4,733.5 824.2,739 825.3,733.1 825.2,740 826.3,733.3 825.6,739.8 827.4,730.9 827.4,740.6 827.7,728.8 827.9,743.7 828.6,730.6 828.7,745.1 829.7,731.2 829.5,746.9 831.4,732.9 831.2,745.7 832.2,733.2 832.4,743.3 832.6,735.4 832.8,744.4 834.2,732.3 833.7,744.3 834.8,732.7 834.7,742.6 835.9,731.5 835.9,739.8 837.4,731.8 836.6,733.6 838.3,732.8 838.3,733.3 838.7,730.9 838.8,734.6 839.9,729.6 839.6,732 841.2,730.5 841,732.5 841.6,733.4 842,731.2 842.7,731.5 843.1,728.6 801.6,731 801.8,732.5 801.1,734 802.3,735.5 802.4,737 802.9,738.5 801.5,740 802.7,741.5 802,743 802.5,744.5 802,746 802.1,747.5" marker-start="url(#g)" marker-mid="url(#g)" marker-end="url(#g)"/>
<polyline class="m" points="635.3,638.9 635.6,640.7 635.8,642.4 635.8,643.5 636,644.3 636.2,645.2 636.4,646.4 636.1,643 636.3,645.8 633,654.4 631.8,663.6 635.3,687.7 666.8,667.1 672,668.2 633,669.4 634.1,684.3 751.7,703.8 752.1,704.9 751.4,704.4 739.7,721 747.7,718.7 748.3,719.9 639.3,750.9 657.6,750.9 642.7,764.7 643.9,766.4 645,767 647.9,766.4 643.9,771 644.4,774.4 642.7,780.2 642.1,782.5 652.5,785.3 639.3,789.4 643.9,789.4 646.7,788.2 648.5,798.5 649,804.3 653,807.7 638.7,807.7 648.5,812.3 637.6,819.2 637.6,824.9 638.1,827.2 638.1,828.9 638.4,830.1 638.1,831.2 637.9,828.4 638.1,832.4 735.7,841 751.2,760.7 751.2,759.5 750.9,758.4 751.4,760.1 734.8,911 735.7,942.8 737.2,955.9 737.8,961.4 738.1,963.1 738.2,964.4 738.4,965.7 738.2,966.5 738.6,967.4 738,962.3" marker-start="url(#r)" marker-mid="url(#r)" marker-end="url(#r)"/>
<polyline class="m" points="637.6,653.3 638.7,655.6 636.4,659 635.3,661.3 639.3,657.9 638.1,654.4 637,656.7 637.8,659.6 645.6,653.9 636.4,673.9 639.9,695.7 750.5,732.3 757.4,733.4 753.9,731.1" marker-start="url(#p)" marker-mid="url(#p)" marker-end="url(#p)"/>
<polyline class="m" points="659.2,672.9 655.2,674.7 655,674.3 665.1,674.9 657.4,672.6 662.3,676.1 665.2,674.8 663.4,671.3 654.2,674.4 657.9,671.1 658.2,673.5 663.6,674.2 658.2,671.3 663.6,677.9 658.7,670.9 662.3,676.8 660.1,670.8 657.3,673 661.1,678.5 659.1,673.4 657.7,674.2 656.7,672.5 659.5,676.1 663.3,677.8 661.1,672.7 658.8,678.4 659.6,673.7 659.5,672.6 658.6,669.2 656.8,674.5 642.2,688.9 643.3,684.3 641,699.2 639.9,679.7 758.8,713.9 756.6,710.6 757.2,709.5 754.4,712 757.1,716 755,711.3 756.4,715.5 756.5,712.6 756.5,708.9 756.8,713.9 756.5,714.1 756.3,709.9 757,712.2 756.2,717.9 757.9,715.2 757.4,710.4 756,712.4 756.1,714.8 756,709.4 756.6,717 756.1,712.6 757.9,709.5 756.4,715.5 757.1,714.2 756.5,713 756,717.6 756.9,712.3 756.2,711.7 757.6,713.9 757.1,709.8 754.8,711.5 758.9,716.6 756.9,714.3 756.7,715.8 756.3,716.2 756.2,714.1 756.9,712.2 757.2,716.8 757.4,713.1 757.7,709.7" marker-start="url(#b)" marker-mid="url(#b)" marker-end="url(#b)"/>
<polyline class="m" points="648.2,685.4 646.7,672.3 645.8,667.4 647.4,670.3 643.1,663.2 648,679.8 646.5,680 648,683.7 647.1,671.8 647.6,686.2 648.4,671.5 647.3,677 644.5,663.8 646.2,665 643.3,664 645.9,671.8 644.1,664.6 649.2,680.1 648.7,684.8 649.4,685.1 644.2,665 644.7,662.3 647.7,669.1 647.4,678 646.2,668 648.7,685.6 646,669.4 648,680.5 648.8,684.7 645.4,665.1 649.1,683.7 647.3,670.4 648.3,682.5 644,662.7 646.7,671.3 649.9,685.3 643.9,662.7 650.4,687 647.9,669.9 648.9,679.8 643.9,665.3 647.8,677.4 647.4,671.8 649.4,684.7 648.7,682.1 649,693.5 649.6,698 652.5,706.1 658.2,706.7 653.6,708.4 660.5,685.4 659.4,687.7 657.9,717.3 657.2,715.1 658.9,717.7 659.5,723.4 657.8,720.4 660.9,726.6 657.1,716.5 659.6,722.9 657.4,721.9 657.3,718.3 655.6,714.8 656.8,716.4 656.9,717 660.1,724.2 660.1,725.1 655.2,716.4 660.2,725.7 660.2,725.2 660.9,727.2 660.3,724.2 660,722.8 659.6,722.8 673.9,686.7 674.8,685.6 677.2,685.6 672.4,686.9 673.6,685.4 673,686.1 675.8,686.4 678.5,686.1 674.1,686.2 675.3,684.6 677,685.8 680.6,686.2 673.2,685.6 683.2,685.9 678.9,686.8 672.1,685.8 681.1,686.7 677.4,685.6 682.8,686.2 680.8,686.1 680.3,685 677.3,685.4 755.7,718.7 755.7,721 755.7,723.3 753.8,731.9 756.3,737.4 753.5,728.4 755.9,745.9 754.2,730.3 754.3,741.3 754.1,738.4 752.2,745.8 754.8,743.2 750.4,738.3 752.8,737 749.5,747.1 750.2,739.8 753.6,730.9 751.3,745.6 749.5,749.2 752.7,724.7 755.4,725.9 753.1,743.7 750.5,747.7 753.6,739.4 753.6,733.1 752.2,736.7 752.3,730.9 754.8,733.6 755.9,732.3 756.3,744.1 753.5,748.7 752.2,748.7 754,732.5 754,741.1 753.3,741.7 747,740.5 750,734.2 754.2,738.3 755.9,739.6 746.5,739.2 752.5,740 750.8,739 750.7,743 755.7,740.7 753.3,739.2 755.3,737.1 748.7,734.8 751.8,736.9 747.5,738.4 755.4,739 748.6,736.6 756.7,741 753.3,741.1 752.8,740.3 747.4,737.6 749.1,739.6 753.4,739.3 752,737.5 743.6,754.1 756.8,754.1 750.5,750.7 747.1,747.2 755.1,747.2" marker-start="url(#o)" marker-mid="url(#o)" marker-end="url(#o)"/>
</g>
<rect x="158.6" y="597.6" width="848.7" height="421.8" class="ax"/>
<path d="M243.5 1019.4v-8.5M243.5 597.6v8.5M413.5 1019.4v-8.5M413.5 597.6v8.5M583.5 1019.4v-8.5M583.5 597.6v8.5M752.5 1019.4v-8.5M752.5 597.6v8.5M922.5 1019.4v-8.5M922.5 597.6v8.5M158.6 879.4h8.5M1007.3 879.4h-8.5M158.6 738.5h8.5M1007.3 738.5h-8.5" class="ax"/>
<text transform="translate(243.5,1075.7) scale(1,1.052)" class="tk" text-anchor="middle">33.2</text>
<text transform="translate(413.2,1075.7) scale(1,1.052)" class="tk" text-anchor="middle">33.4</text>
<text transform="translate(582.9,1075.7) scale(1,1.052)" class="tk" text-anchor="middle">33.6</text>
<text transform="translate(752.7,1075.7) scale(1,1.052)" class="tk" text-anchor="middle">33.8</text>
<text transform="translate(922.4,1075.7) scale(1,1.052)" class="tk" text-anchor="middle">34</text>
<text transform="translate(146.2,1037.5) scale(1,1.052)" class="tk" text-anchor="end">0</text>
<text transform="translate(146.2,896.8) scale(1,1.052)" class="tk" text-anchor="end">200</text>
<text transform="translate(146.2,756.2) scale(1,1.052)" class="tk" text-anchor="end">400</text>
<text transform="translate(146.2,615.6) scale(1,1.052)" class="tk" text-anchor="end">600</text>
<text transform="translate(582.3,1136.2) scale(1,1.020)" class="lb" text-anchor="middle">Salinity</text>
<text transform="translate(37.2,940.8) rotate(-90) scale(1,1.03)" class="lb"><tspan font-style="italic">p</tspan>CO<tspan dy="22.4" font-size="39">2</tspan><tspan dy="-22.4"> (</tspan></text>
<text transform="translate(36.6,789.0) rotate(-90) scale(1.3,1.0)" class="lb mu" style="font-size:44px">μ</text>
<text transform="translate(37.2,760.4) rotate(-90) scale(1,1.03)" class="lb"><tspan font-style="italic">a</tspan>tm<tspan dx="2.5">)</tspan></text>
</g>
<g id="panel-d">
<clipPath id="clip-d"><rect x="1150.0" y="594.1" width="855.9" height="428.8"/></clipPath>
<g clip-path="url(#clip-d)">
<polygon points="1503.7,951.1 1504.7,949.4 1505.7,947.8 1506.7,946.2 1507.7,945.2 1508.7,944.2 1509.7,943.2 1510.7,942 1511.7,941.4 1512.7,940.9 1513.7,941.8 1514.7,942.6 1515.7,943.4 1516.7,942.7 1517.7,942.1 1518.7,941.5 1519.7,940.9 1520.7,940.2 1521.7,939.6 1522.7,940.2 1523.7,940.7 1524.7,941.4 1525.7,941.5 1526.7,941.6 1527.7,941.7 1528.7,942.2 1529.7,942.7 1530.7,943.4 1531.7,945.1 1532.7,946.7 1533.7,947.6 1534.7,947.7 1535.7,947.8 1536.7,947.9 1537.7,948.4 1538.7,948.6 1539.7,948.9 1540.7,949.6 1541.7,950.4 1542.7,951.1 1543.7,950.3 1544.7,949.6 1545.7,949 1546.7,949.5 1547.7,950 1548.7,950.5 1549.7,951.3 1550.7,952.1 1551.7,952.8 1552.7,952.7 1553.7,952.6 1554.7,952.6 1555.7,952.8 1556.7,953.1 1557.7,953.4 1558.7,952.2 1559.7,951.1 1560.7,949.9 1561.7,951.3 1562.7,952.7 1563.7,954.1 1564.7,953.8 1565.7,953.8 1566.7,953.8 1566.7,959.4 1565.7,958.7 1564.7,958 1563.7,957.1 1562.7,957.9 1561.7,958.6 1560.7,959.3 1559.7,959.1 1558.7,958.9 1557.7,958.7 1556.7,958.6 1555.7,958.6 1554.7,958.5 1553.7,958.6 1552.7,958.7 1551.7,958.8 1550.7,960.1 1549.7,961.5 1548.7,962.8 1547.7,962 1546.7,961.2 1545.7,960.4 1544.7,960.5 1543.7,960.7 1542.7,960.8 1541.7,960.8 1540.7,960.8 1539.7,960.9 1538.7,960.6 1537.7,960.3 1536.7,960.1 1535.7,961.2 1534.7,962.4 1533.7,963.6 1532.7,964.1 1531.7,964.7 1530.7,965.4 1529.7,964.5 1528.7,963.7 1527.7,962.8 1526.7,963.2 1525.7,963.6 1524.7,964 1523.7,965 1522.7,965.9 1521.7,966.8 1520.7,966.5 1519.7,966.2 1518.7,965.9 1517.7,965.7 1516.7,965.3 1515.7,964.7 1514.7,965.3 1513.7,965.9 1512.7,966.5 1511.7,966.1 1510.7,965.7 1509.7,964.7 1508.7,962.7 1507.7,960.8 1506.7,958.8 1505.7,957.1 1504.7,955.4 1503.7,953.7" fill="#808080"/>
<polygon points="1688.3,959 1689.3,958.7 1690.3,958.4 1691.3,958 1692.3,956.5 1693.3,955 1694.3,953.8 1695.3,954.2 1696.3,954.6 1697.3,955 1698.3,954.3 1699.3,953.5 1700.3,952.9 1701.3,952.7 1702.3,952.6 1703.3,952.5 1704.3,951.8 1705.3,951.2 1706.3,950.5 1707.3,951.3 1708.3,952 1709.3,952.7 1710.3,951.6 1711.3,950.6 1712.3,949.5 1713.3,950 1714.3,950.7 1715.3,951.3 1716.3,951.1 1717.3,950.9 1718.3,951.4 1718.3,964.9 1717.3,966.1 1716.3,967.4 1715.3,968.6 1714.3,971 1713.3,973.4 1712.3,975.1 1711.3,974.5 1710.3,974 1709.3,973.4 1708.3,972.9 1707.3,972.5 1706.3,972.1 1705.3,971 1704.3,970 1703.3,969 1702.3,969.9 1701.3,970.7 1700.3,971.6 1699.3,970.4 1698.3,969.6 1697.3,968.8 1696.3,969 1695.3,969.1 1694.3,969.3 1693.3,968.7 1692.3,968.2 1691.3,967.6 1690.3,967.8 1689.3,968.1 1688.3,968.3" fill="#808080"/>
<polygon points="1734,959.2 1735,958.9 1736,958.6 1737,958.4 1738,957.3 1739,956.1 1740,955 1741,955.2 1742,955.4 1743,955.5 1744,955 1745,954.4 1746,953.9 1747,954.7 1748,955.6 1749,956.6 1750,955.6 1751,954.6 1752,953.6 1753,952.8 1754,952.1 1755,951.3 1756,951.4 1757,951.5 1758,951.6 1759,952.2 1760,952.8 1761,953.4 1762,952.8 1763,952.1 1764,951.5 1765,951.6 1766,951.7 1767,951.8 1768,950.5 1769,949.1 1770,947.7 1771,948.3 1772,948.9 1773,949.6 1774,949.5 1775,949.6 1776,949.9 1777,949.3 1778,948.8 1779,948.2 1780,947.6 1781,947.4 1782,947.2 1783,947.3 1784,947.4 1785,947.4 1786,948.6 1787,949.8 1788,950.9 1789,951.7 1790,952.5 1791,953.3 1792,953.9 1793,954.5 1794,955.2 1795,954.3 1796,953.6 1796,957.6 1795,957.3 1794,956.8 1793,956.8 1792,956.8 1791,956.8 1790,957.5 1789,958.2 1788,958.9 1787,959.8 1786,960.8 1785,961.7 1784,961.8 1783,961.9 1782,962 1781,961.6 1780,961.1 1779,960.5 1778,960.6 1777,960.8 1776,961 1775,960.3 1774,959.5 1773,958.6 1772,958.3 1771,958 1770,957.7 1769,957.8 1768,958 1767,958.3 1766,959 1765,959.7 1764,960.4 1763,959.3 1762,958.2 1761,957.1 1760,957.8 1759,958.4 1758,959 1757,959 1756,959 1755,959 1754,959 1753,959.1 1752,959.1 1751,959.5 1750,959.9 1749,960.3 1748,960.7 1747,961.2 1746,961.6 1745,961.4 1744,961.1 1743,960.8 1742,960.1 1741,959.4 1740,958.7 1739,959.4 1738,960.2 1737,960.9 1736,960.6 1735,960.2 1734,959.9" fill="#808080"/>
<polygon points="1818.9,956.7 1819.9,957.2 1820.9,957.7 1821.9,958.3 1822.9,957.1 1823.9,955.9 1824.9,954.7 1825.9,953.9 1826.9,950.9 1827.9,948 1828.9,945.1 1829.9,942.1 1830.9,941 1831.9,941.5 1832.9,942 1833.9,942.6 1834.9,942.2 1835.9,941.9 1836.9,942 1837.9,942.3 1838.9,942.7 1839.9,943 1840.9,944.4 1841.9,945.6 1842.9,945.9 1843.9,944.9 1844.9,943.8 1845.9,942.8 1846.9,943.4 1847.9,944.1 1848.9,944.6 1849.9,943.3 1850.9,942.1 1851.9,940.8 1852.9,940.9 1853.9,941.1 1854.9,942.6 1855.9,943.4 1856.9,944.1 1857.9,944.9 1858.9,945.8 1859.9,946.7 1860.9,947.7 1861.9,948.2 1862.9,948.7 1863.9,948.9 1864.9,948.1 1865.9,947.2 1866.9,946.4 1867.9,945.8 1868.9,945.3 1869.9,944.7 1870.9,945.7 1871.9,946.7 1872.9,947.6 1873.9,947.7 1874.9,947.7 1875.9,947.6 1876.9,947.4 1877.9,947.2 1878.9,947 1879.9,946.2 1880.9,945.4 1881.9,944.6 1882.9,944.4 1883.9,944.2 1884.9,944.1 1885.9,944.1 1886.9,944.2 1887.9,944.4 1888.9,943.9 1889.9,943.4 1890.9,942.9 1891.9,942.5 1892.9,942.1 1893.9,941.7 1894.9,941.7 1895.9,941.7 1896.9,941.8 1897.9,941.7 1898.9,941.5 1899.9,941.3 1900.9,942.3 1901.9,943.3 1902.9,944.4 1903.9,944.4 1904.9,944.5 1905.9,944.5 1906.9,944.5 1907.9,944.6 1908.9,944.6 1909.9,945.3 1910.9,946 1911.9,946.7 1912.9,946.1 1913.9,945.5 1914.9,944.7 1915.9,945.6 1916.9,946.4 1917.9,947.3 1918.9,946.3 1919.9,945.3 1920.9,944.4 1921.9,944 1922.9,943.7 1923.9,943.8 1924.9,944.8 1925.9,945.8 1926.9,946.8 1927.9,945.8 1928.9,944.8 1929.9,943.8 1930.9,945.1 1931.9,946.5 1932.9,947.8 1933.9,947.7 1934.9,947.6 1935.9,947.4 1936.9,946.3 1937.9,945.1 1938.9,943.9 1939.9,944.8 1940.9,945.7 1941.9,946.6 1942.9,946.3 1943.9,945.4 1944.9,944.6 1945.9,944.3 1946.9,944.1 1947.9,944 1948.9,942.5 1949.9,941 1950.9,939.6 1951.9,939.9 1952.9,940.1 1953.9,940.3 1954.9,939.6 1955.9,938.9 1956.9,936.1 1957.9,932 1958.9,928 1959.9,928.8 1960.9,930.5 1961.9,932.1 1962.9,932.9 1963.9,934.2 1964.9,935.5 1965.9,936.9 1966.9,938 1967.9,939.2 1968.9,940.3 1969.9,941.7 1970.9,943.1 1971.9,943.8 1972.9,943.5 1973.9,943.2 1974.9,943 1975.9,943.8 1976.9,946.2 1976.9,957.1 1975.9,958 1974.9,958.4 1973.9,959.5 1972.9,960.5 1971.9,961.6 1970.9,961.5 1969.9,960.9 1968.9,960.4 1967.9,960.3 1966.9,960.3 1965.9,960.2 1964.9,960.6 1963.9,961.1 1962.9,961.5 1961.9,960.8 1960.9,964.9 1959.9,970.2 1958.9,976.5 1957.9,977.1 1956.9,977.7 1955.9,976.3 1954.9,974.5 1953.9,972.8 1952.9,972.8 1951.9,972.7 1950.9,972.7 1949.9,970.8 1948.9,972.4 1947.9,975.5 1946.9,980.2 1945.9,980.9 1944.9,981.6 1943.9,980.6 1942.9,979.6 1941.9,977.3 1940.9,976.5 1939.9,975.6 1938.9,974.8 1937.9,973.8 1936.9,972.8 1935.9,972.1 1934.9,971.7 1933.9,971.4 1932.9,971 1931.9,970.6 1930.9,970.2 1929.9,969.8 1928.9,968.9 1927.9,967.9 1926.9,967 1925.9,967.2 1924.9,967.4 1923.9,967.7 1922.9,967.5 1921.9,967.2 1920.9,966.9 1919.9,966.2 1918.9,965.6 1917.9,963.3 1916.9,961.2 1915.9,959.1 1914.9,957 1913.9,956.1 1912.9,956.3 1911.9,956.5 1910.9,958.2 1909.9,960 1908.9,961.6 1907.9,962.1 1906.9,962.5 1905.9,963 1904.9,963.3 1903.9,963.7 1902.9,964.1 1901.9,964.9 1900.9,966.2 1899.9,967.5 1898.9,969.8 1897.9,972 1896.9,974.2 1895.9,975.2 1894.9,975.1 1893.9,974.6 1892.9,975.3 1891.9,976.1 1890.9,976.9 1889.9,977.3 1888.9,977.4 1887.9,977.4 1886.9,976.8 1885.9,975.8 1884.9,974.2 1883.9,972.5 1882.9,970.7 1881.9,969.3 1880.9,969.9 1879.9,970.4 1878.9,971 1877.9,969.7 1876.9,968.5 1875.9,967.3 1874.9,967 1873.9,967 1872.9,966.9 1871.9,966.7 1870.9,966.4 1869.9,966.2 1868.9,967.4 1867.9,968.5 1866.9,969.7 1865.9,968.4 1864.9,967.1 1863.9,965.9 1862.9,966.5 1861.9,967 1860.9,967.5 1859.9,967.4 1858.9,967.2 1857.9,967.1 1856.9,967.4 1855.9,967.8 1854.9,968.2 1853.9,967.5 1852.9,966.9 1851.9,966.3 1850.9,966.2 1849.9,966.1 1848.9,965.9 1847.9,965.4 1846.9,964.8 1845.9,964.2 1844.9,964.7 1843.9,965.3 1842.9,965.8 1841.9,965.5 1840.9,965.4 1839.9,965.3 1838.9,964.8 1837.9,964.3 1836.9,963.9 1835.9,964.7 1834.9,965.5 1833.9,966.3 1832.9,965.3 1831.9,964.4 1830.9,963.5 1829.9,962.6 1828.9,961.5 1827.9,960.4 1826.9,960.9 1825.9,961.5 1824.9,962.4 1823.9,962.3 1822.9,962.2 1821.9,962.2 1820.9,961.3 1819.9,960.5 1818.9,959.7" fill="#808080"/>
<polyline class="m" points="1509.9,962.4 1512.1,943 1511.3,963.3 1514.2,944.7 1515,962.9 1515.6,945.1 1526.3,961 1536,949.3 1537.3,959.1 1540,952.4 1542.1,953.8 1543.7,954.4 1546.7,959.2 1550.6,956.7 1551.6,953.9 1552.2,956.6 1553.2,956.1 1555.5,955.4 1557.1,957.5 1563.1,955 1693,965.8 1694.3,956.6 1695.8,958.5 1697,967.2 1698.3,966.4 1702.4,955 1703.9,953.3 1709.1,970.7 1710.4,971.8 1717.7,961.4 1735.1,957.4 1737.5,958.3 1739.8,957.5 1748.2,958.8 1749.6,958.4 1751.6,955.5 1752.8,956.8 1756.8,957.5 1757.7,956.9 1758.9,955.2 1765.9,953.1 1766.1,957.9 1768.2,952.4 1770.5,949.6 1770.8,950.3 1771,955.8 1773.4,955.7 1776.4,951.1 1778.7,957.7 1779.7,958.5 1780.9,959.3 1787.9,954.6 1791.3,955.6 1794.8,954.8 1795.5,954.7 1826.1,959.6 1827.2,959.6 1829.7,943.7 1833.3,944.5 1833.8,943.9 1834.5,964.3 1838.8,947 1845,962.4 1847.5,963.1 1848.9,945.8 1849.7,963.8 1852.4,943.9 1857.2,946.7 1858.8,948.3 1858.8,962.8 1861.9,965.8 1863.7,964.8 1867.6,965.6 1870.6,950.6 1871.1,964.6 1872,948.7 1873.5,949.1 1874.6,965.8 1876.5,949.1 1877.9,949.4 1878.7,969.7 1881.5,968.2 1885.5,973.7 1889,975.9 1891.7,972.2 1893.3,945.8 1893.9,973.1 1896.4,970.4 1899.6,964.2 1903.7,945.8 1906.7,947.3 1908.3,946.6 1910.2,947.4 1911.5,948.7 1913.6,947.6 1919.3,948.7 1920.4,963.2 1926.1,948 1926.9,965.2 1932.8,967.6 1935.4,950.3 1937.3,949.9 1936.5,971.7 1944.8,946.3 1950.3,943.2 1951.9,968.3 1954.8,970.4 1958.1,974.1 1959.7,968.7 1965.4,938.7 1967.7,957.6" marker-start="url(#h)" marker-mid="url(#h)" marker-end="url(#h)"/>
<polyline class="m" points="1211.5,947 1215.4,947.4 1221.7,948.1 1233.5,946.3 1234.9,948 1237.7,945.6 1239.8,944.9 1241.2,947.4 1245,948.1 1250.3,948.4 1276.8,947.7 1279.6,948.4 1283.8,947.4 1302.7,944.2 1321.6,944.2 1318.8,950.5 1323.7,947.4 1330.6,946.6 1332,944.9 1335.5,946.3 1338.3,946.6 1353.7,948 1357.9,947.4 1384.4,942.7 1392.8,943.8 1404.7,945.2 1416.6,944.9 1428.4,944.9 1448,947.4 1454.7,943.3 1465.9,943.5 1479.4,944 1229,946.7 1230.3,946.5 1227.5,947.7 1225.2,948.3 1225.1,947.7 1226.3,947.5 1226.2,946.9 1225.7,947.7 1227.3,947.4 1226.1,947.8 1227.2,947.3 1226.1,948.2 1224.5,947.5 1225.9,948.2 1267.4,949 1263.2,947.5 1272.9,948.3 1257.7,947.4 1273.3,947.6 1253.8,947.7 1271.9,947.8 1264.9,948.6 1255.3,948.9 1257.2,947.9 1271,948.9 1265.7,948.4 1263.6,948.7 1258.1,948.9 1259.1,948.6 1270,948.5 1254.2,949 1267.6,948.4 1262.4,947.9 1269.6,948 1270.3,948.5 1273.1,948.4 1257.3,947.6 1272.9,948.1 1272.6,948 1256,948.5 1259.5,948.9 1258.2,947.5 1263.4,948.4 1255.3,947.3 1271.8,948 1254.7,948.6 1268.1,947.7 1262.6,948 1268.3,947.9 1273.5,949 1274.1,947.9 1258,948 1271.1,948.9 1263.5,948.2 1253,948.6 1263.4,948.2 1273,948.6 1267.3,947.6 1261.7,947.3 1260.5,948.2 1271.2,948.5 1254.9,947.8 1256.4,948 1254.3,947.9 1259,948.3 1265,947 1260.8,948.7 1257.6,948.2 1253.8,947.3 1261.5,947.8 1259,948.7 1273.4,948.4 1264.9,949.1 1256.8,948.1 1273.1,948.1 1261.9,947.6 1273.3,949.2 1256.7,948.2 1261.7,947.6 1257.8,948.2 1255.4,947.5 1256.5,949.3 1270,947.8 1267,948.4 1291.6,948.4 1306,948.1 1294,948.8 1291.6,948.3 1292,947.8 1291.4,948.8 1299.5,948 1293.6,948.1 1296.4,948.4 1301.9,947.6 1299.2,947.2 1292.2,948 1292.2,949.2 1305.3,948.1 1304,947.8 1288.2,949.5 1297,947.8 1293,947.8 1294.4,948.5 1296.8,948.8 1301.4,947.2 1296.5,949.4 1300.8,948.9 1303.4,949 1298.2,948.2 1306.5,949 1305.6,948.9 1290.9,948.1 1296.2,947.5 1300.2,948.7 1294.9,948.6 1303.7,948.3 1288.8,949.1 1300.6,948.9 1289.7,948.2 1292.5,948.4 1297,948.9 1299.8,947.8 1292.3,947.5 1303.7,949.5 1295.8,947.5 1300.9,947.9 1291.2,948 1293,948.3 1300.3,948.8 1311.6,946.9 1307.7,947 1321.9,946.2 1316.5,947.2 1311.6,946.6 1309.1,946.6 1313.5,946.9 1321.3,946 1306.6,945.4 1311.2,945.7 1323,947 1308.7,947 1313.8,947.3 1320.5,946.9 1319.5,946.9 1321.4,946.1 1312.4,947.2 1319.6,947.3 1322.2,947.9 1318.9,946.7 1306.2,946 1312.2,947.5 1311.4,948 1313.3,947.3 1316.9,947.3 1313.2,945.5 1308,945.3 1308.8,947.2 1309.6,946.6 1309,946.2 1321.4,946.5 1312.3,946.2 1313.5,948.2 1316.9,946.6 1319.1,947.3 1308.2,946.7 1310.5,947.7 1310.4,948 1320.3,946.5 1321.7,946.9 1318.1,947.2 1312.8,947.6 1320.7,947.4 1311.6,947.2 1322.6,946.7 1321.1,948.4 1310.1,948 1318,947 1321.6,946.4 1321.5,947.6 1312.3,946.1 1311,946.8 1314.8,946 1314.3,947.9 1317.8,947 1313.9,946 1320.1,947.1 1310.1,946.8 1322.2,946.7 1318.4,947.1 1317,946.7 1322.6,946.8 1313.3,947.8 1319.7,946.3 1313.2,946.8 1316.1,948 1308,946.6 1312.9,946.7 1308.1,947.3 1309.1,947.7 1319.1,948.7 1321,946.9 1307.9,947.5 1318.3,946.2 1314.3,946.7 1309.7,946.4 1306.1,948.3 1321.3,946.3 1320.7,948 1323.1,945.2 1347.3,947.2 1343.8,946.2 1344.9,946.6 1341.8,946.8 1344.9,947.9 1347.7,946.9 1349.9,947.5 1344,947.7 1347.6,947.1 1350.1,948.3 1348.3,947.8 1343.3,946.9 1350.4,947.2 1346.1,947.7 1350.3,947.9 1342.4,947.6 1347.2,947.8 1351.2,948.7 1346.9,947.8 1342.3,947 1351,947 1346.9,947.1 1343.5,946.6 1349,947.9 1345,947.2 1371.7,945.1 1364.5,946.9 1374.9,944.2 1367.3,947.6 1362.7,947.7 1370.4,945.5 1368.9,947 1376.4,943.4 1363.5,947.4 1371.3,946.4 1371.1,946.7 1370.4,945.8 1370.9,946.9 1371.5,945.4 1364.2,946.7 1367.5,946.8 1365.4,947.2 1375.2,943.4 1363.5,946.7 1373.9,944.9 1369.5,946.4 1368.2,947.9 1360.9,946.7 1375.8,943.3 1363.7,947.8 1376.1,942.4 1362,947.1 1363.6,946.9 1363.2,948.4 1362.1,946 1359.2,947.8 1367.3,947.5 1370.5,945.4 1362.7,946.2 1374.2,943.7 1370.4,946.3 1362.7,947.3 1373.2,945.2 1373.5,945.2 1362.6,947.5 1370.7,946.2 1368.8,947 1361.4,946.7 1373.2,945.2 1362.5,947.3 1437.9,943.5 1440.7,943.4 1440.2,943.1 1435.7,944 1439.6,942.5 1439.3,943.1 1434.7,946.1 1441.1,943.3 1442.9,942 1441.4,942.5 1435.8,944.7 1435.5,944.5 1438.8,943.2 1435.1,944 1434,944.4 1438.6,944.5 1436.9,943.3 1443.8,943 1436.2,945 1438.9,944.2 1443.5,942.3 1438.9,943.2 1436.5,945.3 1439.1,943.1 1440.8,943.8 1436.2,944.4 1440.1,943.1 1443.4,941.9 1444.3,942.2 1444.2,941.1 1439,943 1442.8,943 1439.5,943.3 1438.4,943.5 1442.3,941.2 1436.7,942.9 1440.5,942.7 1443.2,942.7 1435.5,944.3 1434.9,945.3 1507.2,943.8 1496.8,960.5 1503.5,947.2 1493.3,945.1 1497.5,944.7 1489.6,948.1 1509.9,947 1480.9,948 1511.1,947.9 1502.1,959.3 1496,958 1496.9,948.9 1480,951.5 1508.1,955.2 1513.2,960.3 1505.7,937.9 1501.5,955.8 1507.2,943.1 1486.1,944.2 1511.8,939.6 1510.5,957.7 1512.3,943.7 1497.9,956.9 1501.2,939.8 1481.5,951.9 1505.8,951.1 1509.1,949.4 1497.3,957.4 1493.7,947 1513.7,964.2 1502,941.5 1508.5,951.7 1479.9,954.9 1513.1,947.1 1494.1,947.8 1489,955.9 1502.4,947.8 1511.3,944.9 1504.6,955.3 1485.4,950 1509.2,954.7 1501.6,938.2 1486.7,951.9 1498.7,959.7 1506.5,952.3 1496.9,946.1 1485.4,958.7 1509.3,955.9 1493.4,941.9 1493.2,941.2 1485.2,946.5 1498.7,958.5 1503.7,958.4 1487.9,950.6 1502,949 1479.9,948.5 1511.6,948.3 1505.5,951.8 1506,939.6 1480.4,952.1 1513.5,964.3 1496.5,938.7 1482.5,952.5 1484.2,951.7 1496.8,960.1 1504.7,951.8 1482.2,950 1487.7,950.6 1486.6,942.8 1508.7,962.8 1580.7,955.7 1588.6,954.8 1575.2,955.2 1570.5,953.6 1598.1,956.5 1580.9,955.2 1591.9,955.2 1585,955.5 1573.5,955 1599.5,957.2 1581.6,955.9 1582,955.6 1599.5,956 1583.2,954.6 1576,955.1 1583.6,956.5 1598.3,957.4 1585.7,957.5 1593.2,956.5 1578.5,956.2 1588.8,956.1 1575.3,957.8 1589.5,956.3 1589.1,956.7 1593.7,956.1 1567.6,954.5 1586.3,955.3 1577.6,953.6 1572.4,955.7 1586.4,955.4 1594.9,955.4 1598.1,956.2 1586.7,956.9 1572.7,956 1591.2,955.4 1594.5,956 1584.5,956.5 1597.6,956 1581.4,955.3 1598.8,954.7 1588,955.5 1583.6,953.6 1570,955 1595,957.7 1579.6,956.7 1603.5,962.5 1612,959 1608.9,960.9 1596.1,959.2 1610.7,959.8 1599.3,959.4 1623.2,958.6 1600,959.7 1595.4,957.3 1590.7,958.9 1604.7,959.3 1599.8,962.3 1613.3,958.2 1612.6,957.1 1612.7,958.3 1607.7,957 1607.4,958.7 1612.8,956.9 1598.8,960.9 1593,959.9 1608.9,956.5 1597,958 1614.4,959.2 1615.4,958.1 1616.5,957.4 1624.3,956.6 1613.6,960.4 1593.4,960.5 1615.6,958.3 1621.5,956.2 1593.7,960.7 1593.4,959.7 1597.7,960.4 1600,959.4 1622,959.2 1614.1,958.3 1618.9,959.2 1609,960.3 1614.2,956.9 1620,957.6 1621.6,958.1 1605.2,959.9 1612.5,959.8 1612.9,959.8 1593.3,958.9 1620.2,958.5 1597.5,959.4 1615.2,956.7 1594.5,960.8 1611.2,958.4 1613.9,959.6 1620.7,956.3 1592,960.9 1614.8,957.5 1623,956.9 1593.2,959.7 1592.3,959.5 1604.9,959 1619.3,959.2 1619.6,956.4 1600.4,957.9 1602.7,960.3 1610.3,958.8 1622.6,959.5 1609.8,957.7 1623.9,957.5 1618.4,959.5 1614.6,956.7 1607.5,959.1 1600.3,960.7 1595.6,960 1609.3,959.6 1619.4,958.2 1605.4,959.6 1610.7,958.7 1615.2,957.5 1619.7,957.1 1617.5,957.3 1615.4,955.8 1623.7,955.1 1595.5,963.3 1611.4,963.6 1600.7,963.5 1603.9,964 1612.8,962.9 1615.1,964.2 1610.5,964.5 1599.3,963.7 1615.7,962.9 1615.4,963.8 1614.1,963.1 1599,965.3 1612.6,963.3 1615.7,964.5 1606.1,962.8 1613.8,963.2 1612.1,962.9 1604.7,964.8 1606.1,964.1 1616.1,963.8 1617.3,963.6 1617.7,964.3 1614.7,962.9 1602.2,964.3 1615.4,963.1 1613.7,963.6 1598.3,963.8 1600.7,963.9 1647.7,964.7 1650.5,964.7 1661,965.7 1647.5,964 1654.4,965.4 1652.4,965.6 1657.7,966.4 1661.7,964.9 1659.3,965.7 1661,965.7 1660.4,965 1647.4,964 1657.5,964.3 1657.2,965.6 1661.7,964.9 1662.7,965.4 1651.7,964.4 1660.4,966 1661.8,966.2 1653.3,965.5 1652.2,964.9 1662,965.7 1657,966 1656.5,964.8 1658.3,965.3 1648.7,966.1 1654.4,964.2 1653.7,965.1 1673.5,959.4 1665.7,958.3 1684.4,958.8 1680.4,959.2 1683.4,959.5 1680.2,960.3 1663.9,959.4 1669.2,958.1 1687.2,959.8 1669.4,961.6 1678.3,958.5 1665.3,960.3 1664.9,960.1 1668.7,960.3 1687.1,958.5 1671.2,959.2 1687.3,957.4 1680.6,959.7 1672.8,959.7 1683.3,958.4 1682.4,960 1667.7,961.4 1669.6,959.7 1680.9,959.8 1673.1,960.9 1671.9,959.8 1681.5,958.9 1668.7,959 1685.1,957.7 1668.8,960 1676.7,959.8 1679.1,957.2 1679.2,958.8 1664.9,960.9 1684.3,957.6 1688,959.2 1666.9,958.7 1665.8,958.4 1670.8,960 1668.9,960 1679.7,961 1681.3,959.7 1681.5,960.5 1668,960.9 1683.2,960.1 1678.3,959.8 1673.4,958.5 1676.5,959.8 1668.8,958.8 1687.2,958.6 1670.1,960.6 1672.5,961.7 1679.2,958.7 1671.1,958.3 1670.1,958.9 1733.4,959.8 1735.1,959.4 1733.3,958.3 1731.4,960.5 1738.3,957.7 1729,960.9 1736.5,960.2 1726.6,961 1723,960.7 1726.6,960.7 1723.9,959.4 1728.9,960 1723.5,959.6 1736.8,959 1732,961.6 1725.9,960.5 1736.4,961.5 1732.4,958.9 1727.1,961.4 1732.8,959.8 1724.6,959.2 1739.4,959.6 1729.6,959.3 1729.3,963 1722.4,960.5 1740,960.8 1738.5,960.2 1734.9,962 1725.6,961.6 1735.3,958.7 1722.7,960.1 1736.9,961.7 1736.2,961.5 1732.6,959.8 1732,959.5 1582.9,960.5 1617.5,966.1 1667.4,966.8 1668.1,968.8 1676.8,967.2 1481.5,943.9 1482.8,955.3 1880.7,974.4 1880.8,973.8 1861.9,970.4 1837.8,970.1 1848.7,974.6 1840.6,970.4 1856.4,968.9 1835.7,971 1847.8,975.2 1861.8,967.8 1877.4,974.3 1858.4,974 1849.1,972.3 1846.8,968.3 1868.9,975.2 1840.5,973.4 1867.2,970.9 1875.8,970.9 1835.3,972.7 1870.5,971.2 1857.3,967.8 1849.4,968.4 1834.9,968.9 1858.4,970 1865.7,973.3 1873.2,974.1 1837.2,967.1 1854.5,969.1 1844.2,971.6 1850.6,974.3 1857.8,975.3 1878.4,968.7 1853.2,970.1 1844.2,971.6 1846.5,973.8 1855.8,973.6 1837.8,972.1 1838.3,968.9 1841.4,965.6 1880.9,971.5 1831.6,968.3 1870.3,974.4 1832,964.9 1838.9,968.8 1880.5,972.2 1867.2,975.4 1873,967.9 1834,972.1 1872.5,972.7 1863.4,968.3 1861.1,970.5 1872.7,971.5 1875.7,967.6 1838.7,974.1 1879.4,973.9 1868.2,969 1846.2,970.4 1857.8,972.5 1872.7,972.4 1842.3,973.5 1877.7,972.4 1851.4,969.1 1838,968.3 1845.7,972.9 1854.7,966.3 1857.6,974.7 1854.8,973.6 1838.3,969 1838.5,970.5 1839.1,971.2 1835.1,965.4 1878.1,972.4 1837,972.2 1868.6,971 1838.6,973.9 1836.1,966.1 1881.4,970.8 1854.1,966.2 1833.4,971.7 1861.3,971.3 1872,974.6 1831.9,968.6 1868.1,973 1847.8,974.2 1866.8,972.2 1842.9,967.3 1867.3,972.4 1844.7,972.2 1827.3,967.7 1834,968.5 1871.6,973.5 1858.2,966.3 1864.3,971.2 1830.9,965.2 1858,970.3 1835.9,971.2 1881.3,974.7 1852.6,974.4 1868.9,970 1882.1,969.2 1852,969.9 1764.3,960.1 1779.8,961 1810.1,976.9 1812.1,974.9 1818.5,977.6 1821.3,972.5 1826.6,976.2 1836.4,975.3 1846.5,974.2 1828.3,969.5 1832.4,970.8 1837.7,971.5 1841.8,970.2 1825.6,963.4 1898.4,940.5 1931.4,943.2 1503.3,952.9 1504.1,951.9 1504.3,952.8 1504.2,953.5 1505.8,951 1506,955.6 1507.1,948.1 1507.1,954.6 1507.9,949.3 1507.4,958.2 1508.2,945.3 1508.7,960.6 1509.9,945 1510,963 1511,943.2 1510.6,963.6 1512.1,945.2 1511.9,964.7 1513.2,942.6 1513.1,963.3 1513.7,944 1513.6,964.3 1514.3,944.5 1515,963.6 1515.7,945.5 1515.2,962.3 1516.2,944 1516.2,962.6 1518.1,943.8 1517.5,964 1518.8,943.9 1518.6,964.5 1519.7,944.3 1519.6,964.3 1520.8,941.7 1520.6,964.9 1521.6,941.6 1521.9,964.3 1522.4,943 1522.5,964.6 1524.1,942.1 1524.1,960.8 1525.1,945.7 1524.3,960.3 1526,944.2 1525.4,962.2 1526.2,944.8 1526.8,960.3 1527.7,942.9 1527.3,960.9 1529.1,943.3 1528.6,961.1 1530.1,943.9 1530.1,962.4 1530.8,945.7 1531,963.8 1531.5,948.5 1531.3,962.2 1532.3,947.9 1533,961.6 1534.1,950.4 1533.4,962 1534.2,951.6 1534.5,959.7 1535.7,949.7 1536.1,959.2 1536.8,949.7 1536.3,958.1 1537.4,951.8 1537.9,957.2 1538.4,951.7 1538.7,958.8 1539.3,951 1539.2,958.9 1541.1,951.2 1540.6,958.4 1541.5,954.5 1542.2,959.1 1542.5,952.6 1542.3,959.5 1543.8,953.9 1543.2,958 1544.7,952 1544.2,958.7 1546,953.9 1545.5,958.7 1546.2,952 1546.6,958.3 1547.9,952.1 1548,958.4 1548.8,951.7 1548.3,960.1 1549.9,954.1 1550.1,959.8 1550.2,953.7 1550.9,956.3 1551.7,957 1552.1,957.1 1552.5,954.4 1552.3,957.3 1553.2,955.9 1554.1,956.1 1555.1,953.8 1555,956.7 1555.9,955.1 1555.5,956.2 1556.3,956.8 1556.7,957.3 1557.2,955.8 1557.7,956.3 1558.6,955.6 1558.6,956 1559.9,952.8 1559.9,957.4 1560.7,951.5 1560.9,957.8 1561.2,956.2 1562.1,956.9 1562.7,954.9 1562.9,956.5 1563.7,956.6 1563.7,953.1 1564.4,955.2 1564.8,954.8 1565.7,955 1565.9,955 1566.8,955.1 1566.4,956.5 1505.4,952.2 1564.8,954.9 1565.8,956.4 1566.5,957.9 1688.7,960.4 1688.4,966.5 1688.9,960.3 1689.6,966.4 1690.3,962.3 1690.1,966.6 1691.2,960.3 1691.5,964.3 1692.6,958.6 1692.4,965.2 1693.6,956.3 1693.2,965.8 1694.8,955.2 1694.2,964.8 1694.9,957.7 1695.2,964.9 1696,956.5 1696.2,967.6 1697.2,956.9 1697.5,966.7 1698.7,956.4 1698.5,967.8 1699.1,954.9 1699.4,967 1700.4,956 1700.4,969.7 1701.2,954.2 1700.9,969.5 1702,954.6 1702.2,966.4 1703.2,953.9 1703.2,967.3 1704,955.1 1704.7,967.9 1705.3,953.1 1705,967.5 1706.2,952.2 1706.3,970 1707.5,953 1707.2,971.2 1708.4,954.7 1708.3,970.1 1709.2,954.4 1709.4,971.8 1710,953.7 1710.2,971.6 1710.8,952.9 1710.9,973.4 1712.1,953.3 1712.3,973.1 1713.2,953.6 1713.5,971.4 1714.7,952.9 1714.7,969.2 1715,952.7 1715.4,964.4 1716.3,952.8 1715.9,964.1 1717.4,953.5 1717.1,963.6 1718.2,953.2 1717.9,963.5 1689.5,960.1 1689.8,961.6 1689.8,963.1 1688.5,964.6 1688.8,966.1 1716.5,952.5 1716.8,954 1716.7,955.5 1716.7,957 1717.1,958.5 1716.6,960 1717.7,961.5 1717.9,963 1734.3,961.4 1733.5,957.7 1734.9,961.7 1734.6,959 1736.4,959.8 1735.7,958.1 1737.5,962.4 1737.1,959.6 1738.3,959.4 1737.9,958.3 1738.8,958.1 1738.6,957.1 1739.8,957.2 1740.4,955.7 1740.9,956.7 1741.5,955.6 1741.6,959.1 1742,958.8 1743,957.2 1742.6,959 1743.5,957.1 1743.6,959.6 1745.3,956.2 1744.8,959.6 1745.8,956 1745.7,960.1 1746.8,956.5 1747,959.7 1747.8,958 1747.8,959 1748.6,961.1 1748.5,958.1 1750.2,959.2 1749.7,956.7 1751.1,957.3 1751.2,957.6 1752.1,956.1 1752.3,956.8 1753.4,955 1753.2,956.2 1753.5,955.1 1754.1,955.4 1754.9,954.7 1754.7,954.7 1755.8,952.9 1756.5,955.5 1756.8,953.4 1757.2,956.6 1758.1,953.6 1758.2,956.4 1758.7,954.3 1759,956.7 1760.3,954.5 1759.6,956.1 1761.2,955.5 1761.3,954 1762.3,953.9 1762.4,956.1 1762.9,953.7 1763.4,957.3 1763.9,954 1763.8,958.7 1765.3,954.2 1765.1,958.4 1765.9,954.1 1765.7,955.2 1766.5,954.6 1766.6,957.2 1767.5,953.6 1768,955.2 1768.6,950.7 1769,953.8 1770.3,949.8 1769.8,956.5 1770.9,950.1 1771,955.1 1771.9,952.8 1772,957.1 1773.4,952.5 1773.4,956.7 1774.2,953.9 1773.5,957.7 1775.4,950.8 1775.3,958.1 1775.7,953.4 1776.4,959.6 1777.3,952.3 1776.6,958.4 1778.4,950.1 1778.2,959.2 1778.7,950.3 1779.4,958.2 1780,950.6 1779.6,960 1781.1,950.4 1781.2,958.8 1782,951.9 1781.8,959.4 1782.8,949.5 1782.8,959.1 1783.6,948.8 1784,957.8 1784.7,948.9 1784.5,957.9 1785.6,952.1 1785.9,959.3 1787.1,951.4 1786.8,958.2 1788.4,952.9 1788.4,957 1789.3,952.9 1789.4,956.8 1789.9,954.2 1790.1,955.5 1791.4,955.4 1791.2,953.6 1792.2,955.1 1791.5,953.7 1793.5,957.9 1792.9,953.9 1794.3,958.3 1794.4,954.1 1794.8,957.6 1795.2,953.8 1796.3,954.9 1795.9,955.8 1795.8,954.7 1795.2,956.2 1818.7,959.1 1818.6,958 1820.4,959.5 1819.4,957.9 1820.6,958.9 1820.4,958.2 1822.1,961.4 1821.6,957.7 1823.2,958.4 1823.2,960.4 1823.9,957.6 1823.5,959.4 1825.4,956.8 1825,961.3 1825.6,957.3 1825.9,956.3 1826.9,955.5 1826.6,959.3 1827.4,949.5 1827.7,958.4 1829,949 1828.9,958 1829.7,944.1 1829.5,961.3 1830.8,944 1831.3,962.1 1832.2,944.4 1831.6,961.3 1832.6,943.5 1832.5,962.6 1833.7,946.2 1833.8,964.7 1835.2,944.1 1834.5,963.9 1835.5,944.9 1836.2,959.8 1836.7,944 1836.6,960.2 1838.2,947.4 1837.5,963.2 1839.1,943.9 1838.5,960.4 1840.3,944.4 1839.6,961.3 1840.5,945.8 1841,962.5 1841.5,947.5 1841.7,962.9 1843.3,947.5 1842.6,962.3 1843.9,946 1843.6,962.4 1844.9,945.1 1845.2,961.7 1845.9,947.1 1845.7,962.1 1847.1,944.8 1847.1,961.8 1847.4,946.9 1847.9,962.7 1848.6,946 1848.7,962.7 1849.9,944.9 1849.5,963.2 1851.2,943.4 1851.2,964.4 1852.2,942.9 1852.1,963.5 1852.9,943.4 1853.3,964.1 1853.6,942.3 1853.8,966.3 1854.6,944.1 1854.8,965.6 1856,946.5 1855.8,963.8 1856.9,946.4 1856.5,966 1858,947.1 1858.1,965.9 1859,947.1 1858.5,965 1860.3,948.5 1859.8,963.2 1860.9,950.2 1860.5,965.9 1861.5,952.2 1862,964.8 1863,951.9 1862.9,964.8 1863.8,953.3 1864.2,964.5 1865.3,951.1 1864.6,965.8 1866.2,949.7 1866,966.3 1866.4,949.3 1867.1,967.7 1867.6,948.2 1868,962.6 1868.8,948.3 1868.6,965.5 1869.6,947.2 1869.9,964.4 1870.5,949.2 1870.8,963.1 1872.2,948.1 1872,962.8 1873.1,950 1872.4,964.8 1874.3,949.1 1874.1,965.7 1874.9,950 1875.1,963.9 1876.3,950 1876,966.1 1877.1,949.2 1876.5,967.2 1878,950.5 1877.7,966.7 1879,950.1 1879.2,968.8 1879.4,948.4 1880.3,968.9 1880.6,948.9 1881.1,966.9 1881.5,949.1 1881.8,968.2 1882.6,946.5 1882.9,967.9 1883.9,945.6 1883.6,968.7 1885,946.9 1885.3,972.6 1885.7,947.2 1885.8,974.1 1887.2,945.4 1886.7,972 1887.4,946 1887.4,974.7 1889.3,945.5 1889.4,975.2 1889.6,947.3 1890,975.6 1891.2,945.4 1891.2,975.2 1891.5,945.6 1891.5,974.7 1892.9,943.4 1892.9,973.8 1893.6,943.8 1893.8,972.4 1894.9,944 1895.1,973 1895.9,943.1 1896.2,973.6 1897.2,944.4 1896.5,971.3 1898.2,942.8 1898.3,970.6 1899.1,942.6 1899.2,968.6 1899.6,944.1 1900,966.2 1901.3,944.4 1901.2,962.8 1901.6,946.1 1901.9,961.3 1903.1,947.8 1902.6,962.9 1903.8,945.7 1903.7,962.5 1905,945.8 1905.3,961.4 1905.8,947.2 1905.9,961.2 1906.8,946.4 1906.8,959.8 1908,946.1 1907.8,960.1 1908.8,946.2 1908.4,960 1909.5,947.3 1910.3,958.3 1911.1,947.5 1910.7,957 1911.6,948 1911.6,953.5 1912.4,950.1 1912.6,955.1 1913.4,947.5 1913.4,953.7 1915.4,946.1 1915.3,954.4 1915.7,947.3 1915.8,956.6 1917.1,948.7 1917,959.6 1917.9,950.9 1918,959.3 1918.5,948.5 1919.3,962.6 1919.6,946.5 1920.1,964.1 1921.2,947.2 1920.6,962.7 1921.9,947.3 1921.5,964.9 1922.6,947 1923.2,965.4 1923.5,946.3 1924,964.7 1924.7,946.4 1925.2,966.3 1925.9,947.2 1925.7,962 1926.6,948.1 1927.2,965.7 1928.1,949.9 1928.1,965.6 1929.3,946.8 1928.9,967.1 1930.3,946.9 1930.3,968.5 1931,947.2 1931.3,968.6 1931.9,947.8 1931.5,968.3 1932.8,949.9 1933.3,969.8 1933.4,948.9 1934.3,970.2 1934.5,951.7 1934.8,970.1 1935.9,951.1 1936,969.6 1937.2,947.7 1937,969.6 1938.1,947.4 1937.5,972.2 1939,945.5 1938.9,971.4 1939.7,948.1 1939.8,974 1941.2,947.1 1940.9,974.8 1942.1,949.3 1941.5,972.3 1943.3,947.5 1942.4,976.1 1943.7,949.4 1943.7,979.4 1945.1,946.9 1944.4,980 1946.2,945.6 1946.2,979.1 1947.2,946.8 1946.4,976.8 1948.1,947.1 1948.1,974.1 1948.8,945.5 1949.2,969.7 1949.8,942.5 1949.8,969.4 1951.2,943.1 1951.1,970.8 1951.7,941.7 1952.1,969.5 1952.6,942 1952.4,970.2 1953.5,944.3 1953.6,971.1 1955.2,941.8 1954.8,972 1955.4,940.6 1956.3,974 1956.5,939.1 1957.1,974.9 1958.3,935 1958.3,975.2 1959.1,929.4 1958.6,973.7 1959.4,930.6 1959.8,966.9 1961.1,931.9 1961,963.3 1962.2,933.2 1961.9,956.8 1962.6,934.3 1963.3,959 1963.5,938 1963.5,958.3 1964.9,938.3 1965.1,959.5 1965.7,940.4 1965.7,958 1967.3,940.9 1966.7,958.5 1967.8,941.6 1968.3,958.8 1969.1,941.5 1968.5,955.7 1969.5,943.2 1969.7,956.9 1970.9,944.4 1970.7,958.3 1972.1,945.3 1972.2,958.6 1972.7,945.6 1973.3,959.4 1974.1,945.7 1973.7,958.2 1974.7,944.9 1975,955.1 1976.3,946.6 1976.1,956.9 1976.4,950.4 1977.2,955.9 1820.2,957.8 1975,947.3 1975.3,948.8 1976.5,950.3 1975.7,951.8 1976.6,953.3 1975.9,954.8" marker-start="url(#g)" marker-mid="url(#g)" marker-end="url(#g)"/>
<polyline class="m" points="1730.7,619.2 1730.3,622.2 1731,620.4 1732.1,637.1 1732.5,635.9 1731.5,638.3 1733.1,646.7 1733.1,649.1 1733.4,650.9 1733.4,652.7 1733.7,654.5 1733.9,656.3 1734.3,658.7 1734.6,661.1 1735.1,668.3 1634.3,817.9 1633.4,834.9 1633.1,839.1 1633.1,840.9 1632.8,842.7 1633.1,843.9 1632.8,845.1 1633.3,846.3 1633.1,842.1 1632.5,851.1 1653.4,851.1 1646.8,852.3 1645,854.7 1643.8,856.5 1648.9,868.7 1640.8,873.8 1643.8,881.6 1636.6,888.2 1638.4,891.8 1639,894.2 1638.4,896 1639,897.8 1639.6,899 1642.6,897.2 1630.1,919.9 1746.2,904.4 1631.7,929.7 1632.1,930.4 1630.3,949.3 1631,969.5 1631.7,970.8 1630.3,972.2 1631.4,968.1 1746.1,903.5 1747.5,945.2 1748.8,946.6 1743.4,934.5" marker-start="url(#r)" marker-mid="url(#r)" marker-end="url(#r)"/>
<polyline class="m" points="1631.7,960.1 1633,961.4 1634.4,962.8 1631,958.7 1635.7,964.1 1632.4,957.4 1633.7,963.4 1747.5,929.1 1746.1,930.4" marker-start="url(#p)" marker-mid="url(#p)" marker-end="url(#p)"/>
<polyline class="m" points="1636.4,944.6 1637.1,953.3 1654.2,953 1659.1,953.7 1652.8,955.1 1658.5,952.8 1661.7,954.6 1653.6,951.6 1656.1,953.5 1660.8,954.4 1659.7,952.2 1661.7,952.6 1660,957.4 1654.1,954.3 1652.4,953.5 1661.6,952.7 1657.6,953 1661.1,951.6 1656.4,954.5 1658.7,958.2 1656.6,950.7 1655.9,954.4 1659.4,957.6 1661.1,954.1 1658.3,953.4 1660.1,952.1 1661.8,952.7 1751.5,937.8 1752.9,939.2 1754.2,941.2 1750.8,939.9 1752.2,936.5" marker-start="url(#b)" marker-mid="url(#b)" marker-end="url(#b)"/>
<polyline class="m" points="1658.6,923.7 1654,927.7 1654.3,927.6 1653.9,927 1655.1,926.2 1653.9,930.9 1652.5,930.7 1653.8,923.6 1658.1,925.8 1654.9,930.8 1654.3,929.1 1655.3,931.3 1654.6,926.4 1656.1,925.5 1654.4,928.5 1656.4,928.8 1654.6,923.2 1655.1,930.2 1655.3,924.5 1653.8,930.1 1654.5,930.1 1654.3,923.5 1656.3,931.2 1655.2,922.2 1654.2,930.5 1656.1,925.5 1654.5,928.7 1654,927.4 1655.4,925.3 1654.5,923.4 1651.9,938.5 1666.7,943.9 1655.9,947.3 1640.5,950 1639,948.4 1642.9,944.1 1641.4,956.8 1640.6,956.4 1641.3,948 1642.8,950.9 1639,954.1 1642.5,947.3 1639.7,950.4 1644.2,956.2 1639.3,954 1642.3,944.3 1642.1,954.5 1641.7,944.3 1640,945.4 1641.5,945.5 1640.1,954.3 1640.4,953.5 1638.8,953.2 1643.3,949.7 1641.7,951.4 1642.1,949.6 1639.9,948 1640.7,956.4 1643.4,949 1639.2,952.9 1643.2,945.6 1640.8,952.8 1642,942.7 1641.6,956.9 1640.5,953.3 1641.6,944.4 1640.5,957.1 1640.9,947.2 1641.4,948.3 1641,953.9 1640.2,947.5 1638.4,947.5 1640.1,957 1677.8,945.7 1677.2,945.2 1674.4,946.2 1673.1,945 1673.5,945.1 1676,945.3 1674.7,943.5 1675.1,945.4 1672.4,944 1676.8,945.8 1675.3,945.8 1676,945.6 1677.4,946.7 1674.9,944.6 1746.4,917 1747.5,921.1 1746,914.6 1748,916.1 1749.9,915.2 1749.8,919.6 1752.5,921.3 1746.9,922.1 1749.7,916.1 1749.7,919.4 1746.9,916.1 1750.4,918.7 1746.1,920.1 1746,915.3 1751.7,920.9 1751,920.2 1744.5,917.7 1750.2,920 1747.4,922.2 1748.4,916.8 1750,912.3 1745.5,915.1 1747.4,918 1750.5,918.5 1744.5,913.8 1750.9,913.8 1750.1,912.5 1749.6,918.4 1743.6,913.9 1744.8,914.1 1748.5,920.6 1746.2,914.2 1751.8,921 1749.6,913.9 1747.6,915.7 1739.4,912.9 1752.9,908.2 1751.5,939.2 1738,916.9" marker-start="url(#o)" marker-mid="url(#o)" marker-end="url(#o)"/>
</g>
<rect x="1153.5" y="597.6" width="848.9" height="421.8" class="ax"/>
<path d="M1238.5 1019.4v-8.5M1238.5 597.6v8.5M1408.5 1019.4v-8.5M1408.5 597.6v8.5M1578.5 1019.4v-8.5M1578.5 597.6v8.5M1748.5 1019.4v-8.5M1748.5 597.6v8.5M1918.5 1019.4v-8.5M1918.5 597.6v8.5M1153.5 935.8h8.5M2002.4 935.8h-8.5M1153.5 851.2h8.5M2002.4 851.2h-8.5M1153.5 766.7h8.5M2002.4 766.7h-8.5M1153.5 682.1h8.5M2002.4 682.1h-8.5" class="ax"/>
<text transform="translate(1238.4,1075.7) scale(1,1.052)" class="tk" text-anchor="middle">33.2</text>
<text transform="translate(1408.2,1075.7) scale(1,1.052)" class="tk" text-anchor="middle">33.4</text>
<text transform="translate(1578.0,1075.7) scale(1,1.052)" class="tk" text-anchor="middle">33.6</text>
<text transform="translate(1747.7,1075.7) scale(1,1.052)" class="tk" text-anchor="middle">33.8</text>
<text transform="translate(1917.5,1075.7) scale(1,1.052)" class="tk" text-anchor="middle">34</text>
<text transform="translate(1141.1,1037.5) scale(1,1.052)" class="tk" text-anchor="end">7.8</text>
<text transform="translate(1141.1,953.1) scale(1,1.052)" class="tk" text-anchor="end">8</text>
<text transform="translate(1141.1,868.7) scale(1,1.052)" class="tk" text-anchor="end">8.2</text>
<text transform="translate(1141.1,784.4) scale(1,1.052)" class="tk" text-anchor="end">8.4</text>
<text transform="translate(1141.1,700.0) scale(1,1.052)" class="tk" text-anchor="end">8.6</text>
<text transform="translate(1141.1,615.6) scale(1,1.052)" class="tk" text-anchor="end">8.8</text>
<text transform="translate(1577.4,1136.2) scale(1,1.020)" class="lb" text-anchor="middle">Salinity</text>
<text transform="translate(1066.0,808.5) rotate(-90) scale(1,1.030)" class="lb" text-anchor="middle">pH</text>
</g>
<circle cx="196.6" cy="219.5" r="4.3" fill="none" stroke="#808080" stroke-width="0.7"/>
<circle cx="196.6" cy="264.8" r="4.6" fill="#009E73" fill-opacity="0.22"/>
<circle cx="196.6" cy="310.3" r="4.6" fill="#CC79A7" fill-opacity="0.5"/>
<circle cx="196.6" cy="355.8" r="4.6" fill="#0072B2"/>
<circle cx="196.6" cy="401.2" r="4.3" fill="#E69F00" fill-opacity="0.3" stroke="#E69F00" stroke-width="0.7"/>
<text transform="translate(221.8,233.5) scale(1,0.970)" class="lg">pre- and post-trial</text>
<text transform="translate(221.8,278.8) scale(1,0.970)" class="lg">Release</text>
<text transform="translate(221.8,324.3) scale(1,0.970)" class="lg">NF1</text>
<text transform="translate(221.8,369.8) scale(1,0.970)" class="lg">NF2</text>
<text transform="translate(221.8,415.2) scale(1,0.970)" class="lg">Downstream</text>
<text x="174" y="50.8" class="pn">a.</text>
<text x="1166" y="54" class="pn">b.</text>
<text x="175.2" y="633" class="pn">c.</text>
<text x="1170.1" y="636" class="pn">d.</text>
</svg></body></html>
